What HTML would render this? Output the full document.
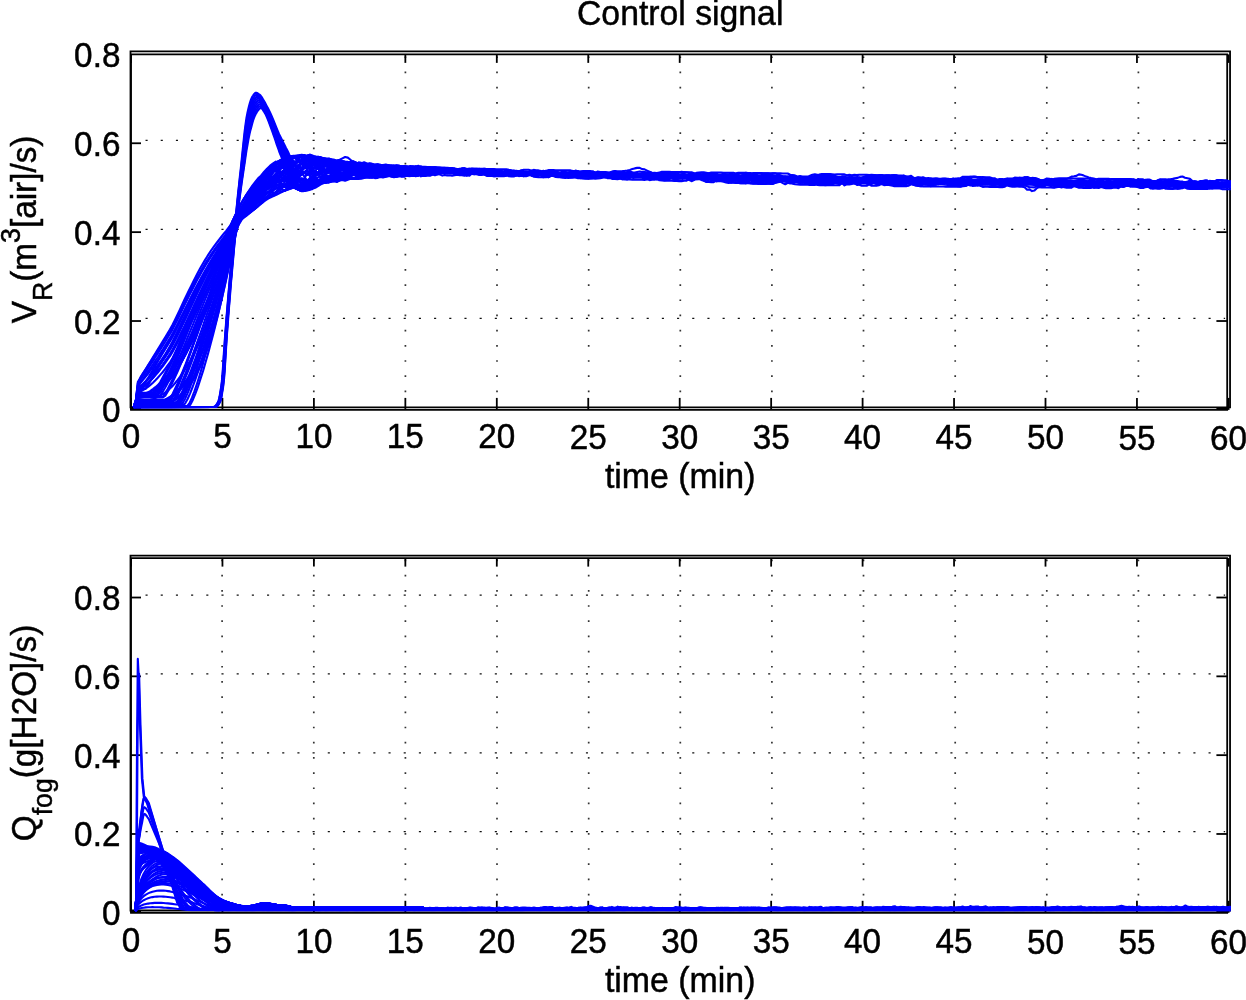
<!DOCTYPE html>
<html lang="en"><head><meta charset="utf-8"><title>Control signal</title>
<style>html,body{margin:0;padding:0;background:#fff}body{width:1246px;height:1000px;overflow:hidden}svg{display:block}text{font-family:"Liberation Sans", Arial, Helvetica, sans-serif;fill:#000}</style></head><body>
<svg width="1246" height="1000" viewBox="0 0 1246 1000">
<rect width="1246" height="1000" fill="#fff"/>
<defs>
<clipPath id="c1"><rect x="130.5" y="51.3" width="1100.3" height="357.2"/></clipPath>
<clipPath id="c2"><rect x="130.5" y="555.6" width="1100.3" height="355.6"/></clipPath>
</defs>
<g font-size="33.3" stroke="#000" stroke-width="0.45"><text transform="translate(680.2 25) scale(1.014 1.08)" text-anchor="middle">Control signal</text></g>
<g stroke="#333" stroke-width="1.7" stroke-dasharray="1.7 13.486" fill="none">
<path d="M222.1 392.2V54.3"/>
<path d="M313.8 392.2V54.3"/>
<path d="M405.4 392.2V54.3"/>
<path d="M497 392.2V54.3"/>
<path d="M588.7 392.2V54.3"/>
<path d="M680.3 392.2V54.3"/>
<path d="M771.9 392.2V54.3"/>
<path d="M863.5 392.2V54.3"/>
<path d="M955.2 392.2V54.3"/>
<path d="M1046.8 392.2V54.3"/>
<path d="M1138.4 392.2V54.3"/>
</g>
<g stroke="#111" stroke-width="1.2" stroke-dasharray="2.1 13.086" fill="none">
<path d="M145.53 318.3H1225.1"/>
<path d="M145.53 229.3H1225.1"/>
<path d="M145.53 140.3H1225.1"/>
</g>
<g stroke="#000" fill="none" stroke-width="1.8" stroke-linejoin="miter">
<path d="M130.5 51.3H1230.06V407.3H130.5Z"/>
<path d="M131 54.38H1227.2V409.9H131Z"/>
<path d="M131 409.9V397.9"/>
<path d="M131 54.38V62.88"/>
<path d="M222.45 409.9V397.9"/>
<path d="M222.45 54.38V62.88"/>
<path d="M313.9 409.9V397.9"/>
<path d="M313.9 54.38V62.88"/>
<path d="M405.35 409.9V397.9"/>
<path d="M405.35 54.38V62.88"/>
<path d="M496.8 409.9V397.9"/>
<path d="M496.8 54.38V62.88"/>
<path d="M588.25 409.9V397.9"/>
<path d="M588.25 54.38V62.88"/>
<path d="M679.7 409.9V397.9"/>
<path d="M679.7 54.38V62.88"/>
<path d="M771.15 409.9V397.9"/>
<path d="M771.15 54.38V62.88"/>
<path d="M862.6 409.9V397.9"/>
<path d="M862.6 54.38V62.88"/>
<path d="M954.05 409.9V397.9"/>
<path d="M954.05 54.38V62.88"/>
<path d="M1045.5 409.9V397.9"/>
<path d="M1045.5 54.38V62.88"/>
<path d="M1136.95 409.9V397.9"/>
<path d="M1136.95 54.38V62.88"/>
<path d="M1228.6 409.9V397.9"/>
<path d="M1228.6 54.38V62.88"/>
<path d="M131 408.9H141"/>
<path d="M1227.2 408.9H1216.4"/>
<path d="M131 321.02H141"/>
<path d="M1227.2 321.02H1216.4"/>
<path d="M131 232.14H141"/>
<path d="M1227.2 232.14H1216.4"/>
<path d="M131 143.26H141"/>
<path d="M1227.2 143.26H1216.4"/>
</g>
<path fill="#00f" stroke="#00f" stroke-width="1.6" stroke-linejoin="round" clip-path="url(#c1)" d="M414.6 168.1L417.3 168.8L420 168.9L422.8 168.9L425.5 168.4L428.2 169.1L431 169.5L433.7 167.9L436.4 167.7L439.2 167.9L441.9 168.6L444.6 169.7L447.4 169.4L450.1 170L452.8 170.2L455.6 170.3L458.3 170.1L461 169.2L463.8 170.6L466.5 170.7L469.2 169.8L472 170.5L474.7 169.4L477.4 170.3L480.2 170.6L482.9 171L485.6 170L488.4 169.5L491.1 170.8L493.8 171.1L496.6 170.9L499.3 171.4L502 171.4L504.8 171.2L507.5 171.1L510.2 171L513 170.7L515.7 171.7L518.4 171.6L521.2 171L523.9 171.8L526.6 171.8L529.4 171.7L532.1 171.5L534.8 172L537.6 172.1L540.3 171.7L543 171.6L545.8 172.1L548.5 171.6L551.2 171.9L554 171.9L556.7 171.9L559.4 172.5L562.2 171.6L564.9 171.5L567.6 172.3L570.4 171.7L573.1 171.9L575.8 172.3L578.6 171.9L581.3 171L584 171.1L586.8 171.2L589.5 172.9L592.2 172.5L595 172.6L597.7 171.3L600.4 171.7L603.2 171.9L605.9 171.9L608.6 172.7L611.4 172.6L614.1 172.9L616.8 173L619.6 173.1L622.3 172.8L625 173.3L627.8 173L630.5 173L633.2 173.5L636 173.7L638.7 173.5L641.4 173.3L644.2 173.7L646.9 173.1L649.6 173.7L652.4 173.2L655.1 173.4L657.8 173.4L660.6 174L663.3 173.6L666 174.3L668.8 173.3L671.5 173.2L674.2 173.6L677 174.4L679.7 174L682.4 173.7L685.2 173.9L687.9 174.6L690.6 174.4L693.4 173.9L696.1 173.7L698.8 173.6L701.6 174L704.3 173.6L707 173.6L709.8 174.7L712.5 173.9L715.2 173.3L718 174.5L720.7 174.9L723.4 174.9L726.2 174.6L728.9 174.8L731.6 174.5L734.4 174.8L737.1 174.3L739.8 175L742.6 175.4L745.3 174.4L748 174.6L750.8 174.4L753.5 173.8L756.3 174.5L759 175.4L761.7 174.8L764.5 174.2L767.2 174.8L769.9 174.9L772.7 174.8L775.4 175.8L778.1 175.7L780.9 175.7L783.6 176L786.3 176L789.1 176.1L791.8 174.9L794.5 175L797.3 176.2L800 175.9L802.7 176.3L805.5 176.2L808.2 176.3L810.9 176.2L813.7 175.8L816.4 174.6L819.1 174.3L821.9 173.9L824.6 175L827.3 174.2L830.1 174.1L832.8 175L835.5 176.5L838.3 176.8L841 177L843.7 177L846.5 177L849.2 176.8L851.9 177.1L854.7 177L857.4 176.7L860.1 177.2L862.9 177L865.6 176.8L868.3 176.4L871.1 177.4L873.8 176.4L876.5 177.2L879.3 176.7L882 177.3L884.7 177.6L887.5 176.2L890.2 176.3L892.9 176.7L895.7 177.7L898.4 177.6L901.1 177.7L903.9 177.9L906.6 178.1L909.3 177.8L912.1 177.9L914.8 178.1L917.5 177.1L920.3 178.1L923 176.9L925.7 178L928.5 177.8L931.2 178.4L933.9 178.3L936.7 178.4L939.4 178.5L942.1 178.6L944.9 178.3L947.6 178.7L950.3 178.8L953.1 178.7L955.8 178.2L958.5 178.2L961.3 178.5L964 179L966.7 178.8L969.5 177.9L972.2 179.1L974.9 179.3L977.7 179.5L980.4 179.2L983.1 179.5L985.9 179.2L988.6 179.6L991.3 179.6L994.1 179L996.8 179.5L999.5 178.8L1002.3 178.8L1005 179.4L1007.7 179.7L1010.5 179.3L1013.2 179.2L1015.9 179.2L1018.7 178.5L1021.4 178L1024.1 178.9L1026.9 179.6L1029.6 178.7L1032.3 179.3L1035.1 179.2L1037.8 180.2L1040.5 180.4L1043.3 180.1L1046 179.3L1048.7 179.3L1051.5 180L1054.2 179.6L1056.9 178.8L1059.7 180.3L1062.4 180.2L1065.1 180.5L1067.9 180.2L1070.6 180.1L1073.3 180.8L1076.1 180.4L1078.8 180L1081.5 179.3L1084.3 179.9L1087 181L1089.7 180.6L1092.5 179.7L1095.2 181.2L1097.9 180.8L1100.7 179.3L1103.4 181.2L1106.1 181.3L1108.9 180.5L1111.6 181.1L1114.3 181L1117.1 181.4L1119.8 180.9L1122.5 181.3L1125.3 181.4L1128 181.3L1130.8 180.9L1133.5 179.3L1136.2 179.8L1139 181.1L1141.7 181.3L1144.4 180.6L1147.2 179.8L1149.9 179.4L1152.6 180.9L1155.4 180.8L1158.1 181.2L1160.8 181.6L1163.6 180.9L1166.3 180L1169 180.9L1171.8 182L1174.5 181.8L1177.2 181.9L1180 182L1182.7 182.1L1185.4 181.8L1188.2 181.5L1190.9 181.6L1193.6 181.8L1196.4 182.2L1199.1 181.9L1201.8 182.3L1204.6 181.2L1207.3 181.7L1210 181.3L1212.8 182.2L1215.5 182.1L1218.2 182L1221 182.5L1223.7 182.3L1226.4 181.7L1229.2 181.7L1231.9 182.1L1231.9 186.9L1229.2 186.9L1226.4 187.3L1223.7 187.9L1221 187.5L1218.2 187L1215.5 187.5L1212.8 187.4L1210 188.1L1207.3 187.2L1204.6 187L1201.8 187.3L1199.1 186.8L1196.4 186.7L1193.6 186.9L1190.9 186.5L1188.2 186.6L1185.4 186.6L1182.7 186.7L1180 187.4L1177.2 186.8L1174.5 186.5L1171.8 187L1169 186.6L1166.3 186.3L1163.6 186.5L1160.8 186.4L1158.1 187.7L1155.4 186.9L1152.6 187.3L1149.9 186.6L1147.2 186.1L1144.4 187.3L1141.7 188.1L1139 187.4L1136.2 186.8L1133.5 186.7L1130.8 186.9L1128 186.1L1125.3 185.9L1122.5 185.9L1119.8 186.4L1117.1 186.4L1114.3 186L1111.6 186.1L1108.9 186.3L1106.1 186.1L1103.4 186.3L1100.7 187.2L1097.9 187.1L1095.2 186.4L1092.5 186.2L1089.7 186.6L1087 186.6L1084.3 185.7L1081.5 186.9L1078.8 186.3L1076.1 185.4L1073.3 185.9L1070.6 185.6L1067.9 186.9L1065.1 186.7L1062.4 186.7L1059.7 185.3L1056.9 185.6L1054.2 185.9L1051.5 185.1L1048.7 185.8L1046 185L1043.3 185.5L1040.5 185.2L1037.8 185.7L1035.1 185.3L1032.3 185L1029.6 185L1026.9 185L1024.1 185.5L1021.4 185.5L1018.7 186.2L1015.9 186.3L1013.2 186.3L1010.5 185.7L1007.7 185.6L1005 184.7L1002.3 184.9L999.5 184.9L996.8 184.7L994.1 185L991.3 185.2L988.6 184.7L985.9 184.5L983.1 184.7L980.4 185.1L977.7 185.9L974.9 185.7L972.2 184.7L969.5 184.3L966.7 185.4L964 185.7L961.3 186L958.5 184.7L955.8 185.3L953.1 184.9L950.3 186.2L947.6 185.1L944.9 184.8L942.1 184.3L939.4 184.2L936.7 184.7L933.9 185.2L931.2 185.2L928.5 185L925.7 184.9L923 184.5L920.3 184.6L917.5 185.8L914.8 184.9L912.1 184.3L909.3 183.7L906.6 183.7L903.9 184.5L901.1 185L898.4 184.2L895.7 184.1L892.9 184.3L890.2 184.4L887.5 183.8L884.7 184.1L882 184.5L879.3 184.6L876.5 184.6L873.8 183.3L871.1 184.6L868.3 184L865.6 183.7L862.9 183.5L860.1 184.1L857.4 185.3L854.7 183.7L851.9 183L849.2 183.3L846.5 183.4L843.7 183.8L841 183.9L838.3 184.1L835.5 183L832.8 184.2L830.1 184.5L827.3 183.3L824.6 183.2L821.9 182.9L819.1 182.7L816.4 182.8L813.7 182.6L810.9 183.3L808.2 183.3L805.5 183.4L802.7 182.7L800 182.5L797.3 182.1L794.5 182.8L791.8 182.9L789.1 182.6L786.3 182.2L783.6 181.7L780.9 181.8L778.1 182.5L775.4 182.6L772.7 182.7L769.9 183L767.2 182.6L764.5 181.6L761.7 181.9L759 181.3L756.3 181.3L753.5 181.8L750.8 181L748 180.9L745.3 181.4L742.6 182.6L739.8 182L737.1 181L734.4 180.4L731.6 181.1L728.9 181L726.2 180.4L723.4 180L720.7 180.1L718 180.7L715.2 180L712.5 180.9L709.8 179.8L707 180L704.3 180.5L701.6 179.7L698.8 179.3L696.1 179.5L693.4 180.2L690.6 180.2L687.9 179.6L685.2 178.8L682.4 179.2L679.7 178.8L677 178.9L674.2 178.8L671.5 178.7L668.8 178.9L666 179.5L663.3 179.1L660.6 179.2L657.8 178.2L655.1 178.6L652.4 178.2L649.6 178.3L646.9 179.5L644.2 178.9L641.4 177.7L638.7 177.9L636 177.6L633.2 178.3L630.5 177.3L627.8 177.9L625 177.8L622.3 177.7L619.6 177.4L616.8 178L614.1 178.1L611.4 177.9L608.6 177.4L605.9 177.9L603.2 177L600.4 177L597.7 176.5L595 176.9L592.2 176.5L589.5 176.8L586.8 176.2L584 176.2L581.3 176.3L578.6 176L575.8 176.4L573.1 176.6L570.4 175.8L567.6 176.9L564.9 177.5L562.2 176.9L559.4 176.3L556.7 176L554 176.3L551.2 176.2L548.5 175.4L545.8 175.1L543 176.2L540.3 175.1L537.6 176L534.8 176.3L532.1 176.3L529.4 175L526.6 174.7L523.9 175.5L521.2 175.8L518.4 175.1L515.7 174.7L513 175.6L510.2 175.7L507.5 174.4L504.8 174.4L502 174.7L499.3 174.7L496.6 174.9L493.8 175.3L491.1 175.1L488.4 174.7L485.6 174.5L482.9 174.2L480.2 174.7L477.4 174.5L474.7 174L472 174.3L469.2 174.8L466.5 175.9L463.8 174.4L461 173.4L458.3 174.9L455.6 174.7L452.8 173.8L450.1 173.4L447.4 173.9L444.6 173.4L441.9 173.5L439.2 173.7L436.4 173.5L433.7 174.1L431 173.6L428.2 174.4L425.5 173.8L422.8 174.6L420 174.4L417.3 174.3L414.6 175Z"/>
<g fill="none" stroke="#00f" stroke-width="2.1" stroke-linejoin="round" stroke-linecap="butt" clip-path="url(#c1)">
<path d="M133.6 407.3L136 407.3L137.8 407.3L140.6 407.3L143 407.3L145.5 407.2L148 407.2L150.4 407L152.9 406.9L155.3 406.6L157.8 406.3L160.3 405.8L162.7 405.2L165.2 404.5L167.7 403.7L170.1 402.6L172.6 401.3L175 399.9L177.5 398.1L180 396.2L182.4 393.9L184.9 391.3L187.3 388.4L189.8 385.1L192.2 381.5L194.7 377.5L197.1 373L199.6 368.1L202 362.7L204.5 356.8L207 350.3L209.4 343.3L211.9 335.8L214.3 327.6L216.8 318.7L219.2 309.2L221.7 299L224.1 288.1L226.6 276.4L229 263.9L231.5 250.7L234 236.5L236.4 221.5L239.1 218.9L241.9 216.3L244.6 213.7L247.3 211L250 208.4L252.7 205.9L255.4 202.9L258.2 199.9L260.9 197.3L263.6 195.5L266.3 194.3L269.1 191L271.8 188L274.5 185.7L277.2 185.5L279.9 184.2L282.7 180.1L285.4 179.2L288.1 176.1L290.8 177.8L293.5 173.5L296.2 177.8L299 181.1L301.7 183.6L304.4 185.2L307.1 184.9L309.8 182L312.5 182.7L315.2 183.2L318 183.4L320.7 182.7L323.4 182.7L326.1 182.5L328.8 178L331.5 173L334.2 173.6L336.9 171.8L339.7 173.1L342.4 179.5L345.1 176.8L347.8 176.6L350.5 175.7L353.2 175.1L355.9 175.3L358.6 176.8L361.3 176.8L364.1 177.3L366.8 177.3L369.5 177.1L372.2 177.2L374.9 177.7L377.6 177.3L380.3 176.9L383 177.4L385.8 176.7L388.5 176L391.2 175.9L393.9 176.2L396.6 175.6L399.3 174.7L402 175.2L404.7 173.2L407.4 174.5L410.2 172.3L412.9 172.7L415.6 171.5L418.3 173.3L421 174.2L423.7 173.4"/>
<path d="M133.6 407.3L136 407.2L137.8 407.1L140.6 407.1L143 407L145.5 407L148 406.9L150.4 406.8L152.9 406.6L155.3 406.3L157.8 405.9L160.2 405.4L162.7 404.8L165.1 404L167.6 403.1L170 401.9L172.5 400.6L174.9 399L177.3 397.2L179.8 395.2L182.2 392.8L184.6 390.1L187 387.1L189.5 383.8L191.9 380.1L194.3 375.9L196.7 371.4L199.1 366.4L201.4 360.9L203.8 355L206.2 348.5L208.6 341.5L211 334L213.4 325.8L215.8 317L218.2 307.6L220.6 297.5L223 286.8L225.4 275.3L227.8 263L230.3 250L232.7 236.2L235.2 221.5L237.9 217.5L240.6 213.6L243.4 209.8L246.1 206.2L248.9 202.7L251.7 199.4L254.4 196.4L257.2 193.4L260 189.7L262.8 187.1L265.6 185.8L268.4 183.2L271.2 180.2L274 179.8L276.8 174.6L279.5 177.2L282.3 172.6L285.1 169.1L287.9 162.3L290.6 158.5L293.4 157.1L296.1 159.3L298.8 160.8L301.6 161.4L304.3 165.5L307 160L309.8 157.9L312.5 156.4L315.2 158.2L317.9 162.8L320.7 161.1L323.4 162.6L326.1 163.8L328.8 164.7L331.5 166.3L334.2 166.4L336.9 164.8L339.7 168.2L342.4 170.5L345.1 171.2L347.8 169.3L350.5 170.3L353.2 174.1L355.9 175.6L358.6 173.3L361.3 173.8L364.1 171.9L366.8 170.5L369.5 172.3L372.2 171.4L374.9 170.6L377.6 170.7L380.3 172.1L383 170.5L385.8 168.7L388.5 168.4L391.2 168.5L393.9 169.2L396.6 169.4L399.3 171.4L402 172.9L404.7 171.6L407.4 172.3L410.2 171.3L412.9 169.4L415.6 169.9L418.3 171L421 169.6L423.7 170.1"/>
<path d="M133.6 407.3L136 407L137.8 406.6L140.6 406.6L143 406.6L145.5 406.6L148 406.6L150.4 406.6L152.9 406.6L155.4 406.6L157.9 406.6L160.3 406.6L162.8 406.6L165.3 406.6L167.8 406.6L170.2 406.6L172.7 406.5L175.2 406.5L177.7 406.5L180.2 406.4L182.7 406.4L185.2 406.4L187.8 406.3L190.3 404.8L192.8 399.9L195.3 393.8L197.9 386.8L200.4 379.2L203 371.1L205.5 362.5L208.1 353.4L210.6 344L213.2 334.3L215.7 324.2L218.3 313.8L220.8 303.1L223.3 292.2L225.9 281L228.4 269.5L230.9 257.9L233.4 246L235.9 233.9L238.3 221.5L241 217.7L243.7 214L246.4 210.4L249.1 206.9L251.7 203.7L254.3 201.4L257 198.5L259.6 195.9L262.2 192.7L264.8 190.7L267.4 187.9L270 185.1L272.7 181.7L275.3 180.3L277.9 182.2L280.5 181.4L283.2 181.1L285.8 174L288.5 175.4L291.1 176.8L293.8 181.4L296.5 182.5L299.1 178.7L301.8 185.8L304.5 185.2L307.2 184.9L309.9 181L312.6 181.1L315.3 178.6L318 183.3L320.7 182.7L323.4 181L326.1 175.9L328.8 176.3L331.5 180.6L334.2 178.7L336.9 180.8L339.7 178L342.4 179.1L345.1 177.3L347.8 178.9L350.5 176.7L353.2 174.7L355.9 174.9L358.6 173.9L361.3 173.3L364.1 172L366.8 169.6L369.5 170.4L372.2 171.4L374.9 170.9L377.6 172.9L380.3 171.4L383 170.3L385.8 169.8L388.5 170.8L391.2 173.1L393.9 174.3L396.6 174.1L399.3 174.3L402 173.8L404.7 173.4L407.4 174L410.2 172.3L412.9 174.2L415.6 175.2L418.3 175.2L421 174.6L423.7 174.6"/>
<path d="M133.6 407.3L136 407L137.8 406.4L140.6 406.4L143 406.4L145.5 406.4L148 406.4L150.4 406.4L152.9 406.4L155.3 406.4L157.8 406.4L160.2 406.4L162.7 406.4L165.2 406.4L167.6 406.4L170.1 406.4L172.5 406.3L174.9 406.3L177.4 406.3L179.8 406.2L182.3 406.2L184.7 406.1L187.1 406.1L189.5 403.1L192 397.7L194.4 391.4L196.8 384.3L199.2 376.7L201.6 368.6L204 360L206.4 351L208.8 341.7L211.3 332.1L213.7 322.1L216.1 311.9L218.5 301.4L220.9 290.7L223.3 279.7L225.8 268.5L228.2 257.1L230.6 245.4L233.1 233.6L235.5 221.5L238.3 220L241 218.4L243.7 216.7L246.5 214.8L249.2 212.8L252 210.6L254.7 208.6L257.5 206.5L260.3 204.5L263 202.1L265.8 200.2L268.6 198.4L271.4 197L274.1 195.9L276.9 194.5L279.7 193L282.4 191.7L285.2 190.3L287.9 189.4L290.7 188.7L293.4 187.5L296.1 187.2L298.9 186.5L301.6 186L304.3 186.4L307.1 185.9L309.8 185.3L312.5 184.6L315.2 182.3L317.9 182.2L320.7 178.8L323.4 178.1L326.1 179.2L328.8 177.6L331.5 177.3L334.2 175L336.9 173.8L339.7 171.3L342.4 173L345.1 172.8L347.8 171.3L350.5 173.6L353.2 174.5L355.9 174.2L358.6 173.5L361.3 173.5L364.1 173.8L366.8 175.5L369.5 174.8L372.2 177L374.9 177.3L377.6 176.7L380.3 176.5L383 176.8L385.8 176.2L388.5 175.5L391.2 176.5L393.9 177.2L396.6 176.7L399.3 176L402 176.1L404.7 175.9L407.4 175.8L410.2 175.6L412.9 175.5L415.6 175.6L418.3 174.9L421 173.7L423.7 174.4"/>
<path d="M133.6 407.3L136 406.7L137.8 405.5L140.6 405.5L143 405.5L145.5 405.4L148 405.2L150.4 405L152.9 404.7L155.4 404.2L157.8 403.7L160.3 403L162.7 402.1L165.2 401.1L167.7 399.8L170.1 398.4L172.6 396.7L175 394.7L177.5 392.5L180 390L182.4 387.2L184.9 384.1L187.3 380.7L189.8 377L192.2 372.9L194.7 368.5L197.2 363.6L199.6 358.4L202.1 352.8L204.5 346.7L207 340.2L209.4 333.3L211.9 325.8L214.3 317.9L216.8 309.5L219.3 300.5L221.7 291L224.2 280.9L226.6 270.3L229.1 259L231.6 247.2L234 234.7L236.5 221.5L239.2 219.9L241.9 218.2L244.6 216.4L247.3 214.5L250 212.5L252.8 210.1L255.5 208.2L258.2 205.7L260.9 203.2L263.6 200.1L266.4 196.5L269.1 194.7L271.8 191.8L274.5 187.5L277.2 182.4L280 181.4L282.7 179.5L285.4 178.9L288.1 176.6L290.8 177.5L293.5 173.1L296.3 175.1L299 179.4L301.7 180.8L304.4 182.9L307.1 182.6L309.8 184.3L312.5 183.9L315.2 183.5L318 183.5L320.7 183L323.4 182.2L326.1 182.1L328.8 182.2L331.5 179.9L334.2 176.1L336.9 174.8L339.7 173.2L342.4 173.9L345.1 172.6L347.8 170.4L350.5 172.9L353.2 169.9L355.9 170.4L358.6 167.2L361.3 168L364.1 171.2L366.8 172.6L369.5 172.5L372.2 173.6L374.9 172.9L377.6 173.2L380.3 176.4L383 174.6L385.8 175.5L388.5 175.3L391.2 176.4L393.9 175.5L396.6 174.7L399.3 175.8L402 176.1L404.7 175L407.4 176L410.2 176.1L412.9 175L415.6 176.2L418.3 175.8L421 174.5L423.7 174.8"/>
<path d="M133.6 407.3L136 406.3L137.8 404.5L140.6 404.5L143 404.5L145.5 404.3L148 404.2L150.4 403.9L152.9 403.5L155.4 403L157.8 402.4L160.3 401.6L162.8 400.6L165.3 399.5L167.7 398.1L170.2 396.6L172.7 394.8L175.2 392.7L177.7 390.3L180.2 387.7L182.7 384.8L185.2 381.5L187.7 378L190.2 374.1L192.7 369.9L195.2 365.4L197.8 360.5L200.3 355.2L202.8 349.5L205.3 343.5L207.9 337L210.4 330.1L213 322.7L215.5 314.9L218 306.7L220.5 297.9L223.1 288.6L225.6 278.8L228.1 268.5L230.6 257.6L233.1 246.2L235.5 234.2L238 221.5L240.7 218.3L243.4 215.2L246.1 212.1L248.8 209L251.4 206.1L254.1 203.2L256.7 200.8L259.4 198.2L262 194.9L264.6 192L267.3 189.3L269.9 186.7L272.5 184.1L275.2 181.3L277.8 181.7L280.4 182.6L283.1 184.9L285.7 186.7L288.4 184.1L291.1 184L293.7 186.6L296.4 183.3L299.1 184.4L301.8 183.7L304.5 182L307.2 184L309.9 178.6L312.6 178L315.3 179.2L318 177.3L320.7 176.5L323.4 178L326.1 174L328.8 171.8L331.5 170.6L334.2 170.6L336.9 166.5L339.7 165.2L342.4 165.3L345.1 164.6L347.8 165.2L350.5 167.1L353.2 167.8L355.9 167L358.6 169.6L361.3 171.8L364.1 171.8L366.8 172.5L369.5 175.4L372.2 175.4L374.9 174L377.6 173.1L380.3 172.7L383 172.7L385.8 172.6L388.5 173L391.2 172.7L393.9 171.8L396.6 171L399.3 170.4L402 171.1L404.7 171.8L407.4 172.7L410.2 173.4L412.9 172.5L415.6 172.5L418.3 173L421 173.2L423.7 173"/>
<path d="M133.6 407.3L136 406.6L137.8 405.3L140.6 405.3L143 405.3L145.5 405.3L148 405.3L150.4 405.3L152.9 405.3L155.4 405.3L157.8 405.3L160.3 405.3L162.8 405.3L165.2 405.3L167.7 405.3L170.2 405.3L172.7 405.3L175.2 405.2L177.6 405.1L180.1 405L182.6 405L185.1 403.6L187.6 399L190.1 393.3L192.6 387L195.1 380.1L197.6 372.8L200.1 365.1L202.6 357.1L205.2 348.7L207.7 340.2L210.2 331.4L212.7 322.3L215.2 313L217.7 303.6L220.3 293.9L222.8 284.1L225.3 274.1L227.8 263.9L230.2 253.6L232.7 243L235.2 232.4L237.7 221.5L240.4 217L243.1 212.6L245.8 208.4L248.4 204.4L251.1 200.7L253.8 197.1L256.4 193.6L259.1 190.8L261.7 187.6L264.4 182.2L267.1 179.7L269.7 175.7L272.4 172.2L275 170.9L277.7 167L280.3 161.9L283 159.1L285.7 157.9L288.3 156.8L291 156.7L293.7 156.7L296.4 157.6L299.1 156.1L301.8 156.6L304.5 156.6L307.2 155.7L309.9 155.2L312.6 156.3L315.3 160.8L318 164.3L320.7 160.9L323.4 161.2L326.1 160.3L328.8 161.1L331.5 161.7L334.2 161L336.9 163L339.7 166.8L342.4 166L345.1 162.9L347.8 162.6L350.5 162.1L353.2 162.6L355.9 162.6L358.6 164L361.3 166.3L364.1 168.9L366.8 169.2L369.5 169.6L372.2 169.3L374.9 170.2L377.6 169.2L380.3 169.4L383 168.6L385.8 169.2L388.5 169.5L391.2 170.9L393.9 170.1L396.6 169.4L399.3 170.4L402 169.6L404.7 171.5L407.4 169.9L410.2 169.5L412.9 169.1L415.6 168.8L418.3 170.2L421 168.7L423.7 167.9"/>
<path d="M133.6 407.3L136 406.4L137.8 404.7L140.6 404.7L143 404.7L145.5 404.7L148 404.7L150.4 404.7L152.9 404.7L155.4 404.7L157.8 404.7L160.3 404.7L162.7 404.7L165.2 404.7L167.7 404.7L170.1 404.7L172.6 404.6L175.1 404.5L177.5 404.4L180 404.3L182.5 403.4L185 399L187.4 393.6L189.9 387.5L192.4 380.9L194.8 373.9L197.3 366.6L199.8 358.9L202.3 351L204.7 342.9L207.2 334.6L209.7 326.1L212.2 317.3L214.7 308.5L217.1 299.4L219.6 290.2L222.1 280.8L224.5 271.3L227 261.6L229.5 251.8L232 241.9L234.4 231.8L236.9 221.5L239.6 217.6L242.3 213.7L245 209.9L247.7 206.3L250.4 202.9L253.1 199.6L255.8 196.6L258.5 193.1L261.2 188.9L263.9 185.8L266.6 184.1L269.3 180.6L272 180L274.7 179.2L277.4 176.3L280.1 174.1L282.8 171.5L285.5 171L288.2 171.8L290.9 173.5L293.6 173.6L296.3 177.8L299 175.8L301.7 175L304.4 172.1L307.1 170.9L309.8 172.6L312.5 171.7L315.3 170.9L318 167.5L320.7 165.6L323.4 164.6L326.1 164.2L328.8 165.1L331.5 166.7L334.2 168.5L336.9 168.8L339.7 167.8L342.4 167.2L345.1 168.5L347.8 169.7L350.5 172.8L353.2 172.7L355.9 172.3L358.6 170.5L361.3 170.1L364.1 168.4L366.8 167.4L369.5 166.9L372.2 165.6L374.9 167L377.6 165.5L380.3 165.2L383 165.8L385.8 165.8L388.5 165.9L391.2 166.4L393.9 165.6L396.6 167L399.3 168.1L402 168.2L404.7 169.6L407.4 169.6L410.2 169.7L412.9 170.7L415.6 171L418.3 171.6L421 171.4L423.7 171.4"/>
<path d="M133.6 407.3L136 406.2L137.8 404.3L140.6 404.3L143 404.3L145.5 404.3L147.9 404.3L150.4 404.3L152.9 404.3L155.3 404.3L157.8 404.3L160.2 404.3L162.6 404.3L165.1 404.3L167.5 404.3L170 404.3L172.4 404.2L174.8 404.1L177.2 404L179.6 403.8L182 400.9L184.4 396L186.8 390.3L189.1 384L191.5 377.4L193.9 370.3L196.2 363L198.6 355.5L200.9 347.7L203.2 339.7L205.5 331.5L207.9 323.1L210.2 314.6L212.5 305.9L214.9 297.1L217.2 288.1L219.6 279L221.9 269.8L224.3 260.4L226.7 250.9L229.1 241.2L231.6 231.4L234 221.5L236.7 219.4L239.5 217.2L242.2 214.9L245 212.6L247.8 210.2L250.7 207.8L253.5 205.8L256.4 203.4L259.2 201.3L262.1 199L264.9 198L267.8 196.3L270.7 195.1L273.5 193.8L276.3 192.6L279.2 190.2L282 191.6L284.8 190.4L287.6 187.1L290.4 187.5L293.2 185L296 183.5L298.7 181.6L301.5 179.4L304.2 181.6L307 183.7L309.7 184.3L312.5 183.4L315.2 182.1L317.9 182.1L320.6 183.5L323.4 183.2L326.1 181.9L328.8 181.4L331.5 180.9L334.2 180.9L336.9 181.2L339.6 180.3L342.4 180L345.1 180.8L347.8 179.7L350.5 178.8L353.2 179L355.9 178.9L358.6 179L361.3 178.7L364.1 178L366.8 177.2L369.5 177.8L372.2 177.4L374.9 176.5L377.6 176.5L380.3 175.9L383 175.1L385.8 175.4L388.5 173.6L391.2 172.3L393.9 173.1L396.6 171.1L399.3 171.2L402 171.2L404.7 171.4L407.4 171.8L410.2 171.9L412.9 172.6L415.6 173.3L418.3 172.2L421 172.2L423.7 174.1"/>
<path d="M133.6 407.3L136 406.1L137.8 404L140.6 404L143 404L145.5 404L148 404L150.4 404L152.9 404L155.4 404L157.8 404L160.3 404L162.8 404L165.2 404L167.7 404L170.2 404L172.6 403.9L175.1 403.8L177.6 403.6L180 403.1L182.5 398.9L185 393.7L187.5 387.8L190 381.5L192.4 374.8L194.9 367.8L197.4 360.5L199.9 353L202.4 345.2L204.9 337.3L207.4 329.2L209.9 321L212.3 312.6L214.8 304.1L217.3 295.4L219.8 286.6L222.3 277.7L224.8 268.7L227.2 259.5L229.7 250.2L232.2 240.8L234.7 231.2L237.1 221.5L239.8 216.8L242.5 212.2L245.2 207.9L247.9 203.7L250.6 199.7L253.3 195.6L256 191.3L258.7 186.5L261.4 182.9L264.1 178.2L266.7 175.1L269.4 170.4L272.1 168.2L274.8 166.4L277.5 161.9L280.2 161.2L282.8 162.3L285.5 162L288.2 161.3L290.9 158.4L293.6 156.7L296.3 158L299 159.7L301.7 161.3L304.4 159.4L307.1 156.3L309.8 161.2L312.6 158.7L315.3 156.4L318 157.3L320.7 157.3L323.4 161.2L326.1 166.3L328.8 167.4L331.5 165.4L334.2 166.2L336.9 168.6L339.7 170.2L342.4 169.2L345.1 168L347.8 166.6L350.5 165.7L353.2 164.6L355.9 165.7L358.6 164L361.3 165.3L364.1 165.9L366.8 164.1L369.5 163.4L372.2 163.8L374.9 166.3L377.6 167.3L380.3 168.5L383 168.8L385.8 169.9L388.5 169.9L391.2 169.5L393.9 169.9L396.6 169L399.3 168.6L402 168.3L404.7 168.8L407.4 167.6L410.2 167.9L412.9 167L415.6 167.5L418.3 168L421 167.2L423.7 167.5"/>
<path d="M133.6 407.3L136 406L137.8 403.6L140.6 403.6L143 403.6L145.5 403.6L148 403.6L150.4 403.6L152.9 403.6L155.3 403.6L157.8 403.6L160.2 403.6L162.7 403.6L165.1 403.6L167.6 403.6L170 403.6L172.5 403.5L174.9 403.4L177.4 403.2L179.8 401.1L182.2 396.4L184.7 390.9L187.1 384.9L189.5 378.5L191.9 371.8L194.3 364.8L196.7 357.5L199.1 350.1L201.5 342.4L203.9 334.6L206.3 326.7L208.7 318.6L211.1 310.4L213.5 302L215.9 293.5L218.3 284.9L220.7 276.2L223.1 267.4L225.6 258.5L228 249.4L230.4 240.2L232.9 231L235.3 221.5L238.1 219.7L240.8 217.7L243.5 215.7L246.3 213.6L249 211.4L251.8 208.9L254.6 205.8L257.3 202.8L260.1 199.7L262.9 196.9L265.7 194.2L268.5 192.6L271.3 189.8L274 189.3L276.8 188.3L279.6 187.8L282.4 189.6L285.1 190.7L287.9 189.6L290.6 188.2L293.4 187.7L296.1 187.3L298.9 187.2L301.6 186.6L304.3 185.8L307.1 185.1L309.8 185L312.5 184.3L315.2 183.3L317.9 183.5L320.7 183.5L323.4 182L326.1 179.4L328.8 180.4L331.5 179.1L334.2 176L336.9 174.1L339.7 173.9L342.4 172.7L345.1 173.6L347.8 174.5L350.5 171.6L353.2 171.9L355.9 175.8L358.6 177.8L361.3 176.9L364.1 174L366.8 174.7L369.5 175.1L372.2 176L374.9 174.3L377.6 173.9L380.3 172.5L383 174.3L385.8 174L388.5 172L391.2 172L393.9 173.2L396.6 173.8L399.3 174.5L402 173.1L404.7 171.4L407.4 172.9L410.2 173.8L412.9 174L415.6 174.7L418.3 174.3L421 173.9L423.7 173.5"/>
<path d="M133.6 407.3L136 405.9L137.8 403.2L140.6 403.2L143 403.2L145.5 403.2L148 403.2L150.4 403.2L152.9 403.2L155.4 403.2L157.8 403.2L160.3 403.2L162.8 403.2L165.2 403.2L167.7 403.2L170.2 403.2L172.6 403.1L175.1 402.9L177.6 402.6L180 398.6L182.5 393.5L185 387.8L187.4 381.7L189.9 375.2L192.4 368.5L194.9 361.5L197.4 354.3L199.8 346.9L202.3 339.4L204.8 331.7L207.3 323.9L209.8 316L212.2 307.9L214.7 299.7L217.2 291.5L219.7 283.1L222.2 274.6L224.6 266.1L227.1 257.4L229.6 248.6L232 239.7L234.5 230.7L237 221.5L239.7 217.1L242.4 212.8L245.1 208.7L247.8 204.8L250.5 201.1L253.2 197L255.9 192.7L258.6 188.4L261.3 185.6L264 181.6L266.6 177.8L269.3 174.8L272 172.7L274.7 169.2L277.4 170.2L280.1 172.9L282.8 173L285.5 170.3L288.2 167.1L290.9 168.8L293.6 164.1L296.3 168L299 167.1L301.7 163.9L304.4 165.8L307.1 166.9L309.8 164.8L312.5 162.4L315.3 162.8L318 164.6L320.7 169.4L323.4 169.6L326.1 171.8L328.8 170.8L331.5 169.6L334.2 170.6L336.9 170.8L339.7 170.2L342.4 169.1L345.1 168L347.8 165.3L350.5 167.7L353.2 168.1L355.9 169.6L358.6 169.2L361.3 169.8L364.1 170.6L366.8 169.8L369.5 168.8L372.2 169.5L374.9 169.2L377.6 169L380.3 171.2L383 168.8L385.8 169L388.5 168.1L391.2 167.9L393.9 169L396.6 169.5L399.3 170.2L402 170.2L404.7 169.7L407.4 170L410.2 170.7L412.9 172.7L415.6 173.1L418.3 173.8L421 174.3L423.7 173.7"/>
<path d="M133.6 407.3L136 405.7L137.8 402.7L140.6 402.7L143.1 402.7L145.5 402.7L148 402.7L150.5 402.7L152.9 402.7L155.4 402.7L157.9 402.7L160.3 402.7L162.8 402.7L165.3 402.7L167.8 402.7L170.3 402.7L172.8 402.6L175.3 402.5L177.8 400.5L180.3 395.9L182.8 390.5L185.4 384.7L187.9 378.5L190.5 372L193 365.2L195.6 358.3L198.1 351.2L200.7 343.9L203.3 336.4L205.9 328.9L208.5 321.2L211.1 313.4L213.7 305.5L216.2 297.6L218.8 289.5L221.4 281.4L224 273.1L226.5 264.8L229 256.3L231.6 247.8L234.1 239.2L236.6 230.4L239 221.5L241.7 218.5L244.4 215.5L247.1 212.6L249.7 209.7L252.3 206.8L254.9 204.1L257.5 201.6L260.1 199.3L262.7 197.5L265.3 195L267.8 192.9L270.4 191.5L273 189.1L275.6 186.3L278.2 185.4L280.8 181L283.4 178.6L286 174L288.6 171.1L291.2 171.2L293.9 168.6L296.5 170.1L299.2 172.6L301.9 172.5L304.5 176.9L307.2 180.9L309.9 177.9L312.6 178.4L315.3 177.6L318 181.1L320.7 182.6L323.4 182.1L326.1 181.6L328.8 180.5L331.5 178.4L334.2 177.4L336.9 175.6L339.7 175.9L342.4 175.2L345.1 175L347.8 174.9L350.5 174L353.2 172.6L355.9 170.5L358.6 170.3L361.3 169.1L364.1 168.8L366.8 169L369.5 168.8L372.2 169.1L374.9 169.4L377.6 168.5L380.3 170L383 170.6L385.8 170.6L388.5 170.8L391.2 171.7L393.9 172.4L396.6 171.7L399.3 172.5L402 173.9L404.7 172.3L407.4 173.2L410.2 173L412.9 171.7L415.6 172.9L418.3 173.7L421 173.7L423.7 173.2"/>
<path d="M133.6 407.3L136 405.2L137.8 401.3L140.6 401.2L143 401L145.5 400.7L148 400.3L150.4 399.7L152.9 399L155.4 398L157.9 396.9L160.3 395.6L162.8 394.1L165.3 392.4L167.8 390.5L170.2 388.3L172.7 385.9L175.2 383L177.7 379.9L180.2 376.6L182.7 372.9L185.3 369L187.8 364.8L190.3 360.4L192.8 355.7L195.4 350.8L197.9 345.5L200.5 340L203 334.3L205.6 328.3L208.1 322L210.7 315.4L213.2 308.5L215.8 301.3L218.3 293.8L220.9 286L223.4 277.9L226 269.4L228.5 260.6L231 251.4L233.5 241.8L236 231.9L238.4 221.5L241.1 217.6L243.8 213.8L246.5 210.1L249.1 206.5L251.8 203L254.4 199.5L257 195.6L259.7 191.4L262.3 188.2L264.9 184.8L267.5 182.3L270.1 178.9L272.7 176.9L275.3 174.2L277.9 173L280.6 168.8L283.2 164.6L285.8 163.6L288.5 165.6L291.1 164.8L293.8 161.6L296.5 162L299.1 160.7L301.8 161.6L304.5 160.8L307.2 160.8L309.9 164L312.6 164.5L315.3 166.5L318 169L320.7 166.7L323.4 167.8L326.1 170.2L328.8 166.1L331.5 164.2L334.2 164.9L336.9 167.2L339.7 167.8L342.4 167.2L345.1 169.1L347.8 168.9L350.5 168.4L353.2 170L355.9 170.7L358.6 172L361.3 175L364.1 175.4L366.8 175.2L369.5 174L372.2 173.8L374.9 172.8L377.6 171.4L380.3 171.5L383 170.5L385.8 169.8L388.5 168.8L391.2 168.5L393.9 168.3L396.6 170.2L399.3 170.3L402 171.1L404.7 171.8L407.4 170.9L410.2 170.7L412.9 171.3L415.6 171.6L418.3 171.6L421 171.8L423.7 171.9"/>
<path d="M133.6 407.3L136 405.4L137.8 401.7L140.6 401.7L143.1 401.7L145.5 401.7L148 401.7L150.5 401.7L152.9 401.7L155.4 401.7L157.9 401.7L160.3 401.7L162.8 401.7L165.3 401.7L167.8 401.7L170.3 401.7L172.8 401.6L175.3 399.5L177.8 394.9L180.3 389.6L182.8 383.8L185.3 377.8L187.9 371.5L190.4 365L192.9 358.3L195.5 351.4L198.1 344.4L200.6 337.3L203.2 330.1L205.8 322.9L208.3 315.5L210.9 308.1L213.5 300.6L216.1 293L218.6 285.4L221.2 277.7L223.8 269.9L226.3 262.1L228.8 254.1L231.3 246.1L233.8 238L236.3 229.8L238.8 221.5L241.5 219.6L244.2 217.5L246.9 215.4L249.5 213.2L252.1 211.1L254.7 208.9L257.3 206.4L259.9 203.5L262.5 200.8L265.1 198.9L267.7 196.9L270.3 195.3L272.9 193.5L275.5 192.3L278.1 188.8L280.7 184.5L283.3 183.8L285.9 186.3L288.6 182L291.2 182.2L293.9 180.3L296.5 175.2L299.2 170.9L301.9 173.1L304.5 172.8L307.2 174.4L309.9 174.8L312.6 180.3L315.3 177.7L318 179.7L320.7 180.8L323.4 181.9L326.1 182L328.8 181.7L331.5 181.5L334.2 180.8L336.9 180L339.7 180.3L342.4 178.3L345.1 175.2L347.8 175.7L350.5 173L353.2 175L355.9 174.6L358.6 172.4L361.3 171.5L364.1 172.4L366.8 173.4L369.5 175.3L372.2 175.6L374.9 178.1L377.6 177.9L380.3 176.5L383 176.3L385.8 176.4L388.5 176.2L391.2 175.8L393.9 176.5L396.6 176.8L399.3 176.2L402 176.3L404.7 176L407.4 174.6L410.2 173.8L412.9 175.7L415.6 173.6L418.3 172.7L421 173.4L423.7 173.2"/>
<path d="M133.6 407.3L136 405.2L137.8 401.2L140.6 401.2L143 401.2L145.5 401.2L148 401.2L150.4 401.2L152.9 401.2L155.4 401.2L157.8 401.2L160.3 401.2L162.8 401.2L165.2 401.2L167.7 401.2L170.2 401.2L172.6 400.9L175.1 396.9L177.6 392L180.1 386.5L182.5 380.7L185 374.6L187.5 368.3L190 361.8L192.5 355.1L195 348.3L197.5 341.4L200 334.4L202.5 327.3L204.9 320.2L207.4 312.9L209.9 305.7L212.4 298.3L214.9 291L217.4 283.5L219.9 276L222.4 268.5L224.9 260.8L227.4 253.2L229.9 245.4L232.3 237.5L234.8 229.6L237.3 221.5L240 219.5L242.7 217.4L245.4 215.2L248.1 212.9L250.8 210.7L253.4 208.4L256.1 206.5L258.8 204.2L261.5 201L264.1 198.5L266.8 197.9L269.5 195.7L272.2 195.6L274.8 193.3L277.5 192.3L280.2 189.8L282.9 187.2L285.6 186.9L288.3 185.7L290.9 178.6L293.6 185.2L296.3 184L299 179.8L301.7 183.9L304.4 184.8L307.1 181.8L309.8 182.5L312.6 177.8L315.3 176.4L318 174.7L320.7 174L323.4 176.6L326.1 170.4L328.8 169.8L331.5 171.1L334.2 169.8L336.9 165.8L339.7 168.1L342.4 168.9L345.1 171.4L347.8 172L350.5 172.3L353.2 173.1L355.9 175.5L358.6 176.8L361.3 176.8L364.1 175.5L366.8 175.2L369.5 173.9L372.2 174.3L374.9 171.3L377.6 170.4L380.3 171.1L383 171L385.8 172.6L388.5 171.6L391.2 170.9L393.9 169.6L396.6 170.9L399.3 170L402 171.8L404.7 171.6L407.4 174.9L410.2 174.8L412.9 175.3L415.6 175.4L418.3 172.3L421 173L423.7 173.8"/>
<path d="M133.6 407.3L136 405L137.8 400.6L140.6 400.6L143 400.6L145.5 400.6L147.9 400.6L150.4 400.6L152.8 400.6L155.3 400.6L157.7 400.6L160.2 400.6L162.6 400.6L165 400.6L167.4 400.6L169.8 400.6L172.3 398.1L174.6 393.4L177 388.2L179.4 382.6L181.7 376.6L184.1 370.5L186.4 364.2L188.7 357.7L191 351.1L193.3 344.4L195.6 337.6L197.9 330.7L200.1 323.8L202.4 316.8L204.6 309.7L206.8 302.7L209.1 295.6L211.3 288.4L213.6 281.2L215.9 274L218.1 266.7L220.5 259.3L222.8 252L225.1 244.5L227.5 236.9L229.9 229.3L232.4 221.5L235.1 215.6L237.9 209.9L240.7 204.6L243.5 199.6L246.4 194.9L249.3 190.7L252.2 187L255.1 183.9L258.1 180.3L261 179.8L264 176.8L267 172.4L269.9 169.1L272.8 166.2L275.8 168L278.7 172.7L281.6 174.2L284.4 168.5L287.3 164.4L290.2 162.5L293 158.7L295.8 156.5L298.6 155.8L301.4 156L304.2 156.4L306.9 155.8L309.7 154.6L312.4 155.4L315.2 157L317.9 156.7L320.6 158.1L323.3 158.7L326.1 162.7L328.8 159L331.5 163.2L334.2 165.3L336.9 162L339.6 161.6L342.4 161L345.1 162.8L347.8 162.7L350.5 162.4L353.2 162.9L355.9 163.2L358.6 163.8L361.3 163.4L364.1 162.2L366.8 163.4L369.5 164.5L372.2 164.6L374.9 164.5L377.6 164.2L380.3 165.2L383 167L385.8 168.1L388.5 168.9L391.2 166.1L393.9 166.5L396.6 167.1L399.3 168.1L402 168.4L404.7 168.2L407.4 167.5L410.2 166.8L412.9 167.1L415.6 167.3L418.3 167.5L421 169.1L423.7 169.5"/>
<path d="M133.6 407.3L136 404.8L137.8 400.2L140.6 400.2L143 400.2L145.5 400.2L148 400.2L150.4 400.2L152.9 400.2L155.3 400.2L157.8 400.2L160.2 400.2L162.7 400.2L165.2 400.2L167.6 400.2L170 399.9L172.5 396L174.9 391.2L177.4 385.8L179.8 380.1L182.2 374.2L184.7 368L187.1 361.7L189.5 355.2L191.9 348.7L194.3 342L196.8 335.3L199.2 328.5L201.6 321.6L204 314.7L206.4 307.8L208.8 300.9L211.2 293.9L213.6 286.9L216 279.8L218.4 272.7L220.8 265.6L223.2 258.5L225.6 251.2L228.1 243.9L230.5 236.6L233 229.1L235.4 221.5L238.1 220L240.9 218.4L243.6 216.7L246.4 214.8L249.1 212.9L251.9 210.8L254.6 209.1L257.4 206.9L260.2 204L263 202.1L265.8 198.9L268.5 196.5L271.3 195.2L274.1 195.4L276.9 192L279.6 186.8L282.4 189.6L285.1 190.6L287.9 187.5L290.6 183.1L293.4 186.9L296.1 185.9L298.9 186.7L301.6 186.9L304.3 186.3L307.1 185.1L309.8 184.7L312.5 184.5L315.2 184.4L317.9 183.5L320.7 182.9L323.4 182.8L326.1 182.7L328.8 182.6L331.5 181.5L334.2 180.6L336.9 178.8L339.7 177.3L342.4 173.4L345.1 172L347.8 171L350.5 171.2L353.2 170.9L355.9 172.1L358.6 172.7L361.3 172.7L364.1 174.2L366.8 174.4L369.5 174.4L372.2 174.3L374.9 176.8L377.6 176.6L380.3 176.1L383 175.9L385.8 175.9L388.5 175.9L391.2 176.3L393.9 176.4L396.6 176.4L399.3 175.8L402 176.2L404.7 176.7L407.4 174.7L410.2 174.7L412.9 176L415.6 175.8L418.3 174.7L421 174.7L423.7 174.9"/>
<path d="M133.6 407.3L136 404.7L137.8 399.8L140.6 399.8L143 399.8L145.5 399.8L148 399.8L150.4 399.8L152.9 399.8L155.4 399.8L157.8 399.8L160.3 399.8L162.8 399.8L165.2 399.8L167.7 399.8L170.2 398.2L172.7 393.8L175.1 388.8L177.6 383.4L180.1 377.6L182.6 371.6L185.1 365.5L187.5 359.2L190 352.7L192.5 346.2L195 339.6L197.5 332.9L200 326.2L202.5 319.5L205 312.7L207.5 305.9L210 299.1L212.5 292.2L215 285.3L217.5 278.4L220 271.5L222.5 264.6L225 257.6L227.5 250.5L230 243.4L232.5 236.2L234.9 228.9L237.4 221.5L240.1 217.4L242.8 213.3L245.5 209.4L248.2 205.6L250.9 202.1L253.5 198.5L256.2 195.2L258.9 191.6L261.6 187.7L264.2 185.5L266.9 184.1L269.6 182.5L272.2 179.6L274.9 174.8L277.6 173.1L280.2 169.5L282.9 166.8L285.6 164.4L288.3 165.7L291 164.9L293.7 164.9L296.4 165.4L299 164.7L301.7 169L304.4 168.3L307.1 168L309.9 167.5L312.6 171.7L315.3 173.9L318 173.1L320.7 170.3L323.4 166.9L326.1 166L328.8 168.2L331.5 165.3L334.2 160.5L336.9 163.3L339.7 163.1L342.4 165.5L345.1 162L347.8 162.3L350.5 165.5L353.2 164.6L355.9 165.7L358.6 162.4L361.3 162.9L364.1 164.1L366.8 164.9L369.5 164.9L372.2 165.8L374.9 166.7L377.6 168.2L380.3 169.8L383 168.3L385.8 169.1L388.5 167.4L391.2 168.3L393.9 171.9L396.6 172.4L399.3 172.1L402 171.5L404.7 172.8L407.4 171.6L410.2 171.2L412.9 169.9L415.6 170L418.3 170L421 171.5L423.7 171.3"/>
<path d="M133.6 407.3L136 404L137.8 397.9L140.6 397.6L143 397.2L145.5 396.6L147.9 395.8L150.4 394.8L152.9 393.7L155.3 392.3L157.8 390.7L160.2 388.9L162.6 386.8L165.1 384.6L167.5 382.2L169.9 379.5L172.4 376.5L174.8 373.1L177.2 369.4L179.6 365.5L182 361.3L184.3 356.9L186.7 352.4L189.1 347.6L191.4 342.6L193.8 337.5L196.1 332.1L198.4 326.6L200.7 321L203 315.1L205.4 309.1L207.7 303L210 296.6L212.3 290.1L214.6 283.4L216.9 276.4L219.3 269.3L221.6 262L224 254.4L226.4 246.6L228.8 238.5L231.2 230.2L233.7 221.5L236.4 216.4L239.2 211.5L241.9 206.9L244.7 202.5L247.6 198.3L250.4 194.5L253.3 191L256.1 187L259 182.9L261.9 178.6L264.8 174.5L267.6 171.1L270.5 170.6L273.4 169.5L276.2 165.2L279.1 160.9L281.9 159.5L284.7 157.8L287.6 156.6L290.4 156.4L293.2 156.4L295.9 156L298.7 157L301.5 156.6L304.2 155.2L307 156.2L309.7 161.3L312.5 168.3L315.2 173.5L317.9 172.9L320.6 172.6L323.4 171.2L326.1 169.3L328.8 168.7L331.5 168.4L334.2 167.8L336.9 165.5L339.6 163.1L342.4 162.1L345.1 163.4L347.8 162.8L350.5 163.2L353.2 163.2L355.9 165.2L358.6 166.9L361.3 166.2L364.1 164.6L366.8 165.9L369.5 164.8L372.2 164.7L374.9 165.6L377.6 165.1L380.3 165.5L383 165L385.8 164.5L388.5 165.3L391.2 166.4L393.9 166.8L396.6 166.2L399.3 166.3L402 166.3L404.7 166L407.4 166.6L410.2 167.2L412.9 167.2L415.6 167.3L418.3 168.6L421 166.7L423.7 167.2"/>
<path d="M133.6 407.3L136 403.9L137.8 397.5L140.6 397.2L143 396.8L145.5 396.2L147.9 395.4L150.4 394.3L152.9 393.1L155.3 391.7L157.8 390.1L160.2 388.2L162.7 386.2L165.1 383.9L167.5 381.5L170 378.8L172.4 375.7L174.8 372.3L177.2 368.6L179.7 364.6L182.1 360.4L184.5 356.1L186.8 351.5L189.2 346.7L191.6 341.7L194 336.5L196.3 331.2L198.7 325.7L201 320.1L203.4 314.3L205.7 308.3L208.1 302.1L210.4 295.8L212.8 289.3L215.1 282.7L217.5 275.8L219.8 268.8L222.2 261.5L224.6 254L227 246.3L229.4 238.3L231.9 230.1L234.3 221.5L237 215.9L239.8 210.6L242.5 205.6L245.3 200.8L248.1 196.4L250.9 192.2L253.8 188.4L256.6 185.1L259.4 182.1L262.3 178L265.1 173.6L268 170L270.8 167.8L273.6 164.9L276.5 164.1L279.3 163.9L282.1 163L284.9 163L287.7 162.6L290.5 159.2L293.2 156.7L296 157.8L298.8 159L301.5 155.8L304.3 155.2L307 157.1L309.7 157.6L312.5 160.4L315.2 160.6L317.9 156.7L320.6 157.5L323.4 158.1L326.1 158.6L328.8 158.6L331.5 159.6L334.2 160.4L336.9 161.2L339.6 161.5L342.4 160.9L345.1 161.6L347.8 161.9L350.5 162.8L353.2 164.4L355.9 164.4L358.6 164.2L361.3 163.9L364.1 164L366.8 164.3L369.5 164.2L372.2 164.6L374.9 165.6L377.6 166.1L380.3 164.9L383 165.5L385.8 166.6L388.5 166.6L391.2 168.5L393.9 169.7L396.6 169.5L399.3 168.3L402 168.3L404.7 168.9L407.4 167.5L410.2 167.4L412.9 167.9L415.6 166.3L418.3 167.9L421 168.5L423.7 168.1"/>
<path d="M133.6 407.3L136 403.9L137.8 397.6L140.6 397.3L143 396.8L145.5 396.2L148 395.3L150.4 394.2L152.9 392.9L155.4 391.4L157.9 389.7L160.3 387.7L162.8 385.6L165.3 383.3L167.8 380.7L170.2 377.9L172.7 374.8L175.2 371.2L177.7 367.4L180.2 363.4L182.7 359.1L185.2 354.7L187.7 350L190.2 345.2L192.8 340.1L195.3 335L197.8 329.6L200.4 324.1L202.9 318.5L205.5 312.7L208 306.7L210.5 300.6L213.1 294.4L215.6 288L218.2 281.4L220.7 274.7L223.2 267.7L225.8 260.6L228.3 253.3L230.8 245.7L233.3 237.9L235.8 229.9L238.2 221.5L240.9 217.6L243.6 213.9L246.3 210.2L249 206.6L251.6 203.3L254.2 199.9L256.9 196.8L259.5 194L262.1 191.2L264.7 187.9L267.4 186L270 184.4L272.6 186L275.2 185.7L277.9 184.7L280.5 186.2L283.1 186.8L285.8 185L288.4 187.7L291.1 185.1L293.8 183L296.4 186.5L299.1 185L301.8 186L304.5 182.1L307.2 183.3L309.9 180.7L312.6 175.3L315.3 179.2L318 182.1L320.7 180.3L323.4 181.7L326.1 182.8L328.8 179.8L331.5 180.4L334.2 179.8L336.9 178.6L339.7 175.5L342.4 175.6L345.1 176.6L347.8 173.2L350.5 172.6L353.2 171.1L355.9 169.9L358.6 170.1L361.3 171.2L364.1 171.7L366.8 170.7L369.5 170.1L372.2 170.2L374.9 170L377.6 169.3L380.3 169.6L383 170.7L385.8 170L388.5 170.9L391.2 171.2L393.9 170.4L396.6 170.6L399.3 171.6L402 172.8L404.7 172.8L407.4 172.6L410.2 172.6L412.9 173.1L415.6 172.4L418.3 172.8L421 173.4L423.7 174"/>
<path d="M133.6 407.3L136 403.3L137.8 396L140.6 395.6L143 395L145.5 394.3L148 393.3L150.4 392.1L152.9 390.7L155.3 389.1L157.8 387.2L160.3 385.2L162.7 382.9L165.2 380.5L167.6 377.8L170.1 375L172.5 371.7L175 368.1L177.4 364.2L179.9 360.1L182.3 355.8L184.8 351.2L187.2 346.5L189.6 341.6L192.1 336.6L194.5 331.4L196.9 326.1L199.3 320.7L201.8 315.1L204.2 309.4L206.6 303.6L209 297.6L211.5 291.5L213.9 285.3L216.3 278.9L218.7 272.4L221.2 265.8L223.6 258.9L226 251.9L228.5 244.7L230.9 237.2L233.4 229.5L235.9 221.5L238.6 216.6L241.3 211.8L244 207.3L246.8 203L249.5 199L252.2 195.3L255 191.7L257.7 188.6L260.5 185.6L263.2 182.1L266 178.5L268.8 176L271.5 173.6L274.3 168.5L277 164.5L279.8 162.9L282.5 164L285.2 160.8L288 161.7L290.7 156.7L293.5 156.2L296.2 155.8L298.9 155.8L301.6 155.5L304.4 155.5L307.1 157L309.8 156.4L312.5 157.2L315.2 157.7L317.9 157L320.7 157.1L323.4 159.1L326.1 159.3L328.8 160.1L331.5 161.7L334.2 160.8L336.9 162.4L339.7 165.5L342.4 166.4L345.1 166.9L347.8 167.9L350.5 169.6L353.2 170.6L355.9 172.1L358.6 172.8L361.3 169.9L364.1 169.2L366.8 169.1L369.5 169.6L372.2 167.9L374.9 168.7L377.6 168.2L380.3 169.2L383 168.6L385.8 167.4L388.5 167.5L391.2 168.6L393.9 169L396.6 170.1L399.3 171.7L402 171.8L404.7 172.5L407.4 171.4L410.2 171.2L412.9 170.7L415.6 170.9L418.3 170.5L421 170.1L423.7 171"/>
<path d="M133.6 407.3L136 403.9L137.8 397.5L140.6 397.5L143.1 397.5L145.5 397.5L148 397.5L150.5 397.5L152.9 397.5L155.4 397.5L157.9 397.5L160.4 397.5L162.9 397.5L165.3 395.6L167.8 391.5L170.3 386.9L172.8 381.8L175.4 376.3L177.9 370.7L180.4 364.8L183 358.8L185.5 352.7L188.1 346.6L190.7 340.3L193.3 334.1L195.8 327.8L198.5 321.5L201.1 315.2L203.7 309L206.3 302.7L208.9 296.5L211.6 290.3L214.2 284.1L216.8 277.9L219.5 271.7L222.1 265.6L224.7 259.4L227.2 253.2L229.8 247L232.3 240.8L234.9 234.5L237.4 228.1L239.8 221.5L242.5 217.6L245.2 213.7L247.8 210L250.5 206.4L253.1 202.9L255.6 199.5L258.2 195.9L260.7 192.6L263.3 190L265.8 186.3L268.3 183.2L270.8 181L273.4 178.4L275.9 178.2L278.5 178.5L281 180L283.6 177.8L286.2 177.8L288.8 180.1L291.4 181.2L294 178.7L296.6 180.9L299.3 179.7L301.9 178.2L304.6 181.7L307.3 182.2L309.9 180.5L312.6 176.5L315.3 173.4L318 173.3L320.7 172L323.4 171.5L326.1 170.1L328.8 171.2L331.5 170.9L334.2 169.3L336.9 167.8L339.7 165.8L342.4 167.5L345.1 169.7L347.8 169.3L350.5 165.4L353.2 166.2L355.9 164.4L358.6 166.6L361.3 165.6L364.1 167L366.8 168.6L369.5 168.1L372.2 169.1L374.9 167.1L377.6 166.8L380.3 168.5L383 171.5L385.8 171.9L388.5 172.4L391.2 172.6L393.9 173.3L396.6 172.1L399.3 171.4L402 171.5L404.7 169.8L407.4 172.2L410.2 173.3L412.9 171.4L415.6 171.2L418.3 171.1L421 170.6L423.7 170.1"/>
<path d="M133.6 407.3L136 403.7L137.8 397L140.6 397L143 397L145.5 397L148 397L150.4 397L152.9 397L155.4 397L157.8 397L160.3 397L162.7 397L165.2 393.3L167.7 388.9L170.1 384.2L172.6 379.1L175.1 373.6L177.5 367.9L180 362.1L182.5 356.1L184.9 350.1L187.4 343.9L189.9 337.8L192.3 331.6L194.8 325.4L197.3 319.2L199.7 313L202.2 306.8L204.7 300.7L207.1 294.5L209.6 288.5L212.1 282.4L214.5 276.4L217 270.4L219.5 264.4L222 258.4L224.4 252.4L226.9 246.3L229.4 240.2L231.8 234.1L234.3 227.9L236.7 221.5L239.5 216L242.2 210.7L244.9 205.7L247.6 201L250.3 196.6L253 192.5L255.7 188.6L258.4 185.8L261.1 182L263.8 178.9L266.5 176.4L269.2 173.7L271.9 172L274.6 169.4L277.3 167.2L280 168.6L282.7 163.5L285.5 164L288.2 163.2L290.9 162.4L293.6 166.4L296.3 160.7L299 157.2L301.7 157.6L304.4 158.6L307.1 158.6L309.8 161.5L312.5 161.3L315.3 165.6L318 167.2L320.7 166.5L323.4 166.1L326.1 166.4L328.8 165.5L331.5 166.4L334.2 163.9L336.9 162.8L339.7 163.4L342.4 161.5L345.1 162L347.8 162.5L350.5 163.3L353.2 163.9L355.9 163.5L358.6 163.5L361.3 163.1L364.1 164.2L366.8 164.6L369.5 165.2L372.2 166.7L374.9 167.3L377.6 167.1L380.3 167L383 166.6L385.8 166.9L388.5 167.8L391.2 165.7L393.9 165.5L396.6 165.4L399.3 165.6L402 167.4L404.7 167.1L407.4 166.5L410.2 167.1L412.9 166.4L415.6 166.6L418.3 167L421 167L423.7 167.9"/>
<path d="M133.6 407.3L136 403.3L137.8 395.9L140.6 395.3L143.1 394.6L145.5 393.5L148 392.3L150.5 390.8L152.9 389.1L155.4 387.2L157.9 385.1L160.3 382.8L162.8 380.3L165.3 377.5L167.8 374.6L170.3 371.5L172.8 368L175.3 364.1L177.8 360L180.3 355.6L182.8 351.1L185.3 346.4L187.9 341.5L190.4 336.5L193 331.3L195.5 326.1L198.1 320.7L200.6 315.3L203.2 309.8L205.8 304.2L208.4 298.5L211 292.7L213.5 286.9L216.1 280.9L218.7 274.9L221.2 268.8L223.8 262.5L226.3 256.1L228.9 249.6L231.4 242.9L233.9 236L236.4 228.9L238.9 221.5L241.6 217.8L244.2 214.2L246.9 210.7L249.5 207.3L252.2 204.1L254.8 201.1L257.4 198.3L260 195.6L262.6 192.8L265.2 190.4L267.7 188.9L270.3 187.1L272.9 186.8L275.5 182.8L278.1 181.4L280.7 179.7L283.3 178.4L285.9 177.4L288.6 176.6L291.2 172L293.9 171.9L296.5 171.4L299.2 166.7L301.9 167.7L304.5 162.7L307.2 164.2L309.9 162L312.6 162.9L315.3 161.3L318 160.3L320.7 161.4L323.4 161.4L326.1 161.8L328.8 163.6L331.5 165L334.2 162.6L336.9 164.2L339.7 165.2L342.4 165L345.1 163.2L347.8 165.3L350.5 166.1L353.2 166.9L355.9 168.5L358.6 167.2L361.3 167.2L364.1 168.6L366.8 169.1L369.5 169.1L372.2 170.2L374.9 170.7L377.6 170.9L380.3 171.3L383 170.9L385.8 169.8L388.5 168.9L391.2 171L393.9 172.5L396.6 171.7L399.3 171.6L402 172.4L404.7 171.8L407.4 171.3L410.2 171L412.9 170.8L415.6 171.6L418.3 171.2L421 170.7L423.7 168.6"/>
<path d="M133.6 407.3L136 403.3L137.8 395.8L140.6 395.8L143 395.8L145.5 395.8L148 395.8L150.4 395.8L152.9 395.8L155.4 395.8L157.8 395.8L160.3 395.6L162.7 391.8L165.2 387.5L167.7 382.9L170.1 378.1L172.6 372.9L175.1 367.4L177.5 361.7L180 355.9L182.5 350L185 344L187.4 338L189.9 331.9L192.4 325.9L194.8 319.8L197.3 313.8L199.8 307.8L202.3 301.9L204.8 296L207.2 290.2L209.7 284.4L212.2 278.6L214.7 272.9L217.1 267.3L219.6 261.6L222.1 256L224.6 250.4L227 244.7L229.5 239.1L232 233.3L234.4 227.5L236.9 221.5L239.6 218.6L242.3 215.7L245 212.8L247.7 210L250.4 207.2L253.1 204.2L255.8 201.4L258.5 198.3L261.2 194.8L263.9 191.6L266.6 189.6L269.3 188.2L272 184.9L274.7 182.6L277.4 178.5L280.1 174.9L282.8 174.8L285.5 172.5L288.2 170.7L290.9 169.3L293.6 170.6L296.3 172L299 170.2L301.7 170.3L304.4 172.3L307.1 169.6L309.8 176L312.5 178.4L315.3 182L318 181.9L320.7 182.6L323.4 181.3L326.1 178.6L328.8 179L331.5 179.8L334.2 180.7L336.9 182L339.7 180.4L342.4 177.1L345.1 178.7L347.8 177.2L350.5 173.3L353.2 173.1L355.9 174.9L358.6 176.3L361.3 174.5L364.1 174.8L366.8 174.9L369.5 174.3L372.2 174.7L374.9 175.3L377.6 175.5L380.3 175.2L383 176.6L385.8 176L388.5 174.5L391.2 174.1L393.9 174.6L396.6 174.4L399.3 172.9L402 173.2L404.7 173.3L407.4 171.9L410.2 171.1L412.9 171.4L415.6 172L418.3 172.3L421 172L423.7 170.8"/>
<path d="M133.6 407.3L136 403L137.8 395.1L140.6 395.1L143 395.1L145.5 395.1L147.9 395.1L150.4 395.1L152.8 395.1L155.3 395.1L157.7 395.1L160.2 392.7L162.6 388.5L165 384L167.4 379.3L169.8 374.5L172.3 369.3L174.6 363.8L177 358.1L179.4 352.3L181.7 346.5L184.1 340.5L186.4 334.6L188.7 328.6L191 322.7L193.3 316.7L195.6 310.8L197.9 305L200.1 299.2L202.4 293.4L204.6 287.7L206.8 282.1L209.1 276.6L211.3 271L213.6 265.6L215.9 260.1L218.1 254.7L220.5 249.3L222.8 243.9L225.1 238.4L227.5 232.9L229.9 227.3L232.4 221.5L235.1 215.6L237.9 209.9L240.7 204.6L243.5 199.6L246.4 194.9L249.3 190.3L252.2 185.9L255.1 182.1L258.1 178.3L261 175.7L264 172L267 168.7L269.9 165.9L272.8 163.6L275.8 161.6L278.7 163.4L281.6 160L284.4 158.9L287.3 157.3L290.2 156.6L293 156.4L295.8 156L298.6 155.7L301.4 156.2L304.2 156.3L306.9 160.4L309.7 158.6L312.4 160.3L315.2 159.2L317.9 161.9L320.6 168L323.3 165.7L326.1 163.3L328.8 166.3L331.5 168.4L334.2 168.2L336.9 170.6L339.6 167.8L342.4 169L345.1 167.9L347.8 168.3L350.5 167.5L353.2 165.1L355.9 164.9L358.6 166.8L361.3 168.4L364.1 167.7L366.8 169.8L369.5 168.9L372.2 169L374.9 166.9L377.6 166.6L380.3 168.2L383 169.4L385.8 169.7L388.5 169.9L391.2 169L393.9 168.4L396.6 167L399.3 167.1L402 167L404.7 167.4L407.4 168.7L410.2 168.6L412.9 168.9L415.6 168.8L418.3 169.1L421 168L423.7 169.6"/>
<path d="M133.6 407.3L136 402.9L137.8 394.7L140.6 394.7L143 394.7L145.5 394.7L148 394.7L150.4 394.7L152.9 394.7L155.3 394.7L157.8 394.6L160.2 390.8L162.7 386.5L165.1 382L167.6 377.3L170 372.5L172.5 367.3L174.9 361.8L177.4 356.2L179.8 350.4L182.2 344.5L184.6 338.6L187.1 332.7L189.5 326.8L191.9 320.9L194.3 315L196.7 309.2L199.1 303.4L201.5 297.7L203.9 292L206.3 286.4L208.7 280.9L211.1 275.4L213.5 270L215.9 264.6L218.3 259.3L220.7 254L223.1 248.7L225.5 243.4L228 238L230.4 232.6L232.8 227.2L235.3 221.5L238 217.4L240.8 213.4L243.5 209.6L246.2 205.9L249 202.4L251.8 199.3L254.5 196.6L257.3 194L260.1 191.2L262.9 188.8L265.7 187.6L268.5 185.5L271.3 184.2L274 181.5L276.8 180.6L279.6 180L282.4 179L285.1 180L287.9 177.3L290.6 177.3L293.4 175.5L296.1 174.1L298.9 172L301.6 170.7L304.3 167.6L307.1 167.7L309.8 165.4L312.5 164.8L315.2 163.3L317.9 160.2L320.7 160.2L323.4 160.5L326.1 161.1L328.8 158.8L331.5 159.3L334.2 159.7L336.9 161.9L339.7 162.9L342.4 163.8L345.1 166.4L347.8 168.8L350.5 168.9L353.2 170.8L355.9 170.7L358.6 170.3L361.3 171L364.1 170.7L366.8 170.4L369.5 170L372.2 171.1L374.9 172.2L377.6 171.4L380.3 171.5L383 171.4L385.8 170L388.5 169.2L391.2 169.4L393.9 170.3L396.6 171.5L399.3 171.8L402 172.9L404.7 172.5L407.4 171.3L410.2 171.5L412.9 170.9L415.6 171.5L418.3 170.9L421 171.7L423.7 171.1"/>
<path d="M133.6 407.3L136 402.7L137.8 394.2L140.6 394.2L143 394.2L145.5 394.2L148 394.2L150.4 394.2L152.9 394.2L155.3 394.2L157.8 392.7L160.2 388.6L162.7 384.2L165.1 379.7L167.6 374.9L170 370.1L172.5 365L174.9 359.5L177.4 353.8L179.8 348.1L182.2 342.3L184.6 336.4L187 330.6L189.5 324.7L191.9 318.8L194.3 313L196.7 307.3L199.1 301.6L201.5 295.9L203.9 290.3L206.2 284.8L208.6 279.4L211 274.1L213.4 268.8L215.8 263.5L218.2 258.3L220.6 253.1L223 248L225.4 242.8L227.9 237.6L230.3 232.4L232.8 227L235.2 221.5L237.9 219.4L240.7 217.2L243.4 214.9L246.2 212.6L248.9 210.3L251.7 207.9L254.5 205.8L257.3 203.1L260 199.2L262.8 195.9L265.6 192.8L268.4 192.1L271.2 192L274 192.8L276.8 192.6L279.6 189.7L282.3 184.7L285.1 184.6L287.9 180.6L290.6 178.8L293.4 180.9L296.1 183.4L298.8 184.8L301.6 183.7L304.3 180.6L307 180.8L309.8 179.9L312.5 184L315.2 183.5L317.9 182.9L320.7 182.8L323.4 182.3L326.1 181.9L328.8 181.8L331.5 181.3L334.2 181.6L336.9 180.9L339.7 180.3L342.4 178.4L345.1 175.9L347.8 175.9L350.5 174.8L353.2 174.3L355.9 173L358.6 171.6L361.3 171.4L364.1 170L366.8 170L369.5 171.2L372.2 171.8L374.9 174.5L377.6 174.9L380.3 175.5L383 174L385.8 175L388.5 176L391.2 175.5L393.9 175.5L396.6 175.9L399.3 175.7L402 176.4L404.7 175.9L407.4 174.9L410.2 175.4L412.9 176L415.6 175.7L418.3 174.4L421 174.7L423.7 175.8"/>
<path d="M133.6 407.3L136 402.2L137.8 392.7L140.6 391.5L143 390.2L145.5 388.7L148 387L150.4 384.9L152.9 382.7L155.4 380.3L157.8 377.7L160.3 374.9L162.8 372L165.2 368.8L167.7 365.5L170.2 362.1L172.6 358.3L175.1 354L177.6 349.6L180.1 344.9L182.5 340.1L185 335.2L187.5 330.2L190 325.1L192.5 319.9L195 314.7L197.4 309.5L199.9 304.2L202.4 299L204.9 293.7L207.4 288.4L209.9 283.1L212.4 277.8L214.9 272.5L217.4 267.2L219.9 261.8L222.4 256.4L224.8 250.9L227.3 245.3L229.8 239.6L232.3 233.8L234.7 227.8L237.2 221.5L239.9 216.7L242.6 212.1L245.3 207.7L248 203.6L250.7 199.6L253.4 195.5L256.1 191.5L258.7 187.9L261.4 183.7L264.1 181.2L266.8 179.2L269.5 176L272.1 172.3L274.8 170.4L277.5 169.7L280.2 163.8L282.9 164.3L285.6 165.4L288.2 161L290.9 158.7L293.6 157L296.3 156L299 155.7L301.7 155.5L304.4 156.2L307.1 155.9L309.8 155.5L312.6 156.7L315.3 157.1L318 157.4L320.7 158.3L323.4 158.1L326.1 158.7L328.8 161.3L331.5 160.4L334.2 164.2L336.9 162.6L339.7 167.6L342.4 166.8L345.1 168.3L347.8 168.1L350.5 168.4L353.2 167.9L355.9 168.6L358.6 166.2L361.3 163.7L364.1 163.9L366.8 164.1L369.5 164L372.2 164.8L374.9 165.1L377.6 165.9L380.3 166.5L383 165.6L385.8 166.3L388.5 166.8L391.2 165.8L393.9 166L396.6 167.6L399.3 167.5L402 166.8L404.7 166.1L407.4 167.3L410.2 167.7L412.9 169.1L415.6 169.2L418.3 169.9L421 170.6L423.7 170.9"/>
<path d="M133.6 407.3L136 402.4L137.8 393.3L140.6 393.3L143.1 393.3L145.5 393.3L148 393.3L150.5 393.3L152.9 393.3L155.4 392.4L157.9 388.4L160.3 384.1L162.8 379.6L165.3 375L167.8 370.3L170.3 365.5L172.8 360.4L175.3 355L177.8 349.4L180.3 343.7L182.9 338L185.4 332.2L187.9 326.4L190.5 320.6L193.1 314.9L195.6 309.2L198.2 303.6L200.8 298L203.4 292.6L206 287.2L208.6 281.9L211.2 276.6L213.8 271.5L216.3 266.4L218.9 261.4L221.5 256.5L224.1 251.5L226.6 246.6L229.2 241.7L231.7 236.8L234.2 231.8L236.7 226.8L239.2 221.5L241.9 215.6L244.6 209.9L247.2 204.6L249.8 199.6L252.5 195L255.1 190.7L257.6 186.5L260.2 182.3L262.8 178.9L265.4 175.1L267.9 172.1L270.5 169.1L273.1 165.9L275.6 163.8L278.2 161.8L280.8 160.3L283.4 159L286 159.3L288.6 159.3L291.3 159.6L293.9 161.2L296.6 162.4L299.2 162.3L301.9 160.8L304.6 163.5L307.2 161.6L309.9 161.6L312.6 163.2L315.3 162.5L318 161.3L320.7 160.8L323.4 163.3L326.1 163.2L328.8 164L331.5 163.4L334.2 161.8L336.9 162.3L339.7 162.2L342.4 162.2L345.1 163.9L347.8 167.6L350.5 169L353.2 169.2L355.9 169L358.6 170.6L361.3 170.4L364.1 170.4L366.8 172.3L369.5 171.9L372.2 171.1L374.9 172.2L377.6 170.3L380.3 168.7L383 166.7L385.8 166.3L388.5 166.9L391.2 166.6L393.9 166.9L396.6 166.4L399.3 167.3L402 168.2L404.7 168.1L407.4 168.4L410.2 168.4L412.9 168L415.6 168L418.3 167.3L421 166.7L423.7 167.3"/>
<path d="M133.6 407.3L136 402.2L137.8 392.8L140.6 392.8L143 392.8L145.5 392.8L148 392.8L150.4 392.8L152.9 392.8L155.3 390.5L157.8 386.4L160.3 382.1L162.7 377.6L165.2 372.9L167.6 368.3L170.1 363.5L172.5 358.4L175 353L177.5 347.4L179.9 341.7L182.4 336L184.8 330.3L187.3 324.6L189.7 318.8L192.1 313.1L194.6 307.5L197 302L199.5 296.5L201.9 291.1L204.3 285.8L206.8 280.5L209.2 275.4L211.6 270.4L214.1 265.4L216.5 260.5L219 255.6L221.4 250.8L223.8 246.1L226.3 241.3L228.7 236.5L231.2 231.6L233.7 226.7L236.1 221.5L238.8 216.8L241.5 212.2L244.3 207.8L247 203.6L249.7 199.7L252.5 196.2L255.2 193.2L257.9 190.1L260.7 186L263.4 181.5L266.1 179L268.9 179L271.6 175.2L274.4 170.7L277.1 168.4L279.8 168.7L282.6 166L285.3 162.8L288 159.9L290.8 161.5L293.5 162L296.2 163.9L298.9 160.8L301.7 160.1L304.4 162.3L307.1 165.4L309.8 168.7L312.5 169.4L315.2 170.6L318 172.9L320.7 169.1L323.4 169.4L326.1 171.4L328.8 173.1L331.5 171.4L334.2 171.2L336.9 171.1L339.7 168.2L342.4 167.3L345.1 167.2L347.8 165.7L350.5 165.1L353.2 164.5L355.9 163.8L358.6 163.4L361.3 164.1L364.1 163.9L366.8 163.7L369.5 164.6L372.2 165.2L374.9 165.8L377.6 165.8L380.3 165.5L383 165.9L385.8 167.1L388.5 168.1L391.2 168.3L393.9 167L396.6 167.4L399.3 169.2L402 170.2L404.7 168.6L407.4 168.4L410.2 168.6L412.9 169.2L415.6 170.9L418.3 170.8L421 169.9L423.7 170.8"/>
<path d="M133.6 407.3L136 401.3L137.8 390.2L140.6 388.4L143 386.8L145.5 385L148 382.9L150.4 380.5L152.9 378L155.3 375.3L157.8 372.5L160.2 369.4L162.7 366.3L165.2 362.9L167.6 359.5L170.1 355.9L172.5 351.9L174.9 347.5L177.4 342.9L179.8 338.2L182.3 333.3L184.7 328.3L187.1 323.3L189.5 318.2L192 313.1L194.4 308L196.8 302.9L199.2 297.8L201.6 292.7L204 287.6L206.4 282.6L208.8 277.6L211.3 272.7L213.7 267.7L216.1 262.8L218.5 257.9L220.9 252.9L223.3 247.9L225.8 242.9L228.2 237.8L230.6 232.5L233.1 227.2L235.5 221.5L238.3 217.9L241 214.4L243.7 210.9L246.5 207.6L249.2 204.3L252 200.8L254.7 197.3L257.5 193.5L260.3 190.5L263 187.1L265.8 184.9L268.6 182.2L271.4 180.4L274.1 177.1L276.9 173.7L279.7 171.6L282.4 171.3L285.2 170.1L287.9 171.6L290.7 173.8L293.4 170.7L296.1 170.6L298.9 168.1L301.6 169.9L304.3 168.3L307.1 165.1L309.8 165.6L312.5 169.1L315.2 168.1L317.9 168.3L320.7 172.2L323.4 172.3L326.1 172.2L328.8 172L331.5 171.8L334.2 170.3L336.9 170.3L339.7 173.9L342.4 174.9L345.1 173.1L347.8 174L350.5 174L353.2 172L355.9 172L358.6 173.7L361.3 174.8L364.1 174.4L366.8 175.3L369.5 176.5L372.2 175.8L374.9 174.7L377.6 175.5L380.3 176.7L383 175.5L385.8 174.5L388.5 174.9L391.2 174.2L393.9 173.3L396.6 172.3L399.3 171.5L402 170.3L404.7 170.1L407.4 169.9L410.2 169.2L412.9 170.1L415.6 170L418.3 170.2L421 170.9L423.7 171.1"/>
<path d="M133.6 407.3L136 401.5L137.8 390.9L140.6 388.7L143 386.9L145.5 384.8L148 382.5L150.4 380L152.9 377.3L155.4 374.4L157.8 371.4L160.3 368.2L162.8 364.9L165.2 361.4L167.7 357.9L170.2 354.2L172.6 350.1L175.1 345.6L177.6 340.9L180.1 336.1L182.6 331.1L185 326.1L187.5 321L190 315.8L192.5 310.7L195 305.6L197.5 300.5L200 295.4L202.5 290.4L205 285.4L207.5 280.5L210 275.6L212.5 270.7L215 265.9L217.5 261.2L220 256.4L222.4 251.6L224.9 246.8L227.4 242L229.9 237.1L232.4 232.1L234.8 226.9L237.3 221.5L240 215.6L242.7 209.9L245.4 204.6L248.1 199.6L250.8 195L253.5 191.3L256.2 188L258.8 184.7L261.5 181L264.2 176.9L266.8 174.7L269.5 169.8L272.2 166.4L274.9 163.3L277.5 161.7L280.2 160.5L282.9 159L285.6 158L288.3 157.3L291 156.9L293.6 156.8L296.3 156.8L299 156.6L301.7 156.2L304.4 156L307.1 156.3L309.8 156.2L312.6 156.6L315.3 157.2L318 162.3L320.7 164.6L323.4 161.1L326.1 160.3L328.8 160.5L331.5 165.6L334.2 164.7L336.9 163.9L339.7 163.4L342.4 164.4L345.1 166L347.8 165.7L350.5 164.3L353.2 161.1L355.9 162.5L358.6 164.7L361.3 166.1L364.1 166.1L366.8 164.7L369.5 164.6L372.2 166.1L374.9 166.9L377.6 165.4L380.3 166L383 166.2L385.8 166.7L388.5 165.2L391.2 165.6L393.9 166.2L396.6 166.6L399.3 166.5L402 166.5L404.7 167.5L407.4 167.3L410.2 166L412.9 166.3L415.6 167.9L418.3 168L421 169.3L423.7 167.7"/>
<path d="M133.6 407.3L136 402L137.8 392.1L140.6 389.7L143 387.8L145.5 385.7L148 383.2L150.4 380.6L152.9 377.8L155.3 374.8L157.8 371.7L160.2 368.4L162.7 365L165.1 361.5L167.6 357.9L170 354.1L172.4 350L174.9 345.4L177.3 340.7L179.7 335.8L182.1 330.7L184.6 325.7L187 320.5L189.4 315.3L191.8 310.2L194.1 305L196.5 299.9L198.9 294.8L201.3 289.8L203.7 284.8L206 279.9L208.4 275L210.8 270.2L213.1 265.4L215.5 260.7L217.9 256L220.3 251.2L222.7 246.5L225.1 241.7L227.5 236.9L229.9 231.9L232.4 226.8L234.8 221.5L237.5 218.1L240.3 214.7L243 211.4L245.8 208.2L248.6 205.1L251.4 202L254.2 198.9L257 195.8L259.8 192.7L262.6 189.3L265.4 186.4L268.2 183.9L271 182.2L273.8 182.5L276.6 180.1L279.4 177.7L282.2 177.1L285 178.9L287.8 181.3L290.6 179.5L293.3 179.7L296.1 181.6L298.8 181.2L301.6 182.9L304.3 184.3L307 183.9L309.8 184.9L312.5 184.9L315.2 183.1L317.9 181L320.6 178.4L323.4 178.9L326.1 176.5L328.8 176.7L331.5 174.1L334.2 170.9L336.9 171.3L339.7 169L342.4 170L345.1 168.7L347.8 169L350.5 169.8L353.2 168.2L355.9 168.3L358.6 170L361.3 169L364.1 168.4L366.8 170.8L369.5 171.5L372.2 172L374.9 169.7L377.6 170.8L380.3 171L383 169.7L385.8 170.1L388.5 169.4L391.2 168.6L393.9 170L396.6 170.2L399.3 171.1L402 171.4L404.7 170.6L407.4 171.3L410.2 171.5L412.9 171.7L415.6 171.2L418.3 172L421 173.6L423.7 173.9"/>
<path d="M133.6 407.3L136 400.9L137.8 389.1L140.6 386.5L143 384.4L145.5 382.1L147.9 379.5L150.4 376.8L152.8 373.9L155.3 370.8L157.7 367.6L160.2 364.3L162.6 360.9L165 357.3L167.4 353.7L169.8 349.9L172.3 345.8L174.6 341.2L177 336.5L179.4 331.6L181.7 326.6L184.1 321.5L186.4 316.5L188.7 311.4L191 306.3L193.3 301.2L195.6 296.2L197.9 291.3L200.1 286.4L202.4 281.5L204.6 276.8L206.8 272.1L209.1 267.5L211.3 263L213.6 258.5L215.9 254L218.1 249.5L220.5 245L222.8 240.5L225.1 236L227.5 231.3L229.9 226.5L232.4 221.5L235.1 215.6L237.9 209.9L240.7 204.6L243.5 199.6L246.4 195L249.3 191.1L252.2 187.6L255.1 184.9L258.1 180.8L261 176.4L264 174.5L267 171L269.9 166.9L272.8 169L275.8 168.9L278.7 167.9L281.6 168L284.4 167.5L287.3 165L290.2 170.1L293 176.4L295.8 180.5L298.6 178L301.4 179.9L304.2 178.5L306.9 174.1L309.7 173.4L312.4 174L315.2 173.5L317.9 172.6L320.6 170.5L323.3 166.7L326.1 164.4L328.8 161.7L331.5 164.3L334.2 161L336.9 163.6L339.6 164.7L342.4 163.6L345.1 166.5L347.8 163.6L350.5 163L353.2 164.4L355.9 163L358.6 163.4L361.3 164.9L364.1 164.1L366.8 166.3L369.5 167.6L372.2 167.9L374.9 169.1L377.6 165.8L380.3 168.4L383 168L385.8 168.2L388.5 169.8L391.2 171.2L393.9 169.8L396.6 171.3L399.3 171L402 168.2L404.7 169.4L407.4 169.7L410.2 169.2L412.9 167.7L415.6 168.9L418.3 169.8L421 170.6L423.7 169.6"/>
<path d="M133.6 407.3L136 401L137.8 389.2L140.6 386.3L143 384.1L145.5 381.6L148 379L150.4 376.1L152.9 373.1L155.3 370L157.8 366.7L160.2 363.3L162.7 359.8L165.1 356.2L167.6 352.5L170 348.7L172.4 344.5L174.9 339.9L177.3 335.2L179.7 330.2L182.2 325.2L184.6 320.2L187 315.1L189.4 310L191.8 304.9L194.2 299.8L196.5 294.9L198.9 289.9L201.3 285.1L203.7 280.3L206 275.6L208.4 271L210.8 266.5L213.2 262L215.5 257.6L217.9 253.2L220.3 248.8L222.7 244.4L225.1 240.1L227.5 235.6L230 231.1L232.4 226.4L234.9 221.5L237.6 216.9L240.3 212.4L243.1 208.1L245.8 204L248.6 200.1L251.4 196.4L254.2 192.3L257 188.5L259.8 185.4L262.6 182.2L265.4 179.3L268.2 177.6L271 175.2L273.9 171.1L276.7 171L279.4 174.4L282.2 173.7L285 177.7L287.8 175.2L290.6 172.9L293.3 172.1L296.1 172.8L298.8 174.8L301.6 173.5L304.3 172.7L307 175L309.8 173.7L312.5 168.2L315.2 167.1L317.9 165.4L320.6 172.1L323.4 172.3L326.1 174.1L328.8 173L331.5 170.4L334.2 167.6L336.9 166.1L339.7 164.5L342.4 163.6L345.1 164.3L347.8 165L350.5 163.2L353.2 162.9L355.9 164L358.6 163.8L361.3 164.3L364.1 166.2L366.8 166.2L369.5 167.5L372.2 167.1L374.9 167.3L377.6 168.5L380.3 167.7L383 169L385.8 168.5L388.5 168.4L391.2 168.1L393.9 167.4L396.6 166.5L399.3 166.1L402 167.1L404.7 168.2L407.4 168.1L410.2 168.6L412.9 168.9L415.6 168.9L418.3 169.8L421 170.4L423.7 169.8"/>
<path d="M133.6 407.3L136 401.3L137.8 390.2L140.6 386.7L143 384.1L145.5 381.4L148 378.4L150.4 375.3L152.9 372.1L155.3 368.7L157.8 365.2L160.3 361.7L162.7 358L165.2 354.3L167.7 350.4L170.1 346.5L172.6 342.2L175 337.5L177.5 332.6L180 327.6L182.4 322.6L184.9 317.4L187.3 312.3L189.8 307.2L192.2 302.1L194.7 297L197.1 292.1L199.6 287.2L202.1 282.4L204.5 277.7L207 273.1L209.4 268.6L211.9 264.2L214.3 259.9L216.8 255.7L219.2 251.5L221.7 247.3L224.1 243.2L226.6 239L229.1 234.8L231.5 230.6L234 226.2L236.4 221.5L239.2 216.5L241.9 211.6L244.6 207L247.3 202.6L250 198.5L252.7 194.9L255.5 191.6L258.2 188.3L260.9 185.5L263.6 182.8L266.3 181L269.1 176.9L271.8 173.5L274.5 168.2L277.2 166.9L279.9 165.5L282.7 165.1L285.4 163.4L288.1 157.2L290.8 156.3L293.5 155.7L296.2 155.8L299 155.4L301.7 154.9L304.4 155.4L307.1 165.1L309.8 167.3L312.5 164L315.2 162.4L318 168.4L320.7 171.4L323.4 175.8L326.1 170.6L328.8 170.6L331.5 173.8L334.2 171.9L336.9 172.3L339.7 167.8L342.4 166.2L345.1 169.7L347.8 169.9L350.5 169L353.2 167.9L355.9 165.2L358.6 167.9L361.3 170.8L364.1 168.5L366.8 167.5L369.5 167.1L372.2 167L374.9 167.8L377.6 167.3L380.3 167.6L383 166.1L385.8 165.6L388.5 165.7L391.2 167.5L393.9 166.4L396.6 166L399.3 167.5L402 167L404.7 168.1L407.4 168.8L410.2 168.9L412.9 168.2L415.6 167.5L418.3 169.4L421 169.7L423.7 168"/>
<path d="M133.6 407.3L136 400.9L137.8 388.9L140.6 388.9L143 388.9L145.5 388.9L148 385L150.4 380.9L152.9 376.7L155.4 372.4L157.9 368.1L160.3 363.8L162.8 359.4L165.3 355L167.8 350.5L170.2 346.1L172.7 341.3L175.2 336.1L177.7 330.8L180.2 325.5L182.7 320.1L185.2 314.7L187.8 309.3L190.3 304L192.8 298.7L195.4 293.6L197.9 288.5L200.4 283.6L203 278.8L205.5 274.2L208.1 269.7L210.6 265.3L213.2 261.1L215.8 256.9L218.3 252.9L220.8 249L223.4 245.1L225.9 241.3L228.4 237.4L230.9 233.6L233.4 229.7L235.9 225.7L238.4 221.5L241.1 217.7L243.8 214.1L246.4 210.5L249.1 207L251.7 203.6L254.4 199.9L257 196.9L259.6 193.4L262.2 190.1L264.8 186.8L267.5 184.1L270.1 182.6L272.7 181.1L275.3 180.7L277.9 180L280.6 183.4L283.2 185.6L285.8 185.7L288.5 181.6L291.1 179.9L293.8 179.3L296.5 179.4L299.1 177.5L301.8 173.7L304.5 172.1L307.2 171.6L309.9 171.3L312.6 165.3L315.3 166.6L318 167.1L320.7 169.3L323.4 171.1L326.1 173.3L328.8 171.9L331.5 172L334.2 173.7L336.9 174.8L339.7 171.1L342.4 168.9L345.1 172.3L347.8 172.9L350.5 172.9L353.2 172.6L355.9 171.6L358.6 168.5L361.3 168.7L364.1 168.9L366.8 168.4L369.5 168.2L372.2 169.5L374.9 171.4L377.6 172L380.3 170.5L383 169.6L385.8 167.6L388.5 167.6L391.2 168.4L393.9 170.3L396.6 169.7L399.3 168.2L402 168.4L404.7 169.3L407.4 167.8L410.2 167.4L412.9 169.2L415.6 168.4L418.3 168.2L421 168.1L423.7 169.7"/>
<path d="M133.6 407.3L136 400.1L137.8 386.8L140.6 382.7L143 379.9L145.5 376.9L148 373.8L150.4 370.5L152.9 367.1L155.3 363.6L157.8 360.1L160.2 356.4L162.7 352.7L165.1 349L167.6 345.1L170 341.2L172.5 336.9L174.9 332.2L177.3 327.4L179.8 322.4L182.2 317.4L184.6 312.3L187 307.3L189.5 302.2L191.9 297.2L194.3 292.3L196.7 287.5L199.1 282.8L201.5 278.2L203.8 273.7L206.2 269.4L208.6 265.1L211 261L213.4 256.9L215.8 253L218.2 249.1L220.6 245.2L223 241.4L225.4 237.6L227.8 233.8L230.3 229.8L232.7 225.8L235.2 221.5L237.9 215.6L240.6 209.9L243.4 204.6L246.1 199.6L248.9 194.8L251.7 190.1L254.5 185.9L257.2 182L260 178.3L262.8 175L265.6 171.9L268.4 168.7L271.2 165.9L274 163.6L276.8 161.9L279.5 160.6L282.3 159.2L285.1 158.1L287.9 157.1L290.6 156.4L293.4 156.5L296.1 157.4L298.8 157.4L301.6 156.3L304.3 158.1L307 160.3L309.8 161.2L312.5 155.9L315.2 157.5L317.9 157.6L320.7 161.8L323.4 163.9L326.1 162.6L328.8 165L331.5 162.6L334.2 163.4L336.9 163.2L339.7 161.5L342.4 163.4L345.1 165.2L347.8 163.1L350.5 163.7L353.2 163.4L355.9 162.7L358.6 165L361.3 163.7L364.1 164.3L366.8 164.3L369.5 163.6L372.2 164.1L374.9 164.7L377.6 164.4L380.3 164.8L383 165.6L385.8 165.9L388.5 166L391.2 166L393.9 165.9L396.6 167.7L399.3 168.4L402 168.6L404.7 168.5L407.4 169.9L410.2 169.4L412.9 168.8L415.6 168.6L418.3 169.3L421 169.1L423.7 168.2"/>
<path d="M133.6 407.3L136 400.4L137.8 387.5L140.6 387.5L143 386.3L145.5 382.3L148 378.2L150.4 374L152.9 369.8L155.4 365.6L157.8 361.4L160.3 357.1L162.8 352.9L165.3 348.6L167.7 344.3L170.2 340L172.7 335.3L175.2 330.3L177.7 325.1L180.2 319.8L182.7 314.6L185.2 309.3L187.7 304.1L190.2 298.9L192.8 293.8L195.3 288.8L197.8 284L200.4 279.3L202.9 274.7L205.4 270.3L208 266L210.5 261.9L213.1 257.9L215.6 254.1L218.1 250.3L220.7 246.7L223.2 243.1L225.7 239.6L228.2 236.1L230.7 232.6L233.2 229.1L235.7 225.4L238.2 221.5L240.9 217L243.6 212.7L246.2 208.5L248.9 204.5L251.6 200.7L254.2 197.2L256.8 193.5L259.5 190L262.1 185.2L264.7 182.7L267.3 179.2L270 177.3L272.6 176.9L275.2 174.5L277.9 170L280.5 167.8L283.1 167.9L285.8 165.4L288.4 166.6L291.1 166.9L293.8 170.3L296.4 166.8L299.1 165.9L301.8 158.6L304.5 162.4L307.2 163.9L309.9 164.4L312.6 165.5L315.3 162.5L318 159.9L320.7 161L323.4 161.5L326.1 159.5L328.8 162.7L331.5 166.5L334.2 166.7L336.9 162.1L339.7 161.1L342.4 161.9L345.1 162.1L347.8 162.8L350.5 164L353.2 163.7L355.9 167.3L358.6 168.8L361.3 168.1L364.1 166.9L366.8 167.8L369.5 167.9L372.2 169.6L374.9 168.9L377.6 167.7L380.3 166.6L383 165.4L385.8 165.3L388.5 165.8L391.2 166.4L393.9 166.3L396.6 165.4L399.3 166L402 166.8L404.7 166.6L407.4 166.8L410.2 167.9L412.9 169.1L415.6 169.6L418.3 169.4L421 169L423.7 169.2"/>
<path d="M133.6 407.3L136 400.3L137.8 387.3L140.6 381.9L143.1 378.7L145.5 375.2L148 371.7L150.5 368.1L152.9 364.5L155.4 360.7L157.9 357L160.4 353.1L162.9 349.3L165.4 345.3L167.9 341.4L170.4 337.4L172.9 333L175.4 328.3L178 323.3L180.5 318.3L183.1 313.2L185.7 308.1L188.3 303L190.9 298L193.5 293.1L196.1 288.2L198.8 283.5L201.4 278.9L204.1 274.4L206.8 270.1L209.4 265.9L212.1 261.8L214.8 257.9L217.4 254.1L220.1 250.4L222.8 246.8L225.4 243.3L228 239.8L230.6 236.3L233.1 232.7L235.7 229.2L238.2 225.5L240.7 221.5L243.4 215.6L246 209.9L248.6 204.6L251.2 199.6L253.8 194.9L256.3 190.3L258.8 185.9L261.3 182L263.8 178.4L266.3 175L268.8 171.9L271.3 168.8L273.7 165.7L276.2 163.6L278.8 162L281.3 160.2L283.8 159L286.4 157.8L288.9 156.8L291.5 156.2L294.1 156L296.7 156.1L299.3 155.9L302 155.6L304.6 155.6L307.3 155.9L310 156.4L312.7 156.6L315.3 156.9L318 157.1L320.7 158.8L323.4 158.8L326.1 159.3L328.8 159.2L331.5 161L334.2 159.8L336.9 162.8L339.7 163.3L342.4 164.8L345.1 164L347.8 164.3L350.5 168.4L353.2 167.2L355.9 167.5L358.6 167.6L361.3 167.9L364.1 165.9L366.8 166.9L369.5 165.8L372.2 166.4L374.9 165.4L377.6 165.5L380.3 166.9L383 166.4L385.8 167.8L388.5 168.1L391.2 169.7L393.9 167.5L396.6 168.6L399.3 169.7L402 169.6L404.7 169.6L407.4 168.4L410.2 168L412.9 167.3L415.6 166.5L418.3 165.8L421 167L423.7 168"/>
<path d="M133.6 407.3L136 399.7L137.8 385.5L140.6 379.4L143 375.9L145.5 372.3L148 368.6L150.4 364.9L152.9 361.1L155.3 357.3L157.8 353.4L160.3 349.5L162.7 345.6L165.2 341.7L167.6 337.7L170.1 333.8L172.6 329.4L175 324.6L177.5 319.7L179.9 314.7L182.4 309.6L184.8 304.6L187.3 299.6L189.7 294.6L192.2 289.7L194.6 285L197 280.3L199.5 275.9L201.9 271.5L204.4 267.3L206.8 263.3L209.2 259.4L211.7 255.7L214.1 252L216.6 248.5L219 245.2L221.4 241.8L223.9 238.6L226.3 235.3L228.8 232L231.2 228.7L233.7 225.2L236.2 221.5L238.9 218.9L241.6 216.2L244.3 213.5L247 210.9L249.8 208.3L252.5 205.8L255.2 203.5L258 200.8L260.7 197.3L263.4 193.1L266.2 189.4L268.9 186L271.7 182.7L274.4 180.7L277.1 177.3L279.9 176.6L282.6 175.6L285.3 172.2L288 171.2L290.8 169.5L293.5 174.2L296.2 176.8L298.9 177.6L301.7 179.2L304.4 180.2L307.1 179.9L309.8 181L312.5 181.7L315.2 182.4L318 184.1L320.7 182.8L323.4 182.9L326.1 181.4L328.8 182L331.5 180.8L334.2 178.2L336.9 178.4L339.7 178.6L342.4 177.3L345.1 179.3L347.8 179L350.5 176.9L353.2 178.1L355.9 177.5L358.6 177.3L361.3 175.6L364.1 176.3L366.8 175.9L369.5 175.2L372.2 174L374.9 174.7L377.6 172.6L380.3 172.7L383 172.8L385.8 172.2L388.5 172.9L391.2 172L393.9 172.7L396.6 173L399.3 174.3L402 174.5L404.7 173.5L407.4 173L410.2 173.6L412.9 173.2L415.6 172.5L418.3 172.3L421 172L423.7 172.2"/>
<path d="M133.6 407.3L136 399L137.8 383.6L140.6 377.1L143 373.4L145.5 369.7L148 365.9L150.4 362.1L152.9 358.3L155.3 354.4L157.8 350.6L160.3 346.7L162.7 342.8L165.2 338.8L167.6 334.9L170.1 331L172.5 326.6L175 321.9L177.4 317L179.8 312L182.3 307L184.7 302L187.1 297L189.6 292.1L192 287.3L194.4 282.6L196.8 278.1L199.3 273.7L201.7 269.4L204.1 265.3L206.5 261.4L208.9 257.7L211.3 254.1L213.7 250.6L216.1 247.2L218.6 244L221 240.8L223.4 237.7L225.8 234.6L228.3 231.5L230.7 228.3L233.2 225.1L235.6 221.5L238.4 215.6L241.1 209.9L243.8 204.6L246.6 199.6L249.3 194.9L252.1 190.5L254.8 186.6L257.6 183.2L260.3 179.6L263.1 177.1L265.9 173.7L268.6 171.7L271.4 170.4L274.2 166.9L276.9 164.2L279.7 162L282.4 159.5L285.2 158L287.9 156.9L290.7 156L293.4 156L296.2 156.3L298.9 156L301.6 155.4L304.3 155.7L307.1 157.3L309.8 157.3L312.5 157.7L315.2 161L317.9 166.8L320.7 169.8L323.4 166.8L326.1 166L328.8 166.2L331.5 159.8L334.2 160.2L336.9 160.4L339.7 159.8L342.4 158.4L345.1 157L347.8 157.6L350.5 159.8L353.2 161.8L355.9 162.9L358.6 163.4L361.3 163.7L364.1 164.1L366.8 165.1L369.5 164.3L372.2 164.7L374.9 165.7L377.6 165.6L380.3 165.8L383 166.3L385.8 166.2L388.5 165.6L391.2 165.6L393.9 166.2L396.6 166.4L399.3 166.9L402 166.8L404.7 166.9L407.4 167.7L410.2 167.5L412.9 168.1L415.6 168.4L418.3 167.9L421 168.1L423.7 168.3"/>
<path d="M133.6 407.3L136 399.5L137.8 382.1L140.6 377.6L143 373.6L145.5 369.6L147.9 365.6L150.4 361.6L152.8 357.6L155.3 353.6L157.7 349.6L160.2 345.6L162.6 341.6L165.1 337.6L167.5 333.6L169.9 329.6L172.3 325.2L174.7 320.4L177.1 315.4L179.5 310.4L181.9 305.3L184.2 300.3L186.6 295.3L188.9 290.4L191.3 285.6L193.6 280.9L195.9 276.4L198.2 272L200.5 267.8L202.8 263.8L205.1 259.9L207.4 256.2L209.7 252.7L211.9 249.3L214.2 246.1L216.6 243L218.9 240L221.2 237L223.6 234L226 231.1L228.4 228L230.8 224.9L233.2 221.5L236 219L238.7 216.4L241.5 213.8L244.3 211.3L247.1 208.7L250 206L252.9 203L255.8 199.6L258.7 197.5L261.6 195.3L264.5 193.7L267.4 191.8L270.3 192.2L273.2 190.8L276.1 188.1L278.9 186.8L281.8 188.3L284.6 181.7L287.5 180.3L290.3 179.2L293.1 172.7L295.9 175.9L298.7 174.1L301.4 170.5L304.2 166.3L307 166.4L309.7 170L312.4 175.5L315.2 176L317.9 173.6L320.6 177L323.3 176.5L326.1 180.3L328.8 180.8L331.5 177.5L334.2 176.9L336.9 178.5L339.6 177L342.4 174.7L345.1 175.7L347.8 174.6L350.5 174.8L353.2 174.2L355.9 172.9L358.6 172.8L361.3 174.8L364.1 177.4L366.8 177.5L369.5 177.1L372.2 177.7L374.9 176.8L377.6 175.3L380.3 174.7L383 174.6L385.8 173.4L388.5 175.4L391.2 176L393.9 175.7L396.6 174.6L399.3 171.1L402 172L404.7 171.6L407.4 171.9L410.2 173.5L412.9 175.3L415.6 174.9L418.3 175.6L421 175.3L423.7 175.3"/>
<path d="M133.6 407.3L167.2 407.3L215.5 407L216.3 406.8L217 406.4L217.7 405.7L218.4 404.8L219.1 403.7L219.7 402.6L220.3 401.3L220.9 399.6L221.4 397.3L221.9 394.6L222.4 391.4L223 387.8L223.5 383.8L224.1 378.4L224.7 371L225.2 362.2L225.8 352.7L226.4 343L227 333.7L227.7 325.3L228.3 317L228.9 308.6L229.6 300.3L230.3 292L230.9 283.6L231.7 275.3L232.4 266.8L233.2 258.4L233.9 249.9L234.7 241.4L235.6 233L236.4 224.7L237.4 216.5L238.4 208.1L239.4 199.8L240.5 191.6L241.6 183.7L242.7 176.2L243.7 169.3L244.7 162.8L245.6 156.4L246.5 150.4L247.5 144.7L248.4 139.5L249.3 135L250.2 131.1L251.2 127.4L252.1 123.9L253 120.7L254 118L254.9 115.7L255.7 114L256.6 112.6L257.4 111.2L258.3 110L259.1 109L259.8 108.4L260.6 108L261.3 108.1L261.9 108.5L262.5 109.2L263.1 110.1L263.7 111.1L264.4 112.3L265.2 113.6L266.2 115.5L267.3 118.1L268.5 121.2L269.8 124.6L271 128L272.2 131.2L273.3 134.3L274.5 137.6L275.6 141L276.7 144.3L277.8 147.4L278.8 150.2L279.6 152.6L280.4 154.5L281.1 156.2L281.7 157.8L282.4 159.3L283 160.9L283.7 162.6L284.3 164.5L285 166.6L285.7 168.7L286.3 170.8L287 172.9L287.6 174.8L288.2 176.5L288.7 178.2L289.3 179.8L289.8 181.3L290.3 182.7L290.8 183.9L291.4 184.9L292 185.6L292.6 186.4L293.3 187.1L294 187.6L294.7 188.1L295.5 188.3L296.3 188.4L297.2 188.3L298.3 188.2L299.4 188.1L300.5 187.9L301.7 187.7L302.8 187.5L304 187.3L305.2 186.9L306.4 186.5L307.7 186L308.9 185.4L310.2 184.8L311.5 184.3L312.8 183.7L314.1 183L315.4 182.3L316.8 181.5L318.3 180.8L319.9 180.1L321.6 179.3L323.4 178.5L325.3 177.7L327.4 176.9L329.5 176.1L331.7 175.4L334 174.7L336.3 174.1L338.6 173.5L341.1 172.9L343.8 172.4L346.7 171.9L349.9 171.5L353.4 171.1L357.5 170.7L361.9 170.3L366.7 169.9L371.8 169.7L377.1 169.5L382.7 169.5L388.6 169.5L395 169.5L401.7 169.6L408.8 169.7L416.3 169.8L424 170"/>
<path d="M133.6 407.3L167.2 407.3L215.2 407L216 406.8L216.8 406.4L217.5 405.7L218.2 404.8L218.8 403.7L219.5 402.5L220.1 401.2L220.6 399.5L221.2 397.2L221.7 394.4L222.2 391.2L222.8 387.6L223.3 383.5L223.9 377.8L224.5 370.3L225.1 361.4L225.6 351.8L226.3 342.1L226.9 332.9L227.5 324.4L228.1 316L228.8 307.6L229.5 299.3L230.1 290.9L230.8 282.5L231.6 274.1L232.3 265.6L233.1 257.1L233.9 248.6L234.7 240.1L235.5 231.6L236.4 223.2L237.3 214.9L238.3 206.5L239.4 198.1L240.5 189.8L241.5 181.8L242.6 174.1L243.6 167L244.6 160.1L245.5 153.4L246.4 147.1L247.3 141.4L248.2 136.3L249.1 131.8L250.1 127.9L251 124.3L251.9 120.9L252.9 117.9L253.8 115.3L254.7 113.2L255.5 111.6L256.3 110.3L257.1 109L257.9 107.9L258.7 107L259.4 106.4L260.1 106.1L260.8 106.2L261.4 106.6L262 107.3L262.6 108.1L263.3 109.2L264 110.4L264.9 111.8L266 113.9L267.2 116.5L268.5 119.6L269.8 123L271.1 126.5L272.4 129.9L273.6 133.2L274.8 136.6L276.1 140.1L277.2 143.5L278.4 146.7L279.5 149.5L280.4 152L281.3 154.1L282.1 155.9L282.8 157.6L283.4 159.2L284.1 160.8L284.7 162.5L285.4 164.4L286 166.4L286.7 168.5L287.3 170.6L287.9 172.7L288.5 174.7L289.1 176.5L289.6 178.2L290.1 179.9L290.6 181.4L291.1 182.9L291.6 184.1L292.2 185.1L292.7 185.9L293.3 186.7L294 187.3L294.6 187.9L295.3 188.4L296.1 188.6L296.9 188.7L297.8 188.7L298.8 188.6L299.8 188.5L301 188.3L302.1 188.1L303.3 187.9L304.4 187.7L305.6 187.3L306.8 186.9L308 186.4L309.3 185.9L310.6 185.3L311.9 184.7L313.2 184.1L314.4 183.5L315.8 182.8L317.1 182L318.5 181.3L320.1 180.5L321.7 179.8L323.5 179L325.5 178.2L327.5 177.3L329.6 176.6L331.8 175.8L334 175.2L336.3 174.5L338.6 173.9L341.1 173.4L343.7 172.8L346.5 172.4L349.6 171.9L353.2 171.5L357.2 171.1L361.7 170.7L366.5 170.3L371.6 170L376.9 169.8L382.5 169.8L388.5 169.8L394.8 169.8L401.6 169.9L408.8 170L416.2 170.1L424 170.2"/>
<path d="M133.6 407.3L167.2 407.3L215 407L215.8 406.8L216.5 406.4L217.2 405.7L217.9 404.7L218.6 403.7L219.2 402.5L219.9 401.2L220.4 399.4L221 397.1L221.5 394.2L222 391L222.5 387.3L223.1 383.1L223.7 377.3L224.3 369.6L224.9 360.6L225.5 350.9L226.1 341.2L226.7 332L227.4 323.5L228 315.1L228.7 306.7L229.3 298.2L230 289.8L230.7 281.4L231.5 272.9L232.2 264.4L233 255.8L233.8 247.3L234.6 238.7L235.5 230.2L236.4 221.8L237.3 213.4L238.3 204.8L239.3 196.3L240.4 188L241.4 179.9L242.5 172.1L243.5 164.6L244.4 157.4L245.4 150.4L246.3 143.9L247.2 138.1L248.1 133.1L249 128.6L249.9 124.8L250.9 121.2L251.8 117.9L252.7 115L253.6 112.6L254.4 110.7L255.2 109.2L256 107.9L256.8 106.8L257.5 105.8L258.3 105L259 104.5L259.7 104.3L260.3 104.4L260.9 104.8L261.5 105.4L262.2 106.2L262.9 107.2L263.7 108.5L264.7 110.1L265.8 112.2L267.1 114.9L268.4 118L269.8 121.4L271.2 125L272.5 128.5L273.9 132L275.2 135.6L276.5 139.2L277.8 142.7L279 145.9L280.2 148.9L281.2 151.4L282.2 153.6L283 155.6L283.8 157.4L284.5 159.1L285.1 160.7L285.8 162.4L286.4 164.2L287 166.2L287.7 168.3L288.3 170.5L288.8 172.6L289.4 174.7L289.9 176.5L290.4 178.3L290.9 180L291.4 181.6L291.9 183L292.4 184.3L292.9 185.4L293.5 186.2L294.1 187L294.7 187.6L295.3 188.2L296 188.7L296.7 188.9L297.5 189.1L298.3 189.1L299.3 189L300.3 188.9L301.4 188.7L302.5 188.5L303.7 188.3L304.8 188.1L306 187.8L307.2 187.4L308.4 186.9L309.7 186.3L310.9 185.8L312.2 185.2L313.5 184.6L314.8 184L316.1 183.3L317.4 182.5L318.8 181.8L320.3 181L321.9 180.3L323.7 179.5L325.6 178.6L327.6 177.8L329.7 177L331.8 176.3L334 175.6L336.3 175L338.6 174.4L341 173.8L343.6 173.3L346.4 172.8L349.4 172.3L352.9 171.9L356.9 171.5L361.4 171L366.2 170.6L371.3 170.3L376.7 170.2L382.3 170.1L388.3 170.1L394.7 170.1L401.5 170.2L408.7 170.2L416.2 170.4L424 170.5"/>
<path d="M133.6 407.3L167.2 407.3L214.8 407L215.5 406.8L216.3 406.4L217 405.6L217.7 404.7L218.4 403.6L219 402.5L219.6 401.1L220.2 399.3L220.7 396.9L221.3 394.1L221.8 390.8L222.3 387L222.9 382.8L223.5 376.7L224.1 368.9L224.7 359.7L225.3 350L225.9 340.3L226.6 331.1L227.2 322.6L227.9 314.1L228.5 305.7L229.2 297.2L229.9 288.7L230.6 280.2L231.4 271.7L232.2 263.2L232.9 254.6L233.7 246L234.6 237.4L235.4 228.8L236.3 220.3L237.2 211.8L238.2 203.2L239.2 194.6L240.3 186.1L241.3 177.9L242.3 170L243.3 162.3L244.3 154.7L245.2 147.4L246.1 140.7L247.1 134.8L248 129.8L248.9 125.4L249.8 121.6L250.7 118.1L251.7 114.9L252.5 112.2L253.4 110L254.2 108.2L255 106.8L255.7 105.6L256.5 104.5L257.2 103.6L257.9 103L258.6 102.5L259.2 102.4L259.9 102.5L260.5 102.9L261.1 103.5L261.7 104.2L262.5 105.2L263.4 106.6L264.4 108.3L265.6 110.6L267 113.4L268.4 116.5L269.8 119.8L271.2 123.5L272.7 127.2L274.1 130.9L275.5 134.7L276.9 138.4L278.3 141.9L279.6 145.1L280.9 148.2L282 150.9L283.1 153.2L284 155.3L284.8 157.2L285.5 158.9L286.2 160.6L286.8 162.3L287.4 164.1L288 166.1L288.7 168.1L289.2 170.3L289.8 172.5L290.3 174.6L290.8 176.6L291.3 178.4L291.8 180.2L292.2 181.7L292.7 183.2L293.2 184.5L293.7 185.6L294.2 186.5L294.8 187.3L295.4 187.9L296 188.5L296.6 188.9L297.3 189.2L298.1 189.4L298.9 189.4L299.8 189.4L300.8 189.2L301.9 189.1L303 188.9L304.1 188.7L305.2 188.5L306.4 188.2L307.5 187.8L308.8 187.3L310 186.8L311.3 186.3L312.6 185.7L313.9 185.1L315.1 184.4L316.4 183.7L317.7 183L319.1 182.3L320.5 181.5L322.1 180.7L323.8 179.9L325.7 179.1L327.7 178.3L329.7 177.5L331.9 176.7L334.1 176L336.3 175.4L338.6 174.8L340.9 174.2L343.4 173.7L346.2 173.2L349.2 172.7L352.7 172.3L356.6 171.8L361.1 171.4L365.9 171L371.1 170.7L376.5 170.5L382.1 170.4L388.1 170.4L394.6 170.5L401.4 170.5L408.6 170.5L416.1 170.6L424 170.8"/>
<path d="M133.6 407.3L167.2 407.3L214.5 407L215.3 406.8L216 406.4L216.8 405.6L217.5 404.7L218.1 403.6L218.8 402.4L219.4 401.1L220 399.2L220.5 396.8L221 393.9L221.6 390.6L222.1 386.8L222.7 382.4L223.3 376.2L223.9 368.2L224.5 358.9L225.1 349.1L225.7 339.3L226.4 330.2L227.1 321.7L227.7 313.2L228.4 304.7L229.1 296.1L229.8 287.6L230.5 279.1L231.3 270.5L232.1 261.9L232.9 253.3L233.7 244.7L234.5 236L235.4 227.4L236.3 218.8L237.2 210.2L238.2 201.5L239.2 192.9L240.2 184.3L241.2 176L242.2 168L243.2 159.9L244.1 152L245.1 144.4L246 137.5L246.9 131.5L247.8 126.6L248.7 122.3L249.7 118.4L250.6 115L251.5 111.9L252.4 109.3L253.2 107.3L254 105.7L254.7 104.4L255.4 103.2L256.1 102.3L256.8 101.5L257.5 100.9L258.2 100.6L258.8 100.5L259.4 100.7L260 101L260.6 101.6L261.3 102.3L262 103.2L263 104.7L264.2 106.5L265.5 108.9L266.9 111.8L268.3 114.9L269.8 118.2L271.3 122L272.9 125.8L274.4 129.7L275.9 133.7L277.4 137.5L278.8 141L280.2 144.4L281.6 147.5L282.8 150.3L284 152.8L285 155L285.8 157L286.5 158.8L287.2 160.5L287.9 162.2L288.5 164L289.1 165.9L289.6 167.9L290.2 170.1L290.7 172.3L291.2 174.5L291.7 176.6L292.2 178.5L292.6 180.3L293.1 181.9L293.5 183.4L294 184.7L294.4 185.9L295 186.8L295.5 187.6L296 188.2L296.6 188.8L297.3 189.2L297.9 189.5L298.6 189.7L299.4 189.8L300.3 189.7L301.3 189.6L302.3 189.5L303.4 189.3L304.5 189.1L305.6 188.9L306.7 188.6L307.9 188.3L309.1 187.8L310.4 187.3L311.7 186.7L313 186.2L314.2 185.6L315.5 184.9L316.7 184.2L318 183.5L319.3 182.7L320.8 182L322.3 181.2L324 180.4L325.8 179.6L327.8 178.8L329.8 178L331.9 177.2L334.1 176.5L336.3 175.8L338.5 175.2L340.8 174.7L343.3 174.1L346 173.6L349 173.1L352.4 172.7L356.4 172.2L360.8 171.8L365.7 171.3L370.9 171L376.3 170.8L381.9 170.8L388 170.8L394.4 170.8L401.3 170.8L408.5 170.8L416.1 170.9L424 171"/>
<path d="M133.6 407.3L167.2 407.3L214.2 407L215 406.8L215.8 406.3L216.5 405.6L217.2 404.7L217.9 403.6L218.6 402.4L219.2 401L219.7 399.1L220.3 396.7L220.8 393.8L221.3 390.4L221.9 386.5L222.5 382.1L223.1 375.7L223.7 367.5L224.3 358.1L224.9 348.2L225.6 338.4L226.2 329.4L226.9 320.8L227.6 312.2L228.3 303.7L229 295.1L229.7 286.5L230.4 278L231.2 269.4L232 260.7L232.8 252.1L233.6 243.4L234.5 234.7L235.3 226L236.2 217.4L237.1 208.7L238.1 199.9L239.1 191.1L240.1 182.5L241.1 174.1L242.1 165.9L243.1 157.6L244 149.3L244.9 141.4L245.9 134.3L246.8 128.2L247.7 123.3L248.6 119.1L249.5 115.3L250.5 111.9L251.4 108.9L252.2 106.5L253 104.6L253.8 103.1L254.5 101.9L255.1 100.9L255.8 100L256.5 99.3L257.1 98.9L257.8 98.7L258.4 98.6L258.9 98.8L259.5 99.2L260.1 99.7L260.8 100.3L261.6 101.3L262.7 102.8L263.9 104.8L265.3 107.3L266.8 110.2L268.3 113.3L269.8 116.7L271.4 120.5L273 124.5L274.6 128.6L276.3 132.7L277.8 136.7L279.3 140.2L280.8 143.6L282.3 146.8L283.6 149.7L284.9 152.3L286 154.7L286.8 156.8L287.6 158.7L288.3 160.4L288.9 162.1L289.5 163.9L290.1 165.7L290.6 167.7L291.2 169.9L291.7 172.2L292.1 174.5L292.6 176.6L293 178.6L293.4 180.4L293.9 182L294.3 183.5L294.7 184.9L295.2 186.1L295.7 187.1L296.2 187.9L296.7 188.5L297.3 189L297.9 189.5L298.5 189.8L299.2 190L300 190.1L300.8 190.1L301.7 190L302.7 189.9L303.8 189.7L304.9 189.5L306 189.3L307.1 189.1L308.3 188.7L309.5 188.3L310.8 187.8L312 187.2L313.3 186.6L314.6 186L315.8 185.4L317 184.7L318.3 184L319.6 183.2L321 182.5L322.5 181.7L324.1 180.9L325.9 180.1L327.9 179.2L329.9 178.4L332 177.6L334.1 176.9L336.3 176.3L338.5 175.7L340.8 175.1L343.2 174.5L345.9 174L348.8 173.6L352.2 173.1L356.1 172.6L360.5 172.1L365.4 171.7L370.6 171.3L376.1 171.1L381.8 171.1L387.8 171.1L394.3 171.1L401.2 171.1L408.4 171.1L416.1 171.2L424 171.2"/>
<path d="M133.6 407.3L167.2 407.3L214 407L214.8 406.8L215.5 406.3L216.3 405.6L217 404.6L217.7 403.5L218.3 402.3L218.9 400.9L219.5 399L220.1 396.5L220.6 393.6L221.1 390.2L221.7 386.3L222.3 381.7L222.9 375.1L223.5 366.8L224.1 357.3L224.8 347.3L225.4 337.5L226.1 328.5L226.7 319.9L227.4 311.3L228.1 302.7L228.9 294.1L229.6 285.5L230.3 276.8L231.1 268.2L231.9 259.5L232.7 250.8L233.5 242.1L234.4 233.4L235.3 224.6L236.2 215.9L237.1 207.1L238 198.2L239 189.4L240 180.7L241 172.2L242 163.8L242.9 155.2L243.9 146.6L244.8 138.4L245.7 131L246.7 124.9L247.6 120.1L248.5 115.9L249.4 112.1L250.3 108.8L251.2 105.9L252 103.6L252.8 102L253.5 100.6L254.2 99.5L254.9 98.6L255.5 97.8L256.1 97.2L256.7 96.9L257.3 96.7L257.9 96.8L258.5 97L259 97.3L259.6 97.8L260.3 98.4L261.2 99.3L262.3 100.9L263.6 103L265.1 105.6L266.6 108.6L268.2 111.7L269.8 115.1L271.5 119L273.2 123.2L274.9 127.5L276.6 131.8L278.3 135.8L279.8 139.4L281.4 142.9L283 146.1L284.4 149.1L285.8 151.9L286.9 154.4L287.8 156.6L288.6 158.5L289.3 160.3L289.9 162L290.5 163.7L291.1 165.6L291.6 167.5L292.1 169.7L292.6 172.1L293 174.4L293.5 176.6L293.9 178.7L294.3 180.5L294.7 182.2L295.1 183.7L295.5 185.1L296 186.4L296.4 187.4L296.9 188.2L297.4 188.8L298 189.3L298.5 189.8L299.1 190.1L299.8 190.4L300.5 190.5L301.3 190.5L302.2 190.4L303.2 190.3L304.2 190.1L305.3 189.9L306.4 189.7L307.5 189.5L308.7 189.2L309.9 188.7L311.1 188.2L312.4 187.7L313.7 187.1L314.9 186.5L316.2 185.9L317.4 185.2L318.6 184.5L319.9 183.7L321.2 182.9L322.7 182.2L324.3 181.4L326.1 180.6L328 179.7L329.9 178.9L332 178.1L334.2 177.4L336.3 176.7L338.5 176.1L340.7 175.5L343.1 175L345.7 174.4L348.6 174L351.9 173.5L355.8 173L360.3 172.5L365.2 172L370.4 171.7L375.9 171.4L381.6 171.4L387.6 171.4L394.1 171.4L401.1 171.4L408.4 171.4L416 171.5L424 171.5"/>
<path d="M133.6 407.3L167.2 407.3L213.8 407L214.5 406.8L215.3 406.3L216 405.6L216.8 404.6L217.4 403.5L218.1 402.3L218.7 400.9L219.3 398.9L219.8 396.4L220.4 393.4L220.9 389.9L221.5 386L222.1 381.4L222.7 374.6L223.3 366.1L223.9 356.4L224.6 346.4L225.2 336.6L225.9 327.6L226.6 319L227.3 310.3L228 301.7L228.7 293L229.5 284.4L230.2 275.7L231 267L231.8 258.3L232.6 249.5L233.5 240.8L234.3 232L235.2 223.3L236.1 214.4L237 205.5L238 196.6L238.9 187.7L239.9 178.9L240.9 170.3L241.8 161.8L242.8 152.8L243.7 143.9L244.7 135.4L245.6 127.8L246.5 121.6L247.4 116.9L248.3 112.7L249.3 109L250.2 105.7L251.1 102.9L251.9 100.8L252.6 99.3L253.3 98.1L254 97.1L254.6 96.2L255.2 95.5L255.8 95L256.4 94.8L256.9 94.8L257.5 94.9L258 95.1L258.5 95.5L259.2 95.9L259.9 96.4L260.8 97.3L262 99L263.4 101.2L264.9 104L266.5 107L268.2 110.2L269.8 113.5L271.5 117.5L273.3 121.8L275.2 126.3L277 130.8L278.7 135L280.3 138.6L282 142.1L283.7 145.4L285.2 148.6L286.7 151.5L287.9 154.1L288.8 156.4L289.6 158.4L290.4 160.2L291 161.9L291.6 163.6L292.1 165.4L292.6 167.4L293.1 169.6L293.5 171.9L294 174.3L294.3 176.6L294.7 178.8L295.1 180.7L295.5 182.3L295.9 183.9L296.3 185.3L296.7 186.6L297.2 187.7L297.6 188.5L298.1 189.1L298.6 189.6L299.2 190.1L299.8 190.4L300.4 190.7L301.1 190.8L301.8 190.8L302.7 190.8L303.6 190.7L304.6 190.5L305.7 190.3L306.8 190.1L307.9 189.9L309 189.6L310.2 189.2L311.5 188.7L312.8 188.1L314 187.6L315.3 187L316.5 186.4L317.7 185.7L318.9 185L320.1 184.2L321.4 183.4L322.9 182.7L324.5 181.9L326.2 181L328.1 180.2L330 179.3L332.1 178.5L334.2 177.8L336.3 177.2L338.4 176.5L340.6 175.9L343 175.4L345.5 174.9L348.4 174.4L351.7 173.9L355.5 173.4L360 172.9L364.9 172.4L370.2 172L375.7 171.8L381.4 171.7L387.5 171.7L394 171.7L400.9 171.7L408.3 171.7L416 171.7L424 171.8"/>
<path d="M133.6 407.3L167.2 407.3L213.5 407L214.3 406.8L215.1 406.3L215.8 405.6L216.5 404.6L217.2 403.5L217.9 402.3L218.5 400.8L219.1 398.8L219.6 396.3L220.1 393.3L220.7 389.7L221.3 385.8L221.9 381L222.5 374L223.1 365.4L223.7 355.6L224.4 345.5L225.1 335.7L225.8 326.7L226.4 318L227.2 309.4L227.9 300.7L228.6 292L229.4 283.3L230.1 274.5L230.9 265.8L231.7 257L232.6 248.3L233.4 239.5L234.3 230.7L235.2 221.9L236.1 213L237 204L237.9 194.9L238.9 186L239.8 177.1L240.8 168.4L241.7 159.7L242.6 150.5L243.6 141.2L244.5 132.4L245.5 124.6L246.4 118.3L247.3 113.6L248.2 109.5L249.1 105.8L250 102.6L250.9 99.9L251.7 97.9L252.4 96.6L253.1 95.6L253.7 94.7L254.3 93.9L254.8 93.3L255.4 92.9L256 92.8L256.5 92.9L257 93L257.5 93.3L258.1 93.6L258.7 94L259.4 94.5L260.4 95.4L261.7 97.1L263.1 99.5L264.8 102.3L266.4 105.4L268.1 108.6L269.8 111.9L271.6 116L273.5 120.5L275.4 125.2L277.3 129.8L279.1 134.1L280.9 137.8L282.6 141.3L284.4 144.8L286 148L287.6 151L288.9 153.8L289.9 156.2L290.7 158.2L291.4 160.1L292 161.8L292.6 163.5L293.1 165.2L293.6 167.2L294.1 169.4L294.5 171.8L294.9 174.3L295.2 176.7L295.6 178.9L296 180.8L296.3 182.4L296.7 184L297.1 185.5L297.5 186.9L297.9 188L298.3 188.8L298.8 189.4L299.3 189.9L299.8 190.4L300.4 190.7L301 191L301.6 191.2L302.3 191.2L303.2 191.1L304.1 191L305.1 190.9L306.1 190.7L307.2 190.5L308.3 190.3L309.4 190L310.6 189.6L311.9 189.2L313.1 188.6L314.4 188.1L315.7 187.5L316.8 186.9L318 186.2L319.2 185.4L320.4 184.7L321.7 183.9L323.1 183.1L324.6 182.3L326.3 181.5L328.2 180.7L330.1 179.8L332.1 179L334.2 178.3L336.3 177.6L338.4 177L340.6 176.4L342.9 175.8L345.4 175.3L348.2 174.8L351.4 174.3L355.3 173.8L359.7 173.2L364.6 172.7L369.9 172.3L375.5 172.1L381.2 172L387.3 172L393.9 172L400.8 172L408.2 172L415.9 172L424 172"/>
<path d="M420.1 173.6L422.5 173.7L425 174.3L427.5 173.4L429.9 175.2L432.4 174.2L434.9 175.3L437.3 174.4L439.8 172.8L442.3 172.4L444.7 172.3L447.2 172.6L449.7 171.7L452.1 172.2L454.6 171.6L457.1 171.2L459.5 171.9L462 171.8L464.5 173.1L466.9 174.5L469.4 174L471.9 174L474.3 174.1L476.8 174L479.3 175L481.7 174.9L484.2 174.3L486.7 173.6L489.1 173.1L491.6 172.2L494.1 173.2L496.5 173.8L499 174.6L501.5 175.2L503.9 174.8L506.4 173.5L508.9 171.9L511.4 172.1L513.8 172.2L516.3 173.2L518.8 173.3L521.2 172.8L523.7 172.5L526.2 173L528.6 173.8L531.1 175.1L533.6 176.7L536 177L538.5 177.1L541 177.2L543.4 177.3L545.9 176.4L548.4 177.4L550.8 176.1L553.3 174.8L555.8 175.8L558.2 176.2L560.7 176.6L563.2 175.6L565.6 176.1L568.1 175.3L570.6 176.7L573 176L575.5 177.5L578 178.2L580.4 178.2L582.9 178.3L585.4 178.2L587.8 178.4L590.3 178.5L592.8 178.1L595.3 177L597.7 176.7L600.2 176.3L602.7 176.4L605.1 174.3L607.6 174.2L610.1 175L612.5 175.3L615 173.9L617.5 174.6L619.9 175.7L622.4 176.9L624.9 176.6L627.3 176.6L629.8 177.3L632.3 176.3L634.7 176.4L637.2 176L639.7 176.2L642.1 176.9L644.6 177.2L647.1 178L649.5 177.7L652 178.4L654.5 178.5L656.9 178.6L659.4 180.3L661.9 180.5L664.3 180.6L666.8 180.7L669.3 180.7L671.7 180.8L674.2 180.9L676.7 181L679.1 181.1L681.6 181.1L684.1 180.7L686.6 180.7L689 179.1L691.5 176.9L694 176.3L696.4 179.2L698.9 179L701.4 176.9L703.8 177.9L706.3 175.8L708.8 175.3L711.2 174.4L713.7 174.6L716.2 176.8L718.6 177.9L721.1 177.2L723.6 179.7L726 180.9L728.5 181.1L731 182.7L733.4 182.8L735.9 182.9L738.4 183L740.8 183.1L743.3 183.1L745.8 183.1L748.2 181.3L750.7 183.2L753.2 183.4L755.6 183.5L758.1 183.6L760.6 183.1L763 182L765.5 181.7L768 180.5L770.5 180.5L772.9 179.6L775.4 178.6L777.9 177.2L780.3 176.7L782.8 176.9L785.3 176.5L787.7 178.9L790.2 179.3L792.7 180.7L795.1 180L797.6 179.4L800.1 179.8L802.5 182.8L805 182L807.5 181.5L809.9 184.8L812.4 184L814.9 184.1L817.3 185L819.8 185.1L822.3 185.1L824.7 185.1L827.2 185.2L829.7 185.2L832.1 185.3L834.6 185.3L837.1 185.3L839.5 185.2L842 182.8L844.5 185.4L846.9 184.3L849.4 184.4L851.9 184L854.3 183.3L856.8 184.4L859.3 184.7L861.8 185.7L864.2 185.7L866.7 185.7L869.2 184.4L871.6 185.8L874.1 185.7L876.6 185.6L879 185.3L881.5 183.2L884 182L886.4 179.7L888.9 177.1L891.4 179.7L893.8 179.7L896.3 181.5L898.8 182.3L901.2 184.3L903.7 184.9L906.2 185L908.6 185.5L911.1 184.3L913.6 184.6L916 182.9L918.5 185.9L921 186.3L923.4 186.4L925.9 186.4L928.4 186.4L930.8 186.4L933.3 186.5L935.8 186.5L938.2 186.5L940.7 186.5L943.2 186.5L945.7 186.6L948.1 186.6L950.6 186.6L953.1 186.6L955.5 186.7L958 186.4L960.5 186.7L962.9 185.8L965.4 183.6L967.9 183.5L970.3 185.1L972.8 186L975.3 185.5L977.7 183.5L980.2 183.2L982.7 184.4L985.1 184.7L987.6 184.2L990.1 184.6L992.5 183.7L995 183.4L997.5 184.6L999.9 184.1L1002.4 185.2L1004.9 185.1L1007.3 184.8L1009.8 183.4L1012.3 184.6L1014.7 185.5L1017.2 184.2L1019.7 183.5L1022.1 183L1024.6 182.6L1027.1 182.6L1029.5 182.9L1032 183.3L1034.5 184.4L1037 183.6L1039.4 182L1041.9 182.8L1044.4 183.7L1046.8 182.9L1049.3 184.3L1051.8 184.8L1054.2 185.6L1056.7 185L1059.2 184.5L1061.6 184L1064.1 183.6L1066.6 183.9L1069 184.1L1071.5 184L1074 183.1L1076.4 183.2L1078.9 183.5L1081.4 183.8L1083.8 183.9L1086.3 186.4L1088.8 187.9L1091.2 187.9L1093.7 186.5L1096.2 187.3L1098.6 187.9L1101.1 187.1L1103.6 187.1L1106 187.5L1108.5 187.2L1111 185L1113.4 184.9L1115.9 186L1118.4 186.2L1120.9 186.1L1123.3 185.9L1125.8 185.3L1128.3 184.1L1130.7 185.1L1133.2 185.8L1135.7 186.6L1138.1 187.2L1140.6 187.8L1143.1 188L1145.5 187.1L1148 186.6L1150.5 188.4L1152.9 188.5L1155.4 187.7L1157.9 188.1L1160.3 188.2L1162.8 188.1L1165.3 186.1L1167.7 186.6L1170.2 188.2L1172.7 188.7L1175.1 187.2L1177.6 188.1L1180.1 188.5L1182.5 188.2L1185 187.1L1187.5 186.7L1189.9 187.6L1192.4 188.7L1194.9 187.9L1197.3 186.9L1199.8 187.7L1202.3 188L1204.7 187L1207.2 186.7L1209.7 188.5L1212.2 188.4L1214.6 188.5L1217.1 188.1L1219.6 188.4L1222 189.1L1224.5 189.2L1227 189.2L1229.4 189.2L1231.9 189.2"/>
<path d="M420.1 176.1L422.5 176L425 175.9L427.5 175.8L429.9 175.7L432.4 174.8L434.9 173.8L437.3 174.1L439.8 174.4L442.3 175.6L444.7 174.9L447.2 175.5L449.7 175.2L452.1 175.6L454.6 175.3L457.1 174.8L459.5 175.1L462 175.1L464.5 175.6L466.9 175.2L469.4 175.7L471.9 173L474.3 174.2L476.8 172.6L479.3 174L481.7 174.4L484.2 173.4L486.7 172.8L489.1 171.9L491.6 172L494.1 172.3L496.5 173.9L499 172.3L501.5 174.1L503.9 174.1L506.4 175.1L508.9 176.3L511.4 176.4L513.8 176.5L516.3 175.4L518.8 174.6L521.2 175.5L523.7 176.3L526.2 176.2L528.6 175.6L531.1 174L533.6 173.1L536 172L538.5 172.9L541 175.7L543.4 177.3L545.9 177.3L548.4 177L550.8 175.5L553.3 176.1L555.8 176.9L558.2 177.2L560.7 177.2L563.2 177.2L565.6 176.6L568.1 174.6L570.6 174.3L573 174.5L575.5 176.3L578 176.1L580.4 177.4L582.9 178.3L585.4 178.4L587.8 178.4L590.3 178.5L592.8 178.5L595.3 178.6L597.7 178.5L600.2 178.1L602.7 177.6L605.1 177.3L607.6 175.8L610.1 175.9L612.5 175.8L615 175.9L617.5 178.4L619.9 178.3L622.4 179.3L624.9 179.4L627.3 179.4L629.8 179.5L632.3 179.6L634.7 179.6L637.2 179.7L639.7 179.8L642.1 179.6L644.6 179.9L647.1 179.3L649.5 180.1L652 179.7L654.5 179.8L656.9 179.2L659.4 178.5L661.9 178.4L664.3 177.9L666.8 177.3L669.3 175.6L671.7 176L674.2 173.5L676.7 174.4L679.1 172.2L681.6 171.7L684.1 172.2L686.6 172.2L689 172.7L691.5 173.2L694 175.2L696.4 176.6L698.9 178.5L701.4 179.9L703.8 180.8L706.3 181.9L708.8 179.5L711.2 178.5L713.7 178.4L716.2 181.4L718.6 180.8L721.1 180.8L723.6 180.4L726 179.1L728.5 180.7L731 179.9L733.4 182.2L735.9 182.1L738.4 182.8L740.8 182.1L743.3 182.3L745.8 183.2L748.2 183.3L750.7 183.4L753.2 183.4L755.6 183.5L758.1 182.4L760.6 183.6L763 183.7L765.5 183.8L768 183.6L770.5 183.1L772.9 182.7L775.4 182.6L777.9 181.7L780.3 181.7L782.8 183.1L785.3 184.3L787.7 182.8L790.2 183.4L792.7 182.4L795.1 181.9L797.6 182.2L800.1 181.5L802.5 182.1L805 181.9L807.5 181.9L809.9 181.8L812.4 183.1L814.9 182.9L817.3 183.6L819.8 184.2L822.3 184.5L824.7 185.1L827.2 185L829.7 183.1L832.1 184.1L834.6 182.8L837.1 181.8L839.5 181.4L842 182.1L844.5 182.8L846.9 181.6L849.4 181L851.9 182.7L854.3 183.1L856.8 181.4L859.3 180.8L861.8 182.4L864.2 182.4L866.7 183.5L869.2 181.6L871.6 181.1L874.1 183.3L876.6 182.3L879 184L881.5 183.9L884 185.1L886.4 185L888.9 184.9L891.4 185.5L893.8 186.1L896.3 186.1L898.8 186.1L901.2 186.1L903.7 186.2L906.2 186.2L908.6 185.5L911.1 183.6L913.6 184.7L916 185.8L918.5 185.9L921 186.2L923.4 183.6L925.9 182.7L928.4 181.8L930.8 182.9L933.3 182.9L935.8 183.6L938.2 181.3L940.7 179L943.2 178.9L945.7 179.8L948.1 182L950.6 182.3L953.1 183.1L955.5 185.7L958 186.3L960.5 186.5L962.9 186.3L965.4 185.9L967.9 185.1L970.3 182.5L972.8 182.8L975.3 182.6L977.7 180.6L980.2 180L982.7 181.5L985.1 179.9L987.6 181.4L990.1 180.5L992.5 181.4L995 183.5L997.5 182.4L999.9 181.2L1002.4 182.1L1004.9 181.7L1007.3 180.1L1009.8 181L1012.3 181.5L1014.7 181.2L1017.2 180.2L1019.7 179.7L1022.1 180.4L1024.6 181.3L1027.1 182.6L1029.5 182.5L1032 184.3L1034.5 184.9L1037 186L1039.4 187.1L1041.9 187.4L1044.4 187.5L1046.8 187.5L1049.3 187.5L1051.8 187.5L1054.2 187.1L1056.7 186.8L1059.2 185.9L1061.6 185.8L1064.1 187.3L1066.6 187.7L1069 187.7L1071.5 187.7L1074 185.8L1076.4 186.7L1078.9 187.8L1081.4 187.8L1083.8 187.9L1086.3 187.9L1088.8 187.9L1091.2 187L1093.7 185.8L1096.2 185.6L1098.6 186.6L1101.1 185.8L1103.6 186L1106 186.2L1108.5 184.7L1111 185.4L1113.4 183.8L1115.9 183.6L1118.4 186.2L1120.9 186.1L1123.3 187L1125.8 186L1128.3 185.4L1130.7 186.1L1133.2 184.9L1135.7 185.7L1138.1 186.3L1140.6 187.9L1143.1 186.5L1145.5 186.5L1148 186.1L1150.5 187.5L1152.9 188.5L1155.4 188.5L1157.9 188.6L1160.3 188.6L1162.8 187.9L1165.3 186.9L1167.7 188.5L1170.2 188.7L1172.7 188.7L1175.1 188L1177.6 186.8L1180.1 186.5L1182.5 186.6L1185 187.6L1187.5 188.8L1189.9 188.9L1192.4 188.9L1194.9 188.9L1197.3 188.9L1199.8 188.9L1202.3 189L1204.7 189L1207.2 189L1209.7 188.5L1212.2 186.6L1214.6 185.7L1217.1 186.3L1219.6 184L1222 183.4L1224.5 183.8L1227 184.9L1229.4 183.1L1231.9 183"/>
<path d="M420.1 170.9L422.5 169.3L425 168.8L427.5 168L429.9 168.8L432.4 167.5L434.9 167.4L437.3 167.7L439.8 167.8L442.3 167.7L444.7 167.8L447.2 168.9L449.7 168.6L452.1 169.4L454.6 168.9L457.1 169.7L459.5 168.8L462 168.5L464.5 168.5L466.9 169.5L469.4 170.4L471.9 170.4L474.3 171.9L476.8 170.9L479.3 171.8L481.7 172.7L484.2 174.5L486.7 175.9L489.1 176L491.6 175.6L494.1 176.1L496.5 176.1L499 176.2L501.5 176.2L503.9 176.3L506.4 175.7L508.9 173.7L511.4 171.3L513.8 170.4L516.3 171.5L518.8 171.4L521.2 171.8L523.7 171.8L526.2 171.5L528.6 171.9L531.1 172L533.6 172.7L536 172.6L538.5 173.5L541 172.6L543.4 171.6L545.9 171.2L548.4 171.3L550.8 171.9L553.3 172.2L555.8 172.6L558.2 172.7L560.7 173.9L563.2 172.9L565.6 174.1L568.1 174.2L570.6 174L573 172.9L575.5 173L578 172.8L580.4 171.8L582.9 172.4L585.4 173.4L587.8 174.2L590.3 173.1L592.8 173.6L595.3 174.2L597.7 174.5L600.2 174.8L602.7 174.8L605.1 175.5L607.6 176.2L610.1 174.3L612.5 174L615 175.4L617.5 174.2L619.9 173.5L622.4 172.4L624.9 173.3L627.3 172.2L629.8 172.4L632.3 172.7L634.7 173.2L637.2 173.8L639.7 174L642.1 175.1L644.6 176.8L647.1 177.4L649.5 176.8L652 178.2L654.5 177.3L656.9 175.9L659.4 177L661.9 177.5L664.3 176.9L666.8 176.1L669.3 175.2L671.7 176.4L674.2 175.7L676.7 175.7L679.1 177.1L681.6 176.3L684.1 177.6L686.6 177.7L689 179.8L691.5 181.2L694 180.1L696.4 177.8L698.9 178.6L701.4 177.2L703.8 176L706.3 177.4L708.8 174.4L711.2 174.5L713.7 173.8L716.2 173.3L718.6 175.3L721.1 175L723.6 173.2L726 174.2L728.5 174.4L731 173.9L733.4 174.4L735.9 174.9L738.4 175.3L740.8 177.4L743.3 176.1L745.8 178.8L748.2 179.8L750.7 179.2L753.2 180.1L755.6 181.4L758.1 182.1L760.6 181.8L763 180.6L765.5 178.1L768 179L770.5 178.5L772.9 176.3L775.4 176.8L777.9 177.4L780.3 176.8L782.8 178.4L785.3 179.3L787.7 179.9L790.2 180.8L792.7 179.8L795.1 178.5L797.6 182.3L800.1 183.5L802.5 182L805 182.2L807.5 180.6L809.9 179.3L812.4 180.3L814.9 179.8L817.3 180.7L819.8 181L822.3 178.4L824.7 175.3L827.2 176.1L829.7 175.1L832.1 175.9L834.6 175.6L837.1 176.6L839.5 177.5L842 176.4L844.5 176.2L846.9 178L849.4 179.2L851.9 178.2L854.3 178.8L856.8 179.3L859.3 180.4L861.8 178L864.2 176.7L866.7 175.7L869.2 176.5L871.6 176.7L874.1 178.2L876.6 178.3L879 178.2L881.5 177.8L884 177.1L886.4 177L888.9 178.2L891.4 180.4L893.8 180.6L896.3 179.7L898.8 178.7L901.2 179.9L903.7 180.5L906.2 179.6L908.6 180.5L911.1 180.6L913.6 180.8L916 180.7L918.5 181.5L921 182.1L923.4 183.2L925.9 182.2L928.4 182.8L930.8 184.3L933.3 183.4L935.8 183.7L938.2 183.1L940.7 181.7L943.2 181.9L945.7 181.8L948.1 182L950.6 181.6L953.1 180.8L955.5 180.1L958 179.3L960.5 179.5L962.9 179.9L965.4 180.3L967.9 179.2L970.3 177.9L972.8 176.9L975.3 176.9L977.7 177L980.2 177.5L982.7 179.1L985.1 179.2L987.6 180.6L990.1 180.7L992.5 179.8L995 180.9L997.5 181.9L999.9 182.7L1002.4 182.6L1004.9 182.1L1007.3 180.5L1009.8 180.9L1012.3 179.4L1014.7 179.2L1017.2 179.8L1019.7 180L1022.1 180.4L1024.6 180.9L1027.1 180.6L1029.5 179.8L1032 181.7L1034.5 180.7L1037 180.6L1039.4 180.4L1041.9 180.3L1044.4 179.9L1046.8 178.5L1049.3 178.9L1051.8 179.4L1054.2 181.9L1056.7 182.9L1059.2 183.9L1061.6 185.4L1064.1 185.8L1066.6 185.3L1069 185.9L1071.5 186.7L1074 186L1076.4 186.3L1078.9 184.9L1081.4 183.2L1083.8 183L1086.3 182.4L1088.8 183.2L1091.2 183.4L1093.7 183.5L1096.2 182.4L1098.6 182.4L1101.1 181.3L1103.6 182.3L1106 183L1108.5 182.4L1111 181.5L1113.4 181.2L1115.9 180.4L1118.4 180.1L1120.9 180.9L1123.3 181.2L1125.8 181.1L1128.3 179.7L1130.7 179.5L1133.2 181.1L1135.7 181.8L1138.1 183L1140.6 185.1L1143.1 185.2L1145.5 186.2L1148 185.3L1150.5 185.1L1152.9 184.7L1155.4 184.4L1157.9 183.5L1160.3 183.9L1162.8 184.3L1165.3 183.9L1167.7 184.4L1170.2 184.8L1172.7 185L1175.1 186.6L1177.6 188.7L1180.1 188L1182.5 186.4L1185 187L1187.5 186.6L1189.9 187.2L1192.4 187.6L1194.9 187.4L1197.3 187.7L1199.8 187L1202.3 185.1L1204.7 185.8L1207.2 186.8L1209.7 186.4L1212.2 185.8L1214.6 187.2L1217.1 185.9L1219.6 186.6L1222 186.3L1224.5 185.9L1227 185.2L1229.4 185.2L1231.9 184.2"/>
<path d="M420.1 167.6L422.5 168.7L425 169.2L427.5 168.8L429.9 167.1L432.4 168.1L434.9 169.1L437.3 168.8L439.8 169.2L442.3 170L444.7 170.4L447.2 170.2L449.7 168.3L452.1 169L454.6 170.4L457.1 169.1L459.5 169.2L462 168.9L464.5 168.4L466.9 169.1L469.4 168.7L471.9 168.6L474.3 168.7L476.8 168.7L479.3 168.8L481.7 170.4L484.2 170.5L486.7 170.3L489.1 170.4L491.6 169.7L494.1 170.5L496.5 171.6L499 172.1L501.5 171.9L503.9 171.3L506.4 170.3L508.9 170.6L511.4 170.9L513.8 171.7L516.3 172L518.8 173.1L521.2 173.6L523.7 174.3L526.2 174.2L528.6 175L531.1 175L533.6 174L536 174.7L538.5 173.7L541 173.4L543.4 172.5L545.9 170.7L548.4 170.9L550.8 171.9L553.3 172L555.8 171.9L558.2 172.8L560.7 173.6L563.2 174.5L565.6 174.9L568.1 172.8L570.6 173L573 172L575.5 172L578 171.7L580.4 172.8L582.9 172.6L585.4 171L587.8 171.1L590.3 171L592.8 172.9L595.3 174.2L597.7 173.3L600.2 172.3L602.7 172.7L605.1 172.5L607.6 172.6L610.1 172.5L612.5 171.7L615 171.1L617.5 171.2L619.9 171.2L622.4 171.1L624.9 170.9L627.3 170.5L629.8 169.9L632.3 169.1L634.7 168.4L637.2 167.9L639.7 167.9L642.1 169.1L644.6 169.4L647.1 170.6L649.5 171.7L652 173L654.5 172.9L656.9 173L659.4 172.5L661.9 172.3L664.3 172.9L666.8 172.2L669.3 172.7L671.7 173.7L674.2 175.2L676.7 174.5L679.1 176.2L681.6 174.6L684.1 175.3L686.6 175.7L689 175.8L691.5 174.7L694 175.7L696.4 175.9L698.9 174.4L701.4 176L703.8 176.5L706.3 176.7L708.8 177.1L711.2 177.1L713.7 176.1L716.2 177.9L718.6 177L721.1 179.1L723.6 180.5L726 180.5L728.5 178.4L731 178L733.4 178.4L735.9 176.2L738.4 177.1L740.8 176.5L743.3 175.1L745.8 172.9L748.2 173L750.7 173.1L753.2 175.4L755.6 176.5L758.1 175.8L760.6 178.2L763 178L765.5 178.9L768 178.9L770.5 179.7L772.9 179L775.4 178.4L777.9 177.7L780.3 178.4L782.8 179.7L785.3 179.1L787.7 180.1L790.2 178.4L792.7 179L795.1 179.6L797.6 180.3L800.1 181.6L802.5 182.6L805 180.8L807.5 177.8L809.9 177.2L812.4 176.9L814.9 177.1L817.3 177L819.8 177.7L822.3 178L824.7 174.6L827.2 174.1L829.7 174.2L832.1 175.3L834.6 176.4L837.1 177.2L839.5 178.7L842 180.9L844.5 179.2L846.9 178.9L849.4 180.2L851.9 179.8L854.3 179.5L856.8 179.9L859.3 179L861.8 180L864.2 178.2L866.7 176.2L869.2 176.6L871.6 175.7L874.1 175L876.6 176.3L879 177.7L881.5 175.2L884 175.8L886.4 175.2L888.9 175.3L891.4 175.3L893.8 175.4L896.3 175.4L898.8 176.7L901.2 177L903.7 175.5L906.2 176.4L908.6 178.2L911.1 179.8L913.6 180.1L916 181.5L918.5 181.5L921 182.5L923.4 182.3L925.9 182.4L928.4 185.4L930.8 186.2L933.3 183.7L935.8 184.7L938.2 183.4L940.7 182L943.2 181.9L945.7 181.3L948.1 182L950.6 181.7L953.1 181L955.5 180.2L958 179.8L960.5 179.3L962.9 178.8L965.4 181.1L967.9 181.5L970.3 182.6L972.8 180.6L975.3 180.8L977.7 179.3L980.2 181.4L982.7 182.5L985.1 181.5L987.6 182.6L990.1 183.1L992.5 182.4L995 181.1L997.5 181.9L999.9 181.8L1002.4 184.7L1004.9 184.2L1007.3 184.4L1009.8 185.8L1012.3 185L1014.7 182.4L1017.2 181.5L1019.7 180.7L1022.1 181.8L1024.6 179.5L1027.1 177.9L1029.5 177.9L1032 178.7L1034.5 178L1037 178.7L1039.4 179.6L1041.9 180.9L1044.4 181.3L1046.8 180.8L1049.3 185.2L1051.8 187.1L1054.2 187.6L1056.7 187.1L1059.2 186.7L1061.6 187.5L1064.1 185.9L1066.6 184.9L1069 185.6L1071.5 185.7L1074 182.8L1076.4 180.8L1078.9 179.8L1081.4 180.4L1083.8 181.1L1086.3 181.1L1088.8 182L1091.2 182.1L1093.7 182.1L1096.2 181.4L1098.6 181.9L1101.1 181.8L1103.6 182.4L1106 181.1L1108.5 180.8L1111 179.1L1113.4 179L1115.9 179L1118.4 179L1120.9 179L1123.3 180.2L1125.8 179.3L1128.3 179.2L1130.7 179.7L1133.2 179.9L1135.7 181.1L1138.1 179.3L1140.6 180.7L1143.1 180.7L1145.5 179.8L1148 179.6L1150.5 182.2L1152.9 183L1155.4 183.7L1157.9 183.9L1160.3 183L1162.8 186.1L1165.3 185L1167.7 183.8L1170.2 183.1L1172.7 183.1L1175.1 184.5L1177.6 183.3L1180.1 182.7L1182.5 182.8L1185 182.4L1187.5 181.9L1189.9 182.1L1192.4 184.1L1194.9 184.5L1197.3 184L1199.8 182.1L1202.3 182L1204.7 182.2L1207.2 182.9L1209.7 183.4L1212.2 182.5L1214.6 183.2L1217.1 182.7L1219.6 183L1222 182.9L1224.5 182.4L1227 182.7L1229.4 183.3L1231.9 180.6"/>
<path d="M420.1 168.3L422.5 168.2L425 169.3L427.5 169.8L429.9 170L432.4 169.1L434.9 169.1L437.3 169.2L439.8 170.3L442.3 169.4L444.7 169.6L447.2 169.1L449.7 169L452.1 168.3L454.6 168.5L457.1 170.2L459.5 170.3L462 168.4L464.5 168.4L466.9 169L469.4 168.8L471.9 169.5L474.3 169.3L476.8 169.5L479.3 168.8L481.7 168.9L484.2 168.9L486.7 169L489.1 169.7L491.6 170.9L494.1 170.4L496.5 171.4L499 170.8L501.5 170.7L503.9 172.1L506.4 172.7L508.9 172.6L511.4 172.3L513.8 171.1L516.3 170.7L518.8 171.3L521.2 170.4L523.7 171.3L526.2 172.1L528.6 173L531.1 173.3L533.6 173.7L536 173.9L538.5 174L541 172.4L543.4 171.3L545.9 171.1L548.4 170.1L550.8 170.1L553.3 170.1L555.8 170.2L558.2 170.2L560.7 170.2L563.2 170.3L565.6 170.3L568.1 170.4L570.6 170.4L573 171L575.5 171.7L578 171.3L580.4 172.6L582.9 172.7L585.4 173L587.8 173.4L590.3 173.7L592.8 173.1L595.3 173.5L597.7 173L600.2 172.6L602.7 172.5L605.1 173L607.6 173.2L610.1 173.1L612.5 172.6L615 173.1L617.5 172.8L619.9 174L622.4 174.5L624.9 174L627.3 175L629.8 174.5L632.3 174L634.7 174.3L637.2 173.8L639.7 174.7L642.1 174.8L644.6 174.1L647.1 174.6L649.5 175.4L652 175.3L654.5 176.1L656.9 175.7L659.4 176.2L661.9 176.2L664.3 174.8L666.8 174.6L669.3 175L671.7 176L674.2 175.9L676.7 175.6L679.1 174.8L681.6 175.4L684.1 174.2L686.6 175L689 176.7L691.5 176.5L694 176.6L696.4 174.9L698.9 173.7L701.4 174.2L703.8 174.5L706.3 173L708.8 173.2L711.2 172.5L713.7 172.5L716.2 172.6L718.6 172.6L721.1 172.6L723.6 172.7L726 172.7L728.5 172.7L731 172.8L733.4 172.8L735.9 173.4L738.4 172.9L740.8 172.9L743.3 172.9L745.8 172.9L748.2 173.2L750.7 173.6L753.2 173L755.6 173.1L758.1 173.1L760.6 173.1L763 173.2L765.5 173.2L768 173.3L770.5 173.7L772.9 173.3L775.4 173.4L777.9 174.5L780.3 175.2L782.8 176.7L785.3 177.7L787.7 179.5L790.2 179.4L792.7 179L795.1 177L797.6 178L800.1 178.7L802.5 177.8L805 177.6L807.5 177.6L809.9 175.7L812.4 174.8L814.9 174.2L817.3 175.3L819.8 175.3L822.3 175.5L824.7 175.2L827.2 176.2L829.7 176.3L832.1 176.1L834.6 177.1L837.1 176.9L839.5 176.8L842 177.6L844.5 180.7L846.9 179.4L849.4 180L851.9 178L854.3 177.6L856.8 178.3L859.3 177.6L861.8 178.3L864.2 178.4L866.7 178L869.2 175.7L871.6 175.6L874.1 175.6L876.6 175.4L879 175.9L881.5 175.2L884 177L886.4 178.4L888.9 176.7L891.4 175.3L893.8 175.4L896.3 176.8L898.8 176.3L901.2 177.4L903.7 176.9L906.2 176.9L908.6 176.4L911.1 175.7L913.6 177.7L916 179.1L918.5 179.8L921 179.1L923.4 179.5L925.9 180.2L928.4 180.3L930.8 179.9L933.3 179L935.8 178.6L938.2 178.9L940.7 179L943.2 178.7L945.7 178.8L948.1 178.9L950.6 179.4L953.1 178.4L955.5 179.5L958 180.3L960.5 180.1L962.9 178.3L965.4 177.7L967.9 177.6L970.3 176.8L972.8 176.9L975.3 176.9L977.7 177.7L980.2 177.9L982.7 177.1L985.1 177.7L987.6 178.5L990.1 178.4L992.5 179.2L995 180.4L997.5 180.9L999.9 181.5L1002.4 182.5L1004.9 182L1007.3 183.1L1009.8 183.9L1012.3 184.5L1014.7 183.8L1017.2 183.2L1019.7 180.6L1022.1 179.3L1024.6 178.5L1027.1 177.1L1029.5 177.9L1032 178.7L1034.5 180.4L1037 181.6L1039.4 184.1L1041.9 184.3L1044.4 184.4L1046.8 182.5L1049.3 180.3L1051.8 179.6L1054.2 178.9L1056.7 178.6L1059.2 178.3L1061.6 178.3L1064.1 178.3L1066.6 178.4L1069 178.4L1071.5 178.4L1074 178.5L1076.4 178.5L1078.9 178.5L1081.4 178.6L1083.8 178.6L1086.3 178.6L1088.8 178.7L1091.2 179.6L1093.7 179.6L1096.2 179.5L1098.6 180.6L1101.1 181.5L1103.6 181.1L1106 181.9L1108.5 183.2L1111 182.6L1113.4 181.8L1115.9 181L1118.4 182.6L1120.9 183.2L1123.3 181L1125.8 179.8L1128.3 179.1L1130.7 179.3L1133.2 179.2L1135.7 180.3L1138.1 179.6L1140.6 179.3L1143.1 179.3L1145.5 180.6L1148 181.7L1150.5 182.2L1152.9 183.2L1155.4 182.2L1157.9 181L1160.3 179.7L1162.8 182.3L1165.3 182.9L1167.7 182.3L1170.2 181.7L1172.7 181.8L1175.1 182L1177.6 182.6L1180.1 183L1182.5 185L1185 184.9L1187.5 183.9L1189.9 183.5L1192.4 182.8L1194.9 181.8L1197.3 182.1L1199.8 182L1202.3 181.7L1204.7 181.6L1207.2 182.3L1209.7 180.9L1212.2 181.2L1214.6 181.4L1217.1 181.6L1219.6 182.5L1222 182.1L1224.5 182.5L1227 182.4L1229.4 183.5L1231.9 182.9"/>
<path d="M420.1 171.9L422.5 171.5L425 171.5L427.5 170L429.9 170L432.4 170.9L434.9 171.9L437.3 172.3L439.8 172L442.3 172.2L444.7 171.8L447.2 171.5L449.7 171.7L452.1 172.5L454.6 174L457.1 172.9L459.5 172.1L462 171.8L464.5 171.4L466.9 170.9L469.4 170.5L471.9 171.5L474.3 170.9L476.8 172L479.3 171.6L481.7 173.1L484.2 173.8L486.7 174L489.1 175L491.6 176L494.1 176.1L496.5 175.9L499 175.9L501.5 176L503.9 175.9L506.4 175L508.9 174.9L511.4 175.9L513.8 175.6L516.3 175.4L518.8 176.1L521.2 175.7L523.7 176.1L526.2 175.1L528.6 174.9L531.1 174.1L533.6 174.2L536 173.3L538.5 172.2L541 171.9L543.4 170.8L545.9 172.1L548.4 171.8L550.8 172.3L553.3 173.7L555.8 174.9L558.2 175.4L560.7 175.5L563.2 176.8L565.6 177.5L568.1 177.9L570.6 177.7L573 177.6L575.5 177.2L578 176.9L580.4 178.2L582.9 178.3L585.4 178.4L587.8 178.4L590.3 177.6L592.8 177.6L595.3 176.8L597.7 176.5L600.2 176.2L602.7 176.2L605.1 174.9L607.6 174.9L610.1 175L612.5 174.4L615 174.4L617.5 174.1L619.9 174L622.4 174.7L624.9 176.3L627.3 175.1L629.8 175L632.3 174.8L634.7 173.7L637.2 173.7L639.7 174.1L642.1 173.9L644.6 174.4L647.1 173.9L649.5 173.5L652 173.2L654.5 174L656.9 173.9L659.4 174.2L661.9 175.2L664.3 174.6L666.8 175L669.3 175.2L671.7 175.6L674.2 175.9L676.7 176.8L679.1 176.2L681.6 176L684.1 177.2L686.6 176.8L689 178L691.5 177.9L694 177L696.4 176.9L698.9 176.7L701.4 177.1L703.8 177.5L706.3 177.8L708.8 179.1L711.2 180L713.7 180.4L716.2 181L718.6 181.2L721.1 181.3L723.6 181.8L726 182.5L728.5 182.9L731 182.7L733.4 181.9L735.9 182.9L738.4 183L740.8 183.1L743.3 183.1L745.8 183.2L748.2 182.8L750.7 182.8L753.2 183.4L755.6 183.5L758.1 183.6L760.6 183.6L763 183.7L765.5 183.8L768 183.8L770.5 183.9L772.9 184L775.4 182.8L777.9 182L780.3 180.8L782.8 179.5L785.3 178.9L787.7 179.1L790.2 178.1L792.7 178.6L795.1 178.1L797.6 177.5L800.1 178.8L802.5 180L805 180.6L807.5 181.1L809.9 179.5L812.4 181.1L814.9 183.3L817.3 182.3L819.8 183.4L822.3 183.6L824.7 184.1L827.2 182.1L829.7 182.5L832.1 182.5L834.6 183L837.1 183.1L839.5 181.4L842 182.7L844.5 182.6L846.9 181L849.4 180.3L851.9 181.7L854.3 183L856.8 182.9L859.3 181.5L861.8 180.4L864.2 181.7L866.7 180.6L869.2 179.6L871.6 181.4L874.1 180.2L876.6 178.5L879 177.5L881.5 179L884 180.2L886.4 179.4L888.9 179.5L891.4 178.4L893.8 179.4L896.3 179.6L898.8 180.2L901.2 180.7L903.7 180.4L906.2 178.9L908.6 178.1L911.1 179.6L913.6 179.3L916 182L918.5 182.6L921 181.8L923.4 182.7L925.9 183.3L928.4 184.1L930.8 183.7L933.3 184.2L935.8 183.2L938.2 182.6L940.7 181.6L943.2 181.5L945.7 182.8L948.1 182.6L950.6 182.9L953.1 184L955.5 183.1L958 184.9L960.5 185.2L962.9 185.6L965.4 185.9L967.9 183.8L970.3 182.7L972.8 183L975.3 181.3L977.7 180.6L980.2 182.8L982.7 182.2L985.1 182.9L987.6 183.3L990.1 183L992.5 185.8L995 185.6L997.5 183.6L999.9 185.3L1002.4 184.8L1004.9 183.4L1007.3 182L1009.8 182L1012.3 182.7L1014.7 183.7L1017.2 182L1019.7 181.6L1022.1 184.6L1024.6 185.5L1027.1 186.3L1029.5 187.3L1032 187.3L1034.5 187.4L1037 185.9L1039.4 184.7L1041.9 185.4L1044.4 185.2L1046.8 184.4L1049.3 184L1051.8 183.2L1054.2 181.6L1056.7 182.9L1059.2 182.5L1061.6 183.3L1064.1 184.1L1066.6 184.1L1069 185.1L1071.5 184.5L1074 183.1L1076.4 183.7L1078.9 183.6L1081.4 182.1L1083.8 182.1L1086.3 183.9L1088.8 184.8L1091.2 184.5L1093.7 184.8L1096.2 185.3L1098.6 186.3L1101.1 186.7L1103.6 187.6L1106 188.1L1108.5 188.1L1111 188.1L1113.4 187.7L1115.9 187.4L1118.4 188.2L1120.9 186.5L1123.3 186.9L1125.8 185.7L1128.3 184.9L1130.7 184.5L1133.2 183.6L1135.7 184L1138.1 184.4L1140.6 185L1143.1 182.8L1145.5 184.8L1148 185L1150.5 185.8L1152.9 186.2L1155.4 186.1L1157.9 185.8L1160.3 185.4L1162.8 184L1165.3 185.5L1167.7 184.9L1170.2 184.5L1172.7 182.9L1175.1 182.8L1177.6 183.1L1180.1 183.3L1182.5 183L1185 182.4L1187.5 182.4L1189.9 179.9L1192.4 181.5L1194.9 181.3L1197.3 182.1L1199.8 181.1L1202.3 181L1204.7 180.4L1207.2 180.4L1209.7 182.7L1212.2 181.7L1214.6 182.8L1217.1 182.7L1219.6 184.3L1222 184.2L1224.5 186.5L1227 186.5L1229.4 187.3L1231.9 187.2"/>
<path d="M420.1 176.1L422.5 176L425 175.9L427.5 174.9L429.9 172.8L432.4 173L434.9 172.9L437.3 172.5L439.8 171.6L442.3 169.9L444.7 171.2L447.2 170.7L449.7 170.9L452.1 171.3L454.6 171.9L457.1 171.3L459.5 171.2L462 170.9L464.5 171.5L466.9 172.2L469.4 172.5L471.9 172.9L474.3 172.8L476.8 172.6L479.3 172.8L481.7 173.8L484.2 174.3L486.7 174.1L489.1 174.1L491.6 174.1L494.1 173.3L496.5 173.9L499 174.2L501.5 175L503.9 175L506.4 175.4L508.9 174.7L511.4 174.5L513.8 175.4L516.3 175.1L518.8 175.2L521.2 173.3L523.7 173.6L526.2 174.2L528.6 174.2L531.1 172.5L533.6 173L536 173.9L538.5 172.2L541 173.5L543.4 175.1L545.9 176L548.4 175.3L550.8 175.7L553.3 175.4L555.8 176.6L558.2 176.6L560.7 177.3L563.2 177.8L565.6 177.9L568.1 176.7L570.6 177.5L573 177L575.5 175.8L578 177.1L580.4 177L582.9 176.3L585.4 175.7L587.8 174.8L590.3 174.4L592.8 174L595.3 174.5L597.7 175.1L600.2 176.4L602.7 174.7L605.1 175.9L607.6 178.1L610.1 178L612.5 178.9L615 178.9L617.5 179.1L619.9 178.6L622.4 179.3L624.9 178.8L627.3 179.4L629.8 178.3L632.3 175.7L634.7 176.6L637.2 176.5L639.7 176.3L642.1 176.9L644.6 177.7L647.1 177.6L649.5 177.1L652 177.5L654.5 177.5L656.9 179.4L659.4 178.7L661.9 179.2L664.3 180.3L666.8 180L669.3 179.2L671.7 177.9L674.2 179.8L676.7 179.3L679.1 178.7L681.6 177.3L684.1 177.9L686.6 178L689 177.8L691.5 177.7L694 177.7L696.4 178.6L698.9 177L701.4 178.2L703.8 180.3L706.3 181.9L708.8 182L711.2 182.1L713.7 182.2L716.2 180.6L718.6 180.4L721.1 180.8L723.6 180.2L726 180L728.5 179L731 177.3L733.4 175.7L735.9 175.4L738.4 175.9L740.8 178.9L743.3 179.5L745.8 180.1L748.2 180.7L750.7 180.3L753.2 180.2L755.6 182.3L758.1 182.3L760.6 183.3L763 183.6L765.5 183.4L768 183L770.5 182.1L772.9 181.2L775.4 180.4L777.9 179.6L780.3 179.2L782.8 179.9L785.3 180.9L787.7 182L790.2 183L792.7 183.8L795.1 184.2L797.6 184.5L800.1 184.6L802.5 184.7L805 184.8L807.5 184.8L809.9 184.9L812.4 184.9L814.9 185L817.3 182.4L819.8 182.2L822.3 182.4L824.7 182.4L827.2 182.1L829.7 183.2L832.1 183L834.6 182.3L837.1 183.1L839.5 182.3L842 182.1L844.5 182.1L846.9 180.4L849.4 182.2L851.9 180.7L854.3 180.4L856.8 180L859.3 182.4L861.8 180.2L864.2 182L866.7 183L869.2 181.7L871.6 182.6L874.1 181L876.6 181.6L879 182.8L881.5 182.6L884 181.1L886.4 182.3L888.9 183.1L891.4 182L893.8 182.7L896.3 181L898.8 180.9L901.2 179.9L903.7 178.5L906.2 178.5L908.6 179.3L911.1 179.8L913.6 178.3L916 180L918.5 181.2L921 183.5L923.4 181.8L925.9 183.2L928.4 183.1L930.8 183.5L933.3 182.9L935.8 183.2L938.2 184.1L940.7 182.5L943.2 181.4L945.7 180.7L948.1 183L950.6 182.9L953.1 184.2L955.5 184.8L958 184.1L960.5 185.2L962.9 185L965.4 185.5L967.9 184.8L970.3 185.4L972.8 184.1L975.3 184.2L977.7 184.5L980.2 185.8L982.7 186.9L985.1 186.8L987.6 186.6L990.1 187L992.5 187L995 187L997.5 187L999.9 187.1L1002.4 187.1L1004.9 186.7L1007.3 185.2L1009.8 186.3L1012.3 186.8L1014.7 186.6L1017.2 186.4L1019.7 186.7L1022.1 186.7L1024.6 187.2L1027.1 189.7L1029.5 189.4L1032 191.1L1034.5 190.4L1037 188L1039.4 187L1041.9 185L1044.4 182.8L1046.8 182.2L1049.3 183.4L1051.8 181.6L1054.2 182.9L1056.7 182.5L1059.2 181.8L1061.6 184L1064.1 182.7L1066.6 184.1L1069 184.7L1071.5 185.8L1074 184.8L1076.4 186.5L1078.9 187.1L1081.4 186.6L1083.8 187.6L1086.3 187L1088.8 186.9L1091.2 186.6L1093.7 187.9L1096.2 187.8L1098.6 187.5L1101.1 186.1L1103.6 184.9L1106 184.4L1108.5 184.4L1111 184.2L1113.4 186.1L1115.9 185.1L1118.4 183.5L1120.9 183L1123.3 183.3L1125.8 184.1L1128.3 185.3L1130.7 185.6L1133.2 186.4L1135.7 186.2L1138.1 184.8L1140.6 184.3L1143.1 184.7L1145.5 185.1L1148 184.7L1150.5 184.8L1152.9 184.4L1155.4 185.6L1157.9 185.5L1160.3 186.6L1162.8 187.2L1165.3 188.6L1167.7 188.7L1170.2 188.7L1172.7 188.7L1175.1 188.7L1177.6 188.7L1180.1 188.3L1182.5 187L1185 186.9L1187.5 187L1189.9 187.5L1192.4 187.2L1194.9 186.7L1197.3 188L1199.8 186.9L1202.3 186.4L1204.7 187.4L1207.2 187.3L1209.7 188L1212.2 188.5L1214.6 187.5L1217.1 187L1219.6 187.5L1222 187.4L1224.5 187L1227 187.8L1229.4 187.3L1231.9 187.5"/>
<path d="M420.1 166.5L422.5 166.7L425 166.8L427.5 167L429.9 167.1L432.4 167.3L434.9 167.4L437.3 167.5L439.8 167.8L442.3 168.2L444.7 168.4L447.2 168.9L449.7 170.5L452.1 171.5L454.6 171.5L457.1 171.2L459.5 170L462 171L464.5 170.8L466.9 170.3L469.4 169.4L471.9 168.7L474.3 168.7L476.8 168.7L479.3 169.2L481.7 169.8L484.2 170.7L486.7 170.9L489.1 171.7L491.6 171L494.1 171.5L496.5 173L499 173.8L501.5 174.2L503.9 173.5L506.4 172.6L508.9 172.9L511.4 172.3L513.8 171.9L516.3 172.2L518.8 171.7L521.2 170.5L523.7 169.7L526.2 169.7L528.6 169.8L531.1 170.5L533.6 169.9L536 170.3L538.5 170.4L541 171.1L543.4 171.9L545.9 172.7L548.4 173.4L550.8 172.9L553.3 172.8L555.8 171.5L558.2 172.3L560.7 173.1L563.2 172.9L565.6 172.4L568.1 172.7L570.6 171.9L573 171.1L575.5 171.2L578 171.2L580.4 172L582.9 172.3L585.4 171.6L587.8 171.6L590.3 171.2L592.8 171.6L595.3 172.5L597.7 173.7L600.2 173.8L602.7 175.2L605.1 175.9L607.6 173.8L610.1 173.5L612.5 174.5L615 175.4L617.5 174.2L619.9 173.4L622.4 173L624.9 174.1L627.3 172.1L629.8 171.5L632.3 172.3L634.7 172.5L637.2 172L639.7 171.5L642.1 172L644.6 172.1L647.1 172.4L649.5 172.1L652 172.8L654.5 173.3L656.9 173.7L659.4 173.1L661.9 171.8L664.3 171.9L666.8 171.9L669.3 171.9L671.7 172L674.2 172L676.7 172L679.1 172.1L681.6 172.1L684.1 172.1L686.6 172.2L689 172.2L691.5 172.2L694 173.3L696.4 174.3L698.9 175.7L701.4 174.9L703.8 177.5L706.3 177.9L708.8 179.3L711.2 179.2L713.7 179.8L716.2 180.2L718.6 180L721.1 179.2L723.6 179.3L726 178.8L728.5 177.6L731 176.3L733.4 176.5L735.9 176.2L738.4 176.3L740.8 175.4L743.3 175L745.8 175.4L748.2 175.8L750.7 176.6L753.2 175.8L755.6 174.1L758.1 173.4L760.6 173.1L763 173.2L765.5 173.2L768 173.3L770.5 173.3L772.9 173.3L775.4 173.4L777.9 173.4L780.3 173.4L782.8 173.5L785.3 173.5L787.7 173.5L790.2 174.8L792.7 175.5L795.1 177L797.6 177.2L800.1 180.6L802.5 181.1L805 179.2L807.5 179.2L809.9 179.6L812.4 177.9L814.9 177.6L817.3 176.3L819.8 175.4L822.3 174.1L824.7 174.1L827.2 174.1L829.7 174.2L832.1 174.2L834.6 174.5L837.1 174.3L839.5 174.3L842 174.4L844.5 174.4L846.9 175.2L849.4 174.7L851.9 175.2L854.3 174.8L856.8 175.1L859.3 174.7L861.8 174.7L864.2 174.8L866.7 174.8L869.2 175.1L871.6 174.9L874.1 175L876.6 175.3L879 175.1L881.5 175.1L884 175.3L886.4 175.2L888.9 175.3L891.4 176.4L893.8 175.6L896.3 175.8L898.8 176L901.2 176.7L903.7 177.7L906.2 177.4L908.6 178.7L911.1 179.2L913.6 180.9L916 180.9L918.5 182.3L921 183L923.4 183.2L925.9 181.8L928.4 180.5L930.8 180L933.3 180.4L935.8 181L938.2 180.9L940.7 180.7L943.2 180L945.7 179.9L948.1 180.2L950.6 181.3L953.1 180.7L955.5 180.8L958 178.5L960.5 178.2L962.9 176.7L965.4 176.8L967.9 176.8L970.3 176.8L972.8 176.9L975.3 176.9L977.7 177L980.2 177L982.7 177.4L985.1 177.3L987.6 177.4L990.1 177.4L992.5 178.3L995 178.3L997.5 180L999.9 180.4L1002.4 180.4L1004.9 179L1007.3 178.6L1009.8 178.6L1012.3 178.6L1014.7 177.6L1017.2 177.7L1019.7 177.7L1022.1 177.7L1024.6 177.8L1027.1 177.8L1029.5 178.6L1032 177.9L1034.5 178L1037 178.7L1039.4 180.2L1041.9 180.7L1044.4 181.2L1046.8 181.1L1049.3 180.1L1051.8 178.9L1054.2 179.5L1056.7 180.3L1059.2 179.6L1061.6 180.1L1064.1 180.1L1066.6 179.2L1069 177.9L1071.5 176.6L1074 176.3L1076.4 175.9L1078.9 174.4L1081.4 174.8L1083.8 175.6L1086.3 176.6L1088.8 177.4L1091.2 178.1L1093.7 178.5L1096.2 179.2L1098.6 178.8L1101.1 178.9L1103.6 178.8L1106 178.9L1108.5 178.9L1111 179.4L1113.4 179L1115.9 179L1118.4 179L1120.9 179L1123.3 179.1L1125.8 179.1L1128.3 179.1L1130.7 179.2L1133.2 180.2L1135.7 180.1L1138.1 179.9L1140.6 179.9L1143.1 180L1145.5 181.4L1148 181L1150.5 180.8L1152.9 181.1L1155.4 181.7L1157.9 180L1160.3 179.5L1162.8 179.5L1165.3 179.5L1167.7 179.4L1170.2 179.2L1172.7 178.8L1175.1 178.2L1177.6 177.9L1180.1 176.9L1182.5 176.5L1185 177.7L1187.5 178.2L1189.9 178.7L1192.4 181L1194.9 181.4L1197.3 181.7L1199.8 182.5L1202.3 182L1204.7 181.8L1207.2 182.7L1209.7 181.3L1212.2 181.1L1214.6 181.5L1217.1 180L1219.6 180.1L1222 180.1L1224.5 180.3L1227 180.4L1229.4 181.4L1231.9 180.7"/>
<path d="M420.1 169.8L422.5 168.7L425 167.8L427.5 168L429.9 167.6L432.4 167.3L434.9 167.4L437.3 167.5L439.8 167.6L442.3 167.7L444.7 167.8L447.2 167.9L449.7 168L452.1 168L454.6 168.5L457.1 169L459.5 170.6L462 170.7L464.5 170.6L466.9 171.4L469.4 170.6L471.9 170.2L474.3 170.5L476.8 170.7L479.3 169.5L481.7 169.3L484.2 168.9L486.7 169L489.1 169L491.6 169.1L494.1 169.1L496.5 169.2L499 169.2L501.5 169.3L503.9 169.3L506.4 169.4L508.9 169.9L511.4 170.3L513.8 171.2L516.3 171.7L518.8 171.7L521.2 172.6L523.7 172.8L526.2 172.5L528.6 171.8L531.1 171.9L533.6 171.7L536 172.8L538.5 171.5L541 172L543.4 172L545.9 171.3L548.4 172.3L550.8 174L553.3 173.3L555.8 173.4L558.2 174.2L560.7 173L563.2 173.1L565.6 174.1L568.1 173.8L570.6 173.6L573 172.1L575.5 170.6L578 171.3L580.4 172.1L582.9 171.1L585.4 171.2L587.8 172.1L590.3 172.2L592.8 171.5L595.3 172.7L597.7 174.1L600.2 174.3L602.7 173.7L605.1 172.3L607.6 172.8L610.1 172.5L612.5 171.5L615 171.1L617.5 172.8L619.9 173.5L622.4 172.9L624.9 173.2L627.3 174.8L629.8 176L632.3 175.1L634.7 174.9L637.2 175.6L639.7 174.3L642.1 174.1L644.6 173.6L647.1 174.5L649.5 173.6L652 173L654.5 173.9L656.9 175L659.4 174.4L661.9 173.8L664.3 175L666.8 174L669.3 175L671.7 174.7L674.2 176.1L676.7 176.6L679.1 175.9L681.6 175L684.1 175.6L686.6 175.5L689 173.8L691.5 174.8L694 173.8L696.4 172.9L698.9 172.6L701.4 172.4L703.8 172.4L706.3 172.8L708.8 173.2L711.2 173.1L713.7 175.7L716.2 177L718.6 177L721.1 178.2L723.6 177.5L726 177.7L728.5 177.8L731 176.4L733.4 176.2L735.9 177.4L738.4 177.5L740.8 177.7L743.3 179.4L745.8 179.3L748.2 179.5L750.7 179.7L753.2 180.4L755.6 182.5L758.1 183.6L760.6 183.6L763 183.7L765.5 183.8L768 182L770.5 182.1L772.9 181.9L775.4 181.2L777.9 180.3L780.3 178.2L782.8 177.6L785.3 177.1L787.7 178L790.2 177.1L792.7 177.2L795.1 176.7L797.6 177.2L800.1 177.1L802.5 178.1L805 178.2L807.5 179.1L809.9 178.3L812.4 177.6L814.9 177.6L817.3 178.8L819.8 178L822.3 178.3L824.7 180.2L827.2 181L829.7 181.1L832.1 180.4L834.6 179.6L837.1 178.9L839.5 178.5L842 177.6L844.5 179L846.9 179.1L849.4 178.2L851.9 176.7L854.3 178.6L856.8 178L859.3 179.1L861.8 179.8L864.2 181.3L866.7 183.2L869.2 183.3L871.6 183.2L874.1 182.6L876.6 182.9L879 180.4L881.5 179.8L884 179.4L886.4 180.3L888.9 178.1L891.4 176.2L893.8 175.4L896.3 175.4L898.8 175.5L901.2 175.5L903.7 175.9L906.2 178.1L908.6 178L911.1 177.1L913.6 177.9L916 178.9L918.5 177.3L921 177.6L923.4 179.1L925.9 180.6L928.4 179.7L930.8 178.6L933.3 179.5L935.8 179.9L938.2 180.1L940.7 179.7L943.2 181.8L945.7 182.2L948.1 181.3L950.6 181.9L953.1 181.6L955.5 181.9L958 181.8L960.5 183.4L962.9 183.4L965.4 184.4L967.9 183.4L970.3 182.7L972.8 182.4L975.3 182.9L977.7 184.5L980.2 183.9L982.7 184.8L985.1 182.7L987.6 182.7L990.1 181.8L992.5 182.6L995 182.7L997.5 182.5L999.9 181.8L1002.4 180.8L1004.9 179.8L1007.3 178.8L1009.8 179.5L1012.3 179.3L1014.7 179.1L1017.2 178.4L1019.7 177.7L1022.1 178.5L1024.6 177.1L1027.1 177.2L1029.5 178.2L1032 179.6L1034.5 180.4L1037 182.9L1039.4 185.1L1041.9 186L1044.4 186.5L1046.8 184.6L1049.3 183.8L1051.8 184.2L1054.2 183.5L1056.7 182.2L1059.2 183L1061.6 183L1064.1 181.9L1066.6 183L1069 182.4L1071.5 182.4L1074 182.9L1076.4 182.8L1078.9 183.3L1081.4 184.3L1083.8 185L1086.3 184.7L1088.8 184.7L1091.2 184.1L1093.7 184.4L1096.2 185.1L1098.6 184.5L1101.1 183.3L1103.6 183.4L1106 184.3L1108.5 184L1111 183.9L1113.4 184.4L1115.9 183.6L1118.4 182.7L1120.9 181.9L1123.3 182L1125.8 182.3L1128.3 182L1130.7 181.4L1133.2 181.4L1135.7 181.6L1138.1 181.7L1140.6 182.5L1143.1 182L1145.5 182.1L1148 182.4L1150.5 181.7L1152.9 182.3L1155.4 181.4L1157.9 180.7L1160.3 179.5L1162.8 179.5L1165.3 179.5L1167.7 180.3L1170.2 180.5L1172.7 179.8L1175.1 180.9L1177.6 181.1L1180.1 181.6L1182.5 181.5L1185 184.1L1187.5 184.4L1189.9 183.7L1192.4 183.1L1194.9 182.6L1197.3 183.7L1199.8 183.2L1202.3 182.6L1204.7 182.6L1207.2 183.3L1209.7 182.6L1212.2 181L1214.6 182L1217.1 182.9L1219.6 183.9L1222 183.7L1224.5 183.5L1227 183.8L1229.4 184.3L1231.9 183.4"/>
</g>
<g font-size="33.3" stroke="#000" stroke-width="0.45">
<text transform="translate(131 447.8) scale(1 1.055)" text-anchor="middle">0</text>
<text transform="translate(222.45 447.96) scale(1 1.055)" text-anchor="middle">5</text>
<text transform="translate(313.9 448.11) scale(1 1.055)" text-anchor="middle">10</text>
<text transform="translate(405.35 448.27) scale(1 1.055)" text-anchor="middle">15</text>
<text transform="translate(496.8 448.42) scale(1 1.055)" text-anchor="middle">20</text>
<text transform="translate(588.25 448.58) scale(1 1.055)" text-anchor="middle">25</text>
<text transform="translate(679.7 448.73) scale(1 1.055)" text-anchor="middle">30</text>
<text transform="translate(771.15 448.89) scale(1 1.055)" text-anchor="middle">35</text>
<text transform="translate(862.6 449.04) scale(1 1.055)" text-anchor="middle">40</text>
<text transform="translate(954.05 449.2) scale(1 1.055)" text-anchor="middle">45</text>
<text transform="translate(1045.5 449.35) scale(1 1.055)" text-anchor="middle">50</text>
<text transform="translate(1136.95 449.51) scale(1 1.055)" text-anchor="middle">55</text>
<text transform="translate(1228.4 449.67) scale(1 1.055)" text-anchor="middle">60</text>
<text transform="translate(680.2 488.3) scale(1.018 1.06)" text-anchor="middle">time (min)</text>
<text transform="translate(120.4 422.4) scale(1 1.055)" text-anchor="end">0</text>
<text transform="translate(120.4 333.52) scale(1 1.055)" text-anchor="end">0.2</text>
<text transform="translate(120.4 244.64) scale(1 1.055)" text-anchor="end">0.4</text>
<text transform="translate(120.4 155.76) scale(1 1.055)" text-anchor="end">0.6</text>
<text transform="translate(120.4 66.88) scale(1 1.055)" text-anchor="end">0.8</text>
<text transform="translate(36.0 229.4) rotate(-90) scale(1 1.06)" text-anchor="middle">V<tspan font-size="26.7" dy="15.5">R</tspan><tspan dy="-15.5">(m</tspan><tspan font-size="26.7" dy="-15.3">3</tspan><tspan dy="15.3">[air]/s)</tspan></text>
</g>
<g stroke="#333" stroke-width="1.7" stroke-dasharray="1.7 13.486" fill="none">
<path d="M222.1 895.4V558.6"/>
<path d="M313.8 895.4V558.6"/>
<path d="M405.4 895.4V558.6"/>
<path d="M497 895.4V558.6"/>
<path d="M588.7 895.4V558.6"/>
<path d="M680.3 895.4V558.6"/>
<path d="M771.9 895.4V558.6"/>
<path d="M863.5 895.4V558.6"/>
<path d="M955.2 895.4V558.6"/>
<path d="M1046.8 895.4V558.6"/>
<path d="M1138.4 895.4V558.6"/>
</g>
<g stroke="#111" stroke-width="1.2" stroke-dasharray="2.1 13.086" fill="none">
<path d="M145.53 831.6H1225.1"/>
<path d="M145.53 752.8H1225.1"/>
<path d="M145.53 673.9H1225.1"/>
<path d="M145.53 595.1H1225.1"/>
</g>
<g stroke="#000" fill="none" stroke-width="1.8" stroke-linejoin="miter">
<path d="M130.5 555.63H1230.06V910.5H130.5Z"/>
<path d="M131 558.11H1227.2V912.8H131Z"/>
<path d="M131 912.8V900.8"/>
<path d="M131 558.11V566.61"/>
<path d="M222.45 912.8V900.8"/>
<path d="M222.45 558.11V566.61"/>
<path d="M313.9 912.8V900.8"/>
<path d="M313.9 558.11V566.61"/>
<path d="M405.35 912.8V900.8"/>
<path d="M405.35 558.11V566.61"/>
<path d="M496.8 912.8V900.8"/>
<path d="M496.8 558.11V566.61"/>
<path d="M588.25 912.8V900.8"/>
<path d="M588.25 558.11V566.61"/>
<path d="M679.7 912.8V900.8"/>
<path d="M679.7 558.11V566.61"/>
<path d="M771.15 912.8V900.8"/>
<path d="M771.15 558.11V566.61"/>
<path d="M862.6 912.8V900.8"/>
<path d="M862.6 558.11V566.61"/>
<path d="M954.05 912.8V900.8"/>
<path d="M954.05 558.11V566.61"/>
<path d="M1045.5 912.8V900.8"/>
<path d="M1045.5 558.11V566.61"/>
<path d="M1136.95 912.8V900.8"/>
<path d="M1136.95 558.11V566.61"/>
<path d="M1228.6 912.8V900.8"/>
<path d="M1228.6 558.11V566.61"/>
<path d="M131 911.8H141"/>
<path d="M1227.2 911.8H1216.4"/>
<path d="M131 833.98H141"/>
<path d="M1227.2 833.98H1216.4"/>
<path d="M131 755.16H141"/>
<path d="M1227.2 755.16H1216.4"/>
<path d="M131 676.34H141"/>
<path d="M1227.2 676.34H1216.4"/>
<path d="M131 597.52H141"/>
<path d="M1227.2 597.52H1216.4"/>
</g>
<path fill="#00f" stroke="#00f" stroke-width="1.6" stroke-linejoin="round" clip-path="url(#c2)" d="M214.8 895.8L217 897.4L219.2 899L221.4 900.2L223.7 901.3L225.9 902.5L228.1 903L230.3 903.6L232.5 904.5L234.7 905L237 905.4L239.2 905.9L241.4 906.3L243.6 906.4L245.8 906.6L248 906.8L250.3 906.9L252.5 906.6L254.7 906L256.9 905.4L259.1 904.6L261.3 903.9L263.5 903.3L265.8 903.5L268 903.5L270.2 904.4L272.4 904.8L274.6 905.4L276.8 905.3L279.1 905.4L281.3 905.2L283.5 905.5L285.7 905.9L287.9 906.7L290.1 907.3L292.4 908.4L294.6 909.2L296.8 907.9L299 908L301.2 908.1L303.4 908.2L305.7 907.9L307.9 908.4L310.1 908.2L312.3 908.2L314.5 908.1L316.7 907.9L318.9 907.7L321.2 907.8L323.4 908L325.6 908.5L327.8 908.5L330 908.1L332.2 907.8L334.5 908.2L336.7 908.3L338.9 908.5L341.1 908L343.3 908.4L345.5 908.4L347.8 907.8L350 908.4L352.2 908.3L354.4 908.3L356.6 908.1L358.8 908.2L361 908L363.3 908L365.5 907.7L367.7 907.8L369.9 908.4L372.1 908.2L374.3 908L376.6 907.9L378.8 908.1L381 908.3L383.2 908.2L385.4 908L387.6 908.4L389.9 908.4L392.1 908.4L394.3 908.3L396.5 908.4L398.7 908.4L400.9 908.4L403.2 908.1L405.4 908.2L407.6 908.2L409.8 908.3L412 908.4L414.2 908.1L416.4 908.2L418.7 908.3L420.9 907.9L423.1 908.2L425.3 908.2L427.5 908L429.7 908.3L432 908.3L434.2 908.1L436.4 908.4L438.6 908.3L440.8 908.2L443 907.9L445.3 908L447.5 907.4L449.7 907.8L451.9 908.1L454.1 907.8L456.3 907.6L458.5 908.1L460.8 908.1L463 908.3L465.2 908.3L467.4 908.2L469.6 907.5L471.8 907.7L474.1 907.8L476.3 907.8L478.5 908.3L480.7 908.2L482.9 908.3L485.1 908L487.4 907.5L489.6 907.4L491.8 907.7L494 908.1L496.2 908L498.4 908.1L500.6 908L502.9 907.9L505.1 907.3L507.3 907.4L509.5 907.6L511.7 907.8L513.9 907.8L516.2 908L518.4 908.2L520.6 907.6L522.8 907.2L525 907.3L527.2 907.5L529.5 907.6L531.7 907.7L533.9 907.2L536.1 907.7L538.3 908.1L540.5 907.4L542.8 907.5L545 908.1L547.2 908.1L549.4 907.9L551.6 908.1L553.8 908L556 908L558.3 908.1L560.5 907.9L562.7 907.8L564.9 907.6L567.1 907.8L569.3 908.1L571.6 907.6L573.8 907.8L576 907.9L578.2 907.8L580.4 908.1L582.6 907.7L584.9 907.2L587.1 907.4L589.3 907.5L591.5 907.6L593.7 907.6L595.9 907.9L598.1 908.1L600.4 907.7L602.6 907.4L604.8 908L607 908L609.2 907.6L611.4 908L613.7 907.9L615.9 908L618.1 907.3L620.3 906.9L622.5 907.4L624.7 907.8L627 908.1L629.2 908.1L631.4 907.4L633.6 907.8L635.8 907.9L638 908L640.3 907.9L642.5 907.5L644.7 907.4L646.9 907.8L649.1 908.1L651.3 907.6L653.5 908.1L655.8 908L658 907.7L660.2 907.9L662.4 908L664.6 907.7L666.8 907.9L669.1 907.9L671.3 907.7L673.5 907.8L675.7 908L677.9 907.9L680.1 907.9L682.4 908L684.6 907.9L686.8 908L689 907.7L691.2 907.7L693.4 907.9L695.6 907.9L697.9 907.8L700.1 907.3L702.3 907.4L704.5 907.7L706.7 907.9L708.9 907.9L711.2 907.9L713.4 907.9L715.6 907.7L717.8 907.8L720 907.7L722.2 907.7L724.5 907.9L726.7 907.7L728.9 907.7L731.1 907.7L733.3 907.8L735.5 907.8L737.7 907.9L740 907.7L742.2 907.9L744.4 907.2L746.6 907.3L748.8 907.3L751 907.5L753.3 907.3L755.5 907.4L757.7 907.6L759.9 907.8L762.1 907.8L764.3 907.7L766.6 907.7L768.8 907L771 907.5L773.2 907L775.4 907.3L777.6 907.2L779.9 907.6L782.1 907.8L784.3 907.5L786.5 907.4L788.7 907.1L790.9 907.4L793.1 907.7L795.4 907.4L797.6 907.5L799.8 907.4L802 907.5L804.2 907.2L806.4 907.4L808.7 907.5L810.9 907.8L813.1 907L815.3 907.2L817.5 907.3L819.7 907.2L822 907.8L824.2 907.6L826.4 907.3L828.6 907.8L830.8 907.4L833 907.7L835.2 907.7L837.5 907.5L839.7 907.6L841.9 907.4L844.1 907.3L846.3 907.2L848.5 907.4L850.8 907.4L853 907.5L855.2 907.4L857.4 907.8L859.6 907.6L861.8 906.8L864.1 907.1L866.3 906.9L868.5 907.7L870.7 907.4L872.9 907.5L875.1 907.4L877.4 907.6L879.6 907.4L881.8 907.5L884 907.6L886.2 907.5L888.4 907.3L890.6 906.8L892.9 906.8L895.1 907.2L897.3 907.2L899.5 907.3L901.7 907.2L903.9 907.7L906.2 907.6L908.4 907.4L910.6 907.5L912.8 907.7L915 907.4L917.2 906.9L919.5 906.7L921.7 907.1L923.9 907.5L926.1 907.4L928.3 907.6L930.5 907.5L932.7 907.5L935 907.4L937.2 907.4L939.4 907.5L941.6 907.5L943.8 907.5L946 907.5L948.3 907.5L950.5 907.4L952.7 907.3L954.9 907.6L957.1 907.2L959.3 907.1L961.6 907.4L963.8 907.6L966 907.2L968.2 906.9L970.4 907.1L972.6 907.6L974.8 907.2L977.1 907.4L979.3 907L981.5 907.1L983.7 906.9L985.9 907.1L988.1 907.5L990.4 907.1L992.6 907.2L994.8 907.4L997 906.9L999.2 906.7L1001.4 906.7L1003.7 906.8L1005.9 907L1008.1 907.4L1010.3 907.5L1012.5 907.5L1014.7 907.2L1017 907.1L1019.2 906.9L1021.4 906.9L1023.6 906.8L1025.8 906.9L1028 907.3L1030.2 907.3L1032.5 907.2L1034.7 907.5L1036.9 907L1039.1 907L1041.3 907.3L1043.5 906.9L1045.8 907.5L1048 907.3L1050.2 907.3L1052.4 907.2L1054.6 907.2L1056.8 907.2L1059.1 907.3L1061.3 907.4L1063.5 907.1L1065.7 907.3L1067.9 907L1070.1 907.1L1072.3 906.9L1074.6 907.3L1076.8 907L1079 907.3L1081.2 906.6L1083.4 907.2L1085.6 907.2L1087.9 907.2L1090.1 907.3L1092.3 907.3L1094.5 907.1L1096.7 907.1L1098.9 907L1101.2 907L1103.4 907.3L1105.6 907L1107.8 907.1L1110 906.9L1112.2 907L1114.5 907.2L1116.7 906.4L1118.9 906.7L1121.1 906.6L1123.3 907.2L1125.5 907.3L1127.7 907.3L1130 907L1132.2 907.3L1134.4 906.9L1136.6 907.3L1138.8 906.4L1141 906.8L1143.3 907L1145.5 907L1147.7 907L1149.9 907.3L1152.1 907.3L1154.3 907.1L1156.6 907.1L1158.8 907L1161 907.1L1163.2 907.1L1165.4 907.1L1167.6 907.2L1169.8 907.3L1172.1 906.8L1174.3 906.9L1176.5 906.4L1178.7 906.7L1180.9 907.1L1183.1 907.1L1185.4 907.1L1187.6 906.8L1189.8 907L1192 907.2L1194.2 906.8L1196.4 906.8L1198.7 906.7L1200.9 907L1203.1 906.9L1205.3 906.7L1207.5 906.5L1209.7 907.2L1211.9 906.9L1214.2 906.6L1216.4 907.2L1218.6 907.2L1220.8 907L1223 906.5L1225.2 907.1L1227.5 907.1L1229.7 907.1L1231.9 906.5L1231.9 911.2L1229.7 911.7L1227.5 911.9L1225.2 911.9L1223 911.7L1220.8 911.9L1218.6 911.9L1216.4 911.5L1214.2 911.6L1211.9 911.4L1209.7 911.2L1207.5 911.6L1205.3 911.5L1203.1 911.3L1200.9 911.3L1198.7 911.3L1196.4 911.2L1194.2 911.3L1192 911.4L1189.8 912L1187.6 911.7L1185.4 911.3L1183.1 911.4L1180.9 911.5L1178.7 911.2L1176.5 911.2L1174.3 911.4L1172.1 911.7L1169.8 912.1L1167.6 911.7L1165.4 911.6L1163.2 911.2L1161 911.3L1158.8 911.4L1156.6 911.2L1154.3 911.6L1152.1 911.5L1149.9 911.2L1147.7 911.5L1145.5 911.5L1143.3 911.8L1141 911.8L1138.8 911.5L1136.6 911.5L1134.4 911.7L1132.2 911.6L1130 911.2L1127.7 911.3L1125.5 911.7L1123.3 911.4L1121.1 911.6L1118.9 911.4L1116.7 911.2L1114.5 911.4L1112.2 911.2L1110 911.4L1107.8 911.3L1105.6 911.2L1103.4 911.8L1101.2 911.8L1098.9 911.3L1096.7 911.9L1094.5 912.7L1092.3 912.2L1090.1 911.6L1087.9 911.6L1085.6 911.7L1083.4 911.7L1081.2 911.3L1079 911.5L1076.8 911.6L1074.6 911.3L1072.3 911.5L1070.1 911.7L1067.9 911.5L1065.7 911.3L1063.5 911.5L1061.3 911.3L1059.1 911.2L1056.8 911.3L1054.6 911.3L1052.4 911.4L1050.2 911.9L1048 911.5L1045.8 911.3L1043.5 911.6L1041.3 911.3L1039.1 911.6L1036.9 911.3L1034.7 911.6L1032.5 911.5L1030.2 911.6L1028 911.5L1025.8 911.2L1023.6 911.9L1021.4 912L1019.2 911.6L1017 912.1L1014.7 911.9L1012.5 911.3L1010.3 911.6L1008.1 911.4L1005.9 911.2L1003.7 911.9L1001.4 911.9L999.2 911.9L997 911.4L994.8 911.9L992.6 911.7L990.4 911.9L988.1 911.2L985.9 911.2L983.7 911.8L981.5 911.7L979.3 911.6L977.1 911.3L974.8 911.2L972.6 911.3L970.4 911.3L968.2 911.3L966 911.3L963.8 911.4L961.6 911.3L959.3 911.5L957.1 911.3L954.9 911.3L952.7 911.4L950.5 911.5L948.3 911.5L946 911.3L943.8 911.5L941.6 911.5L939.4 911.3L937.2 911.5L935 911.6L932.7 911.3L930.5 911.2L928.3 911.2L926.1 911.3L923.9 911.3L921.7 911.3L919.5 911.2L917.2 911.2L915 911.3L912.8 911.3L910.6 911.3L908.4 911.3L906.2 911.5L903.9 911.7L901.7 911.6L899.5 911.6L897.3 911.4L895.1 911.7L892.9 912.3L890.6 912.1L888.4 911.4L886.2 911.5L884 911.6L881.8 911.2L879.6 911.2L877.4 911.2L875.1 911.8L872.9 911.2L870.7 911.3L868.5 911.2L866.3 911.5L864.1 911.5L861.8 911.3L859.6 911.3L857.4 911.2L855.2 911.9L853 911.9L850.8 911.8L848.5 911.4L846.3 911.6L844.1 911.8L841.9 911.7L839.7 911.2L837.5 911.3L835.2 911.2L833 911.5L830.8 911.8L828.6 911.5L826.4 911.2L824.2 911.7L822 911.7L819.7 911.2L817.5 911.3L815.3 911.6L813.1 911.5L810.9 911.3L808.7 911.4L806.4 911.5L804.2 911.9L802 911.3L799.8 911.5L797.6 911.5L795.4 911.3L793.1 911.4L790.9 911.5L788.7 911.2L786.5 911.4L784.3 911.3L782.1 911.5L779.9 911.4L777.6 911.9L775.4 911.6L773.2 911.3L771 911.5L768.8 911.4L766.6 911.5L764.3 911.3L762.1 911.6L759.9 911.2L757.7 911.3L755.5 911.3L753.3 911.3L751 911.2L748.8 911.2L746.6 911.8L744.4 912.1L742.2 912.1L740 911.9L737.7 911.6L735.5 911.2L733.3 911.8L731.1 912L728.9 911.6L726.7 911.3L724.5 911.8L722.2 911.3L720 911.2L717.8 911.6L715.6 911.4L713.4 911.3L711.2 911.4L708.9 911.2L706.7 911.2L704.5 911.7L702.3 911.4L700.1 911.5L697.9 911.2L695.6 911.6L693.4 911.8L691.2 912.3L689 911.8L686.8 911.6L684.6 911.3L682.4 911.8L680.1 911.4L677.9 911.2L675.7 911.7L673.5 911.2L671.3 911.4L669.1 911.6L666.8 911.5L664.6 911.2L662.4 911.3L660.2 911.2L658 911.3L655.8 911.5L653.5 911.8L651.3 911.5L649.1 911.5L646.9 912.1L644.7 912.2L642.5 912L640.3 911.4L638 911.3L635.8 911.4L633.6 911.2L631.4 911.2L629.2 911.3L627 911.3L624.7 911.8L622.5 911.7L620.3 911.2L618.1 911.2L615.9 911.3L613.7 911.7L611.4 911.4L609.2 912L607 911.4L604.8 911.6L602.6 911.4L600.4 911.9L598.1 912.3L595.9 911.9L593.7 911.7L591.5 911.7L589.3 911.7L587.1 911.6L584.9 911.3L582.6 911.3L580.4 911.2L578.2 911.2L576 911.2L573.8 911.2L571.6 911.3L569.3 911.5L567.1 911.5L564.9 911.3L562.7 911.3L560.5 911.2L558.3 911.5L556 911.2L553.8 911.5L551.6 911.5L549.4 911.2L547.2 911.2L545 911.2L542.8 911.2L540.5 911.4L538.3 911.3L536.1 911.1L533.9 911.3L531.7 911.3L529.5 911.3L527.2 911.2L525 911.3L522.8 911.8L520.6 911.8L518.4 911.6L516.2 911.4L513.9 911.8L511.7 912L509.5 911.8L507.3 911.3L505.1 911.8L502.9 912L500.6 911.7L498.4 911.3L496.2 911.6L494 911.8L491.8 911.9L489.6 911.6L487.4 911.4L485.1 911.6L482.9 911.6L480.7 911.6L478.5 911.2L476.3 911.2L474.1 911.2L471.8 911.4L469.6 911.2L467.4 911.4L465.2 912L463 911.9L460.8 911.6L458.5 911.6L456.3 911.3L454.1 911.4L451.9 911.4L449.7 911.6L447.5 911.6L445.3 911.4L443 911.4L440.8 911.3L438.6 911.3L436.4 911.2L434.2 911.5L432 911.5L429.7 911.3L427.5 911.3L425.3 911.3L423.1 911.2L420.9 911.3L418.7 911.4L416.4 911.3L414.2 911.8L412 911.1L409.8 911.2L407.6 911.3L405.4 911.8L403.2 911.7L400.9 911.3L398.7 911.2L396.5 911.1L394.3 911.2L392.1 911.2L389.9 911.3L387.6 911.3L385.4 911.6L383.2 911.2L381 911.3L378.8 911.2L376.6 911.2L374.3 911.5L372.1 911.6L369.9 911.2L367.7 911.3L365.5 911.2L363.3 911.4L361 911.3L358.8 911.6L356.6 911.7L354.4 911.5L352.2 911.3L350 911.2L347.8 911.7L345.5 912.2L343.3 912.1L341.1 912.1L338.9 911.4L336.7 911.4L334.5 911.3L332.2 911.5L330 911.2L327.8 911.6L325.6 911.8L323.4 911.3L321.2 911.4L318.9 911.9L316.7 911.5L314.5 911.5L312.3 911.2L310.1 911.4L307.9 911.4L305.7 911.4L303.4 911.2L301.2 911.3L299 911.3L296.8 911.3L294.6 911.8L292.4 911.9L290.1 912.2L287.9 911.6L285.7 911.4L283.5 911.3L281.3 911.6L279.1 911.4L276.8 911.5L274.6 911.2L272.4 911.6L270.2 911.6L268 911.7L265.8 911.3L263.5 911.5L261.3 911.2L259.1 911.3L256.9 911.3L254.7 911.4L252.5 911.7L250.3 911.6L248 911.4L245.8 911.7L243.6 911.6L241.4 911.4L239.2 911.4L237 911.5L234.7 911.3L232.5 911.2L230.3 911.5L228.1 911.8L225.9 911.3L223.7 911.5L221.4 911.7L219.2 911.4L217 911.3L214.8 911.6Z"/>
<g fill="none" stroke="#00f" stroke-width="2.1" stroke-linejoin="round" stroke-linecap="butt" clip-path="url(#c2)">
<path d="M135.1 910.5L136 902L137.1 881.4L138.4 854.3L139.7 852.2L141.5 852.2L143.7 852.2L145.9 852.2L148.1 852.3L150.3 852.7L152.5 853.8L154.7 855.3L156.9 856.9L159.1 858.5L161.3 860.2L163.5 861.9L165.7 863.8L167.9 865.8L170.1 868L172.3 870.1L174.5 872.3L176.7 874.4L178.9 876.6L181.1 878.8L183.3 880.9L185.5 883L187.7 885L189.9 886.8L192.1 888L194.3 889.2L196.5 890.3L198.7 891.4L200.9 892.5L203.1 893.5L205.3 894.5L207.5 895.5L209.7 896.7L211.9 897.8L214.1 898.8L216.3 899.7L218.5 900.5L220.7 901.2L222.9 901.9L225.1 902.5L227.3 903.2L229.5 903.8L231.7 904.3L233.9 904.9L236.1 905.4L238.3 905.9L240.5 906.3L244.1 906.7L248.7 906.9L253.3 906.1L257.9 905.1L262.5 904L267.1 904L271.8 904.9L276.4 905.5L281 905.8L285.6 906.2L290.2 907.1L294.8 908.7L299.4 908.9L304 908.9L308.6 908.9L313.2 908.9L317.8 908.9L322.4 908.9L327 908.9L331.6 908.9L336.2 908.9L340.8 908.9L345.4 908.9L350 908.9L354.6 908.9L359.2 908.9L363.9 908.9L368.5 908.9L373.1 908.9L377.7 908.9L382.3 908.9L386.9 908.9L391.5 908.9L396.1 908.9L400.7 908.9L405.3 908.9L409.9 908.9L414.5 908.9L419.1 908.9L423.7 908.9"/>
<path d="M135.1 910.5L136 901.1L137.1 878.3L138.4 848.4L139.7 846.1L141.5 846.1L143.7 846.2L145.9 846.3L148.1 846.4L150.3 846.5L152.5 846.8L154.7 847.3L156.9 848.2L159.1 849.3L161.3 850.5L163.5 851.8L165.7 852.9L167.9 854.2L170.1 855.6L172.3 857.2L174.5 858.8L176.7 860.5L178.9 862.3L181.1 864.2L183.3 866.2L185.5 868.2L187.7 870.2L189.9 872.2L192.1 874.2L194.3 876.2L196.5 878.2L198.7 880.3L200.9 882.3L203.1 884.3L205.3 886.3L207.5 888.4L209.7 890.6L211.9 892.7L214.1 894.6L216.3 896.4L218.5 897.8L220.7 899.1L222.9 900.3L225.1 901.4L227.3 902.2L229.5 902.9L231.7 903.5L233.9 904.1L236.1 904.7L238.3 905.2L240.5 905.7L244.1 906.2L248.7 906.4L253.3 905.5L257.9 904.4L262.5 903.1L267.1 903.1L271.8 904.1L276.4 904.8L281 905.2L285.6 905.6L290.2 906.6L294.8 907.7L299.4 907.7L304 907.7L308.6 907.7L313.2 907.7L317.8 907.7L322.4 907.7L327 907.7L331.6 907.7L336.2 907.7L340.8 907.7L345.4 907.7L350 907.7L354.6 907.7L359.2 907.7L363.9 907.7L368.5 907.7L373.1 907.7L377.7 907.7L382.3 907.7L386.9 907.7L391.5 907.7L396.1 907.7L400.7 907.7L405.3 907.7L409.9 907.7L414.5 907.7L419.1 907.7L423.7 907.7"/>
<path d="M135.1 910.5L136 901.9L137.1 881.1L138.4 853.8L139.7 851.6L141.5 851.7L143.7 851.8L145.9 851.9L148.1 852.1L150.3 852.4L152.5 852.8L154.7 853.7L156.9 854.8L159.1 856.1L161.3 857.5L163.5 858.6L165.7 859.7L167.9 861L170.1 862.5L172.3 864.1L174.5 865.7L176.7 867.3L178.9 869L181.1 870.8L183.3 872.7L185.5 874.6L187.7 876.4L189.9 878.2L192.1 879.9L194.3 881.6L196.5 883.3L198.7 885L200.9 886.6L203.1 888.3L205.3 889.9L207.5 891.7L209.7 893.5L211.9 895.2L214.1 896.8L216.3 898.3L218.5 899.5L220.7 900.6L222.9 901.5L225.1 902.4L227.3 903.1L229.5 903.7L231.7 904.3L233.9 904.8L236.1 905.4L238.3 905.8L240.5 906.2L244.1 906.7L248.7 906.8L253.3 906.1L257.9 905.1L262.5 903.9L267.1 903.9L271.8 904.9L276.4 905.4L281 905.8L285.6 906.2L290.2 907.1L294.8 907.4L299.4 907.4L304 907.4L308.6 907.4L313.2 907.4L317.8 907.4L322.4 907.4L327 907.4L331.6 907.4L336.2 907.4L340.8 907.4L345.4 907.4L350 907.4L354.6 907.4L359.2 907.4L363.9 907.4L368.5 907.4L373.1 907.4L377.7 907.4L382.3 907.4L386.9 907.4L391.5 907.4L396.1 907.4L400.7 907.4L405.3 907.4L409.9 907.4L414.5 907.4L419.1 907.4L423.7 907.4"/>
<path d="M135.1 910.5L136 903.7L137.1 887.2L138.4 865.7L139.7 862.3L141.5 860.2L143.7 858.5L145.9 857.4L148.1 856.6L150.3 856L152.5 855.2L154.7 854.5L156.9 853.8L159.1 853.1L161.3 852.6L163.5 852.2L165.7 852.6L167.9 854.1L170.1 855.8L172.3 857.6L174.5 859.5L176.7 861.4L178.9 863.4L181.1 865.5L183.3 867.6L185.5 869.7L187.7 871.8L189.9 873.9L192.1 875.8L194.3 877.8L196.5 879.7L198.7 881.6L200.9 883.5L203.1 885.4L205.3 887.2L207.5 889.2L209.7 891.2L211.9 893.2L214.1 895.1L216.3 896.7L218.5 898L220.7 899.3L222.9 900.4L225.1 901.3L227.3 902.1L229.5 902.8L231.7 903.5L233.9 904.1L236.1 904.7L238.3 905.2L240.5 905.7L244.1 906.2L248.7 906.3L253.3 905.5L257.9 904.4L262.5 903.1L267.1 903.1L271.8 904.1L276.4 904.7L281 905.1L285.6 905.6L290.2 906.6L294.8 908.5L299.4 908.8L304 908.8L308.6 908.9L313.2 908.9L317.8 908.9L322.4 908.9L327 908.9L331.6 908.9L336.2 908.9L340.8 908.9L345.4 908.9L350 908.9L354.6 908.9L359.2 908.9L363.9 908.9L368.5 908.9L373.1 908.9L377.7 908.9L382.3 908.9L386.9 908.9L391.5 908.9L396.1 908.9L400.7 908.9L405.3 908.9L409.9 908.9L414.5 908.9L419.1 908.9L423.7 908.9"/>
<path d="M135.1 910.5L136 905.5L137.1 893.5L138.4 877.8L139.7 873.3L141.5 869.4L143.7 866.4L145.9 864.3L148.1 862.4L150.3 860L152.5 857.7L154.7 855.6L156.9 853.6L159.1 851.9L161.3 852.8L163.5 854.5L165.7 856.5L167.9 858.6L170.1 860.9L172.3 863.2L174.5 865.5L176.7 867.8L178.9 870.2L181.1 872.6L183.3 875L185.5 877.3L187.7 879.6L189.9 881.5L192.1 883.1L194.3 884.6L196.5 886.1L198.7 887.5L200.9 888.8L203.1 890.1L205.3 891.4L207.5 892.8L209.7 894.2L211.9 895.7L214.1 897L216.3 898.2L218.5 899.1L220.7 900L222.9 900.8L225.1 901.6L227.3 902.3L229.5 903L231.7 903.6L233.9 904.2L236.1 904.8L238.3 905.3L240.5 905.8L244.1 906.3L248.7 906.4L253.3 905.6L257.9 904.5L262.5 903.2L267.1 903.2L271.8 904.2L276.4 904.9L281 905.3L285.6 905.7L290.2 906.7L294.8 908.4L299.4 908.4L304 908.4L308.6 908.4L313.2 908.4L317.8 908.4L322.4 908.4L327 908.4L331.6 908.4L336.2 908.4L340.8 908.4L345.4 908.4L350 908.4L354.6 908.4L359.2 908.4L363.9 908.4L368.5 908.4L373.1 908.4L377.7 908.4L382.3 908.4L386.9 908.4L391.5 908.4L396.1 908.4L400.7 908.4L405.3 908.4L409.9 908.4L414.5 908.4L419.1 908.4L423.7 908.4"/>
<path d="M135.1 910.5L136 905.6L137.1 894L138.4 878.9L139.7 874.4L141.5 870.8L143.7 868.1L145.9 866.1L148.1 864L150.3 861.7L152.5 859.7L154.7 857.9L156.9 856.8L159.1 857.5L161.3 858.2L163.5 859.1L165.7 860.1L167.9 861.4L170.1 862.8L172.3 864.3L174.5 865.9L176.7 867.4L178.9 869.1L181.1 870.9L183.3 872.7L185.5 874.6L187.7 876.3L189.9 878.1L192.1 879.8L194.3 881.5L196.5 883.2L198.7 884.8L200.9 886.5L203.1 888.2L205.3 889.8L207.5 891.6L209.7 893.4L211.9 895.2L214.1 896.8L216.3 898.2L218.5 899.4L220.7 900.5L222.9 901.5L225.1 902.4L227.3 903.1L229.5 903.7L231.7 904.3L233.9 904.9L236.1 905.4L238.3 905.8L240.5 906.2L244.1 906.7L248.7 906.8L253.3 906.1L257.9 905.1L262.5 904L267.1 904L271.8 904.9L276.4 905.4L281 905.8L285.6 906.2L290.2 907.1L294.8 908.7L299.4 909L304 909L308.6 909.1L313.2 909.1L317.8 909.1L322.4 909.1L327 909.1L331.6 909.1L336.2 909.1L340.8 909.1L345.4 909.1L350 909.1L354.6 909.1L359.2 909.1L363.9 909.1L368.5 909.1L373.1 909.1L377.7 909.1L382.3 909.1L386.9 909.1L391.5 909.1L396.1 909.1L400.7 909.1L405.3 909.1L409.9 909.1L414.5 909.1L419.1 909.1L423.7 909.1"/>
<path d="M135.1 910.5L136 905.5L137.1 893.4L138.4 877.7L139.7 873.7L141.5 870.5L143.7 867.9L145.9 866.2L148.1 864.8L150.3 863.1L152.5 861.3L154.7 859.7L156.9 858.2L159.1 856.9L161.3 856.2L163.5 857.4L165.7 858.7L167.9 860.2L170.1 861.9L172.3 863.6L174.5 865.4L176.7 867.2L178.9 869.1L181.1 871L183.3 873L185.5 875L187.7 876.9L189.9 878.8L192.1 880.5L194.3 882.1L196.5 883.8L198.7 885.4L200.9 887L203.1 888.6L205.3 890.2L207.5 891.8L209.7 893.6L211.9 895.2L214.1 896.8L216.3 898.2L218.5 899.3L220.7 900.4L222.9 901.3L225.1 902.2L227.3 902.9L229.5 903.5L231.7 904.1L233.9 904.7L236.1 905.2L238.3 905.7L240.5 906.1L244.1 906.6L248.7 906.7L253.3 905.9L257.9 904.9L262.5 903.7L267.1 903.8L271.8 904.7L276.4 905.3L281 905.6L285.6 906.1L290.2 907L294.8 908.7L299.4 908.9L304 909L308.6 909L313.2 909L317.8 909.1L322.4 909.1L327 909.1L331.6 909.1L336.2 909.1L340.8 909.1L345.4 909.1L350 909.1L354.6 909.1L359.2 909.1L363.9 909.1L368.5 909.1L373.1 909.1L377.7 909.1L382.3 909.1L386.9 909.1L391.5 909.1L396.1 909.1L400.7 909.1L405.3 909.1L409.9 909.1L414.5 909.1L419.1 909.1L423.7 909.1"/>
<path d="M135.1 910.5L136 901.7L137.1 880.2L138.4 852.1L139.7 849.9L141.5 850L143.7 850.2L145.9 850.5L148.1 851L150.3 851.7L152.5 853L154.7 854.6L156.9 856.4L159.1 857.5L161.3 858.4L163.5 859.4L165.7 860.6L167.9 861.9L170.1 863.5L172.3 865.1L174.5 866.7L176.7 868.4L178.9 870.2L181.1 872L183.3 873.9L185.5 875.8L187.7 877.6L189.9 879.4L192.1 881L194.3 882.6L196.5 884.2L198.7 885.8L200.9 887.4L203.1 889L205.3 890.5L207.5 892.2L209.7 893.9L211.9 895.5L214.1 897.1L216.3 898.4L218.5 899.6L220.7 900.6L222.9 901.6L225.1 902.4L227.3 903.1L229.5 903.7L231.7 904.3L233.9 904.9L236.1 905.4L238.3 905.8L240.5 906.2L244.1 906.7L248.7 906.8L253.3 906.1L257.9 905.1L262.5 904L267.1 904L271.8 904.9L276.4 905.4L281 905.8L285.6 906.2L290.2 907.1L294.8 908.7L299.4 909L304 909L308.6 909.1L313.2 909.1L317.8 909.1L322.4 909.1L327 909.1L331.6 909.1L336.2 909.1L340.8 909.1L345.4 909.1L350 909.1L354.6 909.1L359.2 909.1L363.9 909.1L368.5 909.1L373.1 909.1L377.7 909.1L382.3 909.1L386.9 909.1L391.5 909.1L396.1 909.1L400.7 909.1L405.3 909.1L409.9 909.1L414.5 909.1L419.1 909.1L423.7 909.1"/>
<path d="M135.1 910.5L136 903.9L137.1 888L138.4 867.2L139.7 863.8L141.5 861.7L143.7 860.2L145.9 859.3L148.1 858.6L150.3 858L152.5 857.4L154.7 856.9L156.9 856.6L159.1 856.7L161.3 858L163.5 859.4L165.7 861L167.9 862.8L170.1 864.7L172.3 866.6L174.5 868.6L176.7 870.5L178.9 872.5L181.1 874.6L183.3 876.7L185.5 878.8L187.7 880.7L189.9 882.5L192.1 884L194.3 885.5L196.5 886.9L198.7 888.2L200.9 889.6L203.1 890.9L205.3 892.2L207.5 893.6L209.7 895L211.9 896.5L214.1 897.8L216.3 898.9L218.5 899.9L220.7 900.8L222.9 901.6L225.1 902.3L227.3 903L229.5 903.6L231.7 904.2L233.9 904.8L236.1 905.3L238.3 905.8L240.5 906.2L244.1 906.6L248.7 906.8L253.3 906L257.9 905L262.5 903.9L267.1 903.9L271.8 904.8L276.4 905.4L281 905.7L285.6 906.1L290.2 907L294.8 908.7L299.4 909L304 909L308.6 909L313.2 909.1L317.8 909.1L322.4 909.1L327 909.1L331.6 909.1L336.2 909.1L340.8 909.1L345.4 909.1L350 909.1L354.6 909.1L359.2 909.1L363.9 909.1L368.5 909.1L373.1 909.1L377.7 909.1L382.3 909.1L386.9 909.1L391.5 909.1L396.1 909.1L400.7 909.1L405.3 909.1L409.9 909.1L414.5 909.1L419.1 909.1L423.7 909.1"/>
<path d="M135.1 910.5L136 901.1L137.1 878.2L138.4 848.2L139.7 845.8L141.5 846L143.7 846.4L145.9 846.9L148.1 847.5L150.3 848.2L152.5 849L154.7 849.8L156.9 850.8L159.1 851.9L161.3 853.2L163.5 854.7L165.7 856.2L167.9 858L170.1 860.1L172.3 862.3L174.5 864.6L176.7 866.8L178.9 869.1L181.1 871.4L183.3 873.7L185.5 876L187.7 878.3L189.9 880.3L192.1 882L194.3 883.7L196.5 885.3L198.7 886.9L200.9 888.4L203.1 889.8L205.3 891.2L207.5 892.8L209.7 894.3L211.9 895.8L214.1 897.2L216.3 898.5L218.5 899.5L220.7 900.4L222.9 901.3L225.1 902L227.3 902.7L229.5 903.3L231.7 904L233.9 904.5L236.1 905.1L238.3 905.6L240.5 906L244.1 906.5L248.7 906.6L253.3 905.8L257.9 904.8L262.5 903.6L267.1 903.6L271.8 904.5L276.4 905.1L281 905.5L285.6 905.9L290.2 906.9L294.8 908.6L299.4 908.9L304 908.9L308.6 909L313.2 909L317.8 909L322.4 909L327 909L331.6 909L336.2 909L340.8 909L345.4 909L350 909L354.6 909L359.2 909L363.9 909L368.5 909L373.1 909L377.7 909L382.3 909L386.9 909L391.5 909L396.1 909L400.7 909L405.3 909L409.9 909L414.5 909L419.1 909L423.7 909"/>
<path d="M135.1 910.5L136 904.2L137.1 888.9L138.4 868.9L139.7 865.9L141.5 864.2L143.7 862.7L145.9 861.7L148.1 861L150.3 860.5L152.5 860.1L154.7 859.5L156.9 859L159.1 858.5L161.3 858.1L163.5 857.8L165.7 857.6L167.9 858L170.1 860.1L172.3 862.4L174.5 864.6L176.7 866.8L178.9 869.1L181.1 871.5L183.3 873.8L185.5 876.1L187.7 878.3L189.9 880.4L192.1 882.1L194.3 883.8L196.5 885.4L198.7 886.9L200.9 888.4L203.1 889.9L205.3 891.3L207.5 892.8L209.7 894.4L211.9 895.9L214.1 897.3L216.3 898.5L218.5 899.5L220.7 900.5L222.9 901.3L225.1 902L227.3 902.7L229.5 903.4L231.7 904L233.9 904.6L236.1 905.1L238.3 905.6L240.5 906L244.1 906.5L248.7 906.6L253.3 905.9L257.9 904.8L262.5 903.6L267.1 903.6L271.8 904.6L276.4 905.2L281 905.5L285.6 906L290.2 906.9L294.8 907.7L299.4 907.7L304 907.7L308.6 907.7L313.2 907.7L317.8 907.7L322.4 907.7L327 907.7L331.6 907.7L336.2 907.7L340.8 907.7L345.4 907.7L350 907.7L354.6 907.7L359.2 907.7L363.9 907.7L368.5 907.7L373.1 907.7L377.7 907.7L382.3 907.7L386.9 907.7L391.5 907.7L396.1 907.7L400.7 907.7L405.3 907.7L409.9 907.7L414.5 907.7L419.1 907.7L423.7 907.7"/>
<path d="M135.1 910.5L136 902.1L137.1 881.8L138.4 855.1L139.7 852.7L141.5 852.3L143.7 852L145.9 851.9L148.1 851.8L150.3 851.8L152.5 852.2L154.7 852.9L156.9 853.8L159.1 855L161.3 855.9L163.5 856.6L165.7 857.6L167.9 858.8L170.1 860.2L172.3 861.7L174.5 863.2L176.7 864.8L178.9 866.5L181.1 868.3L183.3 870.1L185.5 872L187.7 873.8L189.9 875.7L192.1 877.5L194.3 879.3L196.5 881.1L198.7 883L200.9 884.8L203.1 886.6L205.3 888.4L207.5 890.3L209.7 892.3L211.9 894.2L214.1 896L216.3 897.6L218.5 898.9L220.7 900.1L222.9 901.2L225.1 902.1L227.3 902.8L229.5 903.5L231.7 904.1L233.9 904.6L236.1 905.2L238.3 905.7L240.5 906.1L244.1 906.6L248.7 906.7L253.3 905.9L257.9 904.9L262.5 903.7L267.1 903.7L271.8 904.7L276.4 905.2L281 905.6L285.6 906L290.2 906.9L294.8 907.5L299.4 907.5L304 907.5L308.6 907.5L313.2 907.5L317.8 907.5L322.4 907.5L327 907.5L331.6 907.5L336.2 907.5L340.8 907.5L345.4 907.5L350 907.5L354.6 907.5L359.2 907.5L363.9 907.5L368.5 907.5L373.1 907.5L377.7 907.5L382.3 907.5L386.9 907.5L391.5 907.5L396.1 907.5L400.7 907.5L405.3 907.5L409.9 907.5L414.5 907.5L419.1 907.5L423.7 907.5"/>
<path d="M135.1 910.5L136 902.2L137.1 882L138.4 855.7L139.7 852.1L141.5 850.6L143.7 849.5L145.9 849.2L148.1 849.2L150.3 849.3L152.5 849.6L154.7 850.4L156.9 851.3L159.1 852.2L161.3 853.2L163.5 854.3L165.7 855.6L167.9 857.1L170.1 858.8L172.3 860.6L174.5 862.4L176.7 864.3L178.9 866.2L181.1 868.3L183.3 870.3L185.5 872.4L187.7 874.4L189.9 876.3L192.1 878.1L194.3 879.9L196.5 881.6L198.7 883.3L200.9 885.1L203.1 886.8L205.3 888.5L207.5 890.3L209.7 892.1L211.9 893.9L214.1 895.6L216.3 897.1L218.5 898.4L220.7 899.5L222.9 900.6L225.1 901.5L227.3 902.3L229.5 903L231.7 903.6L233.9 904.2L236.1 904.8L238.3 905.3L240.5 905.8L244.1 906.3L248.7 906.4L253.3 905.6L257.9 904.5L262.5 903.2L267.1 903.2L271.8 904.2L276.4 904.9L281 905.3L285.6 905.7L290.2 906.7L294.8 907.6L299.4 907.6L304 907.6L308.6 907.6L313.2 907.6L317.8 907.6L322.4 907.6L327 907.6L331.6 907.6L336.2 907.6L340.8 907.6L345.4 907.6L350 907.6L354.6 907.6L359.2 907.6L363.9 907.6L368.5 907.6L373.1 907.6L377.7 907.6L382.3 907.6L386.9 907.6L391.5 907.6L396.1 907.6L400.7 907.6L405.3 907.6L409.9 907.6L414.5 907.6L419.1 907.6L423.7 907.6"/>
<path d="M135.1 910.5L136 904.9L137.1 891.6L138.4 874.3L139.7 868.7L141.5 864.4L143.7 861.1L145.9 858.2L148.1 855L150.3 852.2L152.5 849.8L154.7 850.9L156.9 852.6L159.1 854.3L161.3 856.1L163.5 857.9L165.7 860L167.9 862.1L170.1 864.4L172.3 866.8L174.5 869.1L176.7 871.4L178.9 873.7L181.1 876L183.3 878.4L185.5 880.6L187.7 882.8L189.9 884.7L192.1 885.9L194.3 887.2L196.5 888.3L198.7 889.5L200.9 890.6L203.1 891.6L205.3 892.7L207.5 893.8L209.7 894.9L211.9 896.1L214.1 897.2L216.3 898.3L218.5 899.2L220.7 900L222.9 900.8L225.1 901.5L227.3 902.3L229.5 902.9L231.7 903.6L233.9 904.2L236.1 904.8L238.3 905.3L240.5 905.7L244.1 906.3L248.7 906.4L253.3 905.6L257.9 904.5L262.5 903.2L267.1 903.2L271.8 904.2L276.4 904.8L281 905.2L285.6 905.7L290.2 906.7L294.8 908.5L299.4 908.6L304 908.6L308.6 908.6L313.2 908.6L317.8 908.6L322.4 908.6L327 908.6L331.6 908.6L336.2 908.6L340.8 908.6L345.4 908.6L350 908.6L354.6 908.6L359.2 908.6L363.9 908.6L368.5 908.6L373.1 908.6L377.7 908.6L382.3 908.6L386.9 908.6L391.5 908.6L396.1 908.6L400.7 908.6L405.3 908.6L409.9 908.6L414.5 908.6L419.1 908.6L423.7 908.6"/>
<path d="M135.1 910.5L136 901.1L137.1 878.1L138.4 848.1L139.7 845.7L141.5 846.2L143.7 847.1L145.9 848.3L148.1 849.7L150.3 851.7L152.5 854.2L154.7 856.6L156.9 858.3L159.1 859.9L161.3 861.6L163.5 863.3L165.7 865.2L167.9 867.3L170.1 869.4L172.3 871.6L174.5 873.7L176.7 875.8L178.9 878L181.1 880.2L183.3 882.3L185.5 884.4L187.7 886.3L189.9 888L192.1 889.1L194.3 890.2L196.5 891.2L198.7 892.2L200.9 893.1L203.1 894L205.3 894.9L207.5 895.9L209.7 896.9L211.9 897.8L214.1 898.8L216.3 899.7L218.5 900.4L220.7 901.2L222.9 901.9L225.1 902.5L227.3 903.1L229.5 903.7L231.7 904.3L233.9 904.9L236.1 905.4L238.3 905.8L240.5 906.2L244.1 906.7L248.7 906.8L253.3 906.1L257.9 905.1L262.5 904L267.1 904L271.8 904.9L276.4 905.4L281 905.8L285.6 906.2L290.2 907.1L294.8 907.3L299.4 907.3L304 907.3L308.6 907.3L313.2 907.3L317.8 907.3L322.4 907.3L327 907.3L331.6 907.3L336.2 907.3L340.8 907.3L345.4 907.3L350 907.3L354.6 907.3L359.2 907.3L363.9 907.3L368.5 907.3L373.1 907.3L377.7 907.3L382.3 907.3L386.9 907.3L391.5 907.3L396.1 907.3L400.7 907.3L405.3 907.3L409.9 907.3L414.5 907.3L419.1 907.3L423.7 907.3"/>
<path d="M135.1 910.5L136 902.2L137.1 881.9L138.4 855.5L139.7 852.5L141.5 851.5L143.7 850.7L145.9 850.3L148.1 850.2L150.3 850.3L152.5 850.5L154.7 850.9L156.9 851.6L159.1 852.3L161.3 852.9L163.5 853.7L165.7 854.6L167.9 855.8L170.1 857.2L172.3 858.7L174.5 860.3L176.7 861.9L178.9 863.6L181.1 865.5L183.3 867.4L185.5 869.3L187.7 871.2L189.9 873.2L192.1 875.1L194.3 877.1L196.5 879L198.7 881L200.9 883L203.1 884.9L205.3 886.9L207.5 889L209.7 891.1L211.9 893.1L214.1 895.1L216.3 896.8L218.5 898.2L220.7 899.5L222.9 900.6L225.1 901.6L227.3 902.4L229.5 903.1L231.7 903.7L233.9 904.3L236.1 904.9L238.3 905.4L240.5 905.8L244.1 906.3L248.7 906.5L253.3 905.7L257.9 904.6L262.5 903.3L267.1 903.4L271.8 904.3L276.4 905L281 905.3L285.6 905.8L290.2 906.7L294.8 908.6L299.4 908.8L304 908.9L308.6 908.9L313.2 909L317.8 909L322.4 909L327 909L331.6 909L336.2 909L340.8 909L345.4 909L350 909L354.6 909L359.2 909L363.9 909L368.5 909L373.1 909L377.7 909L382.3 909L386.9 909L391.5 909L396.1 909L400.7 909L405.3 909L409.9 909L414.5 909L419.1 909L423.7 909"/>
<path d="M135.1 910.5L136 901.4L137.1 879.2L138.4 850.1L139.7 847.8L141.5 848L143.7 848.6L145.9 849.3L148.1 850.2L150.3 851.4L152.5 853.1L154.7 855.2L156.9 857.1L159.1 858.2L161.3 859.3L163.5 860.5L165.7 861.9L167.9 863.5L170.1 865.2L172.3 867L174.5 868.8L176.7 870.6L178.9 872.5L181.1 874.5L183.3 876.4L185.5 878.4L187.7 880.2L189.9 882L192.1 883.5L194.3 884.9L196.5 886.4L198.7 887.8L200.9 889.2L203.1 890.5L205.3 891.9L207.5 893.3L209.7 894.8L211.9 896.3L214.1 897.7L216.3 898.9L218.5 899.9L220.7 900.8L222.9 901.7L225.1 902.5L227.3 903.2L229.5 903.7L231.7 904.3L233.9 904.9L236.1 905.4L238.3 905.9L240.5 906.2L244.1 906.7L248.7 906.8L253.3 906.1L257.9 905.1L262.5 904L267.1 904L271.8 904.9L276.4 905.5L281 905.8L285.6 906.2L290.2 907.1L294.8 908.1L299.4 908.1L304 908.1L308.6 908.1L313.2 908.1L317.8 908.1L322.4 908.1L327 908.1L331.6 908.1L336.2 908.1L340.8 908.1L345.4 908.1L350 908.1L354.6 908.1L359.2 908.1L363.9 908.1L368.5 908.1L373.1 908.1L377.7 908.1L382.3 908.1L386.9 908.1L391.5 908.1L396.1 908.1L400.7 908.1L405.3 908.1L409.9 908.1L414.5 908.1L419.1 908.1L423.7 908.1"/>
<path d="M135.1 910.5L136 904.1L137.1 888.6L138.4 868.4L139.7 865L141.5 862.8L143.7 860.9L145.9 859.7L148.1 858.8L150.3 858.1L152.5 857.3L154.7 856.4L156.9 855.6L159.1 854.8L161.3 854.2L163.5 853.6L165.7 853.2L167.9 854.5L170.1 856.2L172.3 858L174.5 859.8L176.7 861.6L178.9 863.6L181.1 865.7L183.3 867.8L185.5 869.9L187.7 872L189.9 874L192.1 876L194.3 877.9L196.5 879.8L198.7 881.8L200.9 883.6L203.1 885.5L205.3 887.4L207.5 889.3L209.7 891.4L211.9 893.3L214.1 895.2L216.3 896.8L218.5 898.1L220.7 899.4L222.9 900.5L225.1 901.4L227.3 902.2L229.5 902.9L231.7 903.5L233.9 904.2L236.1 904.7L238.3 905.3L240.5 905.7L244.1 906.2L248.7 906.4L253.3 905.5L257.9 904.4L262.5 903.1L267.1 903.1L271.8 904.2L276.4 904.8L281 905.2L285.6 905.7L290.2 906.6L294.8 908.5L299.4 908.8L304 908.8L308.6 908.9L313.2 908.9L317.8 908.9L322.4 908.9L327 908.9L331.6 908.9L336.2 908.9L340.8 908.9L345.4 908.9L350 908.9L354.6 908.9L359.2 908.9L363.9 908.9L368.5 908.9L373.1 908.9L377.7 908.9L382.3 908.9L386.9 908.9L391.5 908.9L396.1 908.9L400.7 908.9L405.3 908.9L409.9 908.9L414.5 908.9L419.1 908.9L423.7 908.9"/>
<path d="M135.1 910.5L136 901.5L137.1 879.5L138.4 850.7L139.7 848.3L141.5 848.2L143.7 848.1L145.9 848.1L148.1 848L150.3 848.1L152.5 848.4L154.7 849.2L156.9 850.2L159.1 851.5L161.3 852.7L163.5 853.9L165.7 855.2L167.9 856.8L170.1 858.5L172.3 860.3L174.5 862.2L176.7 864.1L178.9 866.1L181.1 868.1L183.3 870.2L185.5 872.3L187.7 874.4L189.9 876.3L192.1 878.1L194.3 879.9L196.5 881.7L198.7 883.5L200.9 885.2L203.1 886.9L205.3 888.6L207.5 890.4L209.7 892.3L211.9 894.1L214.1 895.8L216.3 897.3L218.5 898.6L220.7 899.7L222.9 900.7L225.1 901.6L227.3 902.4L229.5 903.1L231.7 903.7L233.9 904.3L236.1 904.9L238.3 905.4L240.5 905.8L244.1 906.3L248.7 906.5L253.3 905.7L257.9 904.6L262.5 903.3L267.1 903.3L271.8 904.3L276.4 904.9L281 905.3L285.6 905.8L290.2 906.7L294.8 907.7L299.4 907.7L304 907.7L308.6 907.7L313.2 907.7L317.8 907.7L322.4 907.7L327 907.7L331.6 907.7L336.2 907.7L340.8 907.7L345.4 907.7L350 907.7L354.6 907.7L359.2 907.7L363.9 907.7L368.5 907.7L373.1 907.7L377.7 907.7L382.3 907.7L386.9 907.7L391.5 907.7L396.1 907.7L400.7 907.7L405.3 907.7L409.9 907.7L414.5 907.7L419.1 907.7L423.7 907.7"/>
<path d="M135.1 910.5L136 901.5L137.1 879.5L138.4 850.6L139.7 848.3L141.5 848.3L143.7 848.3L145.9 848.3L148.1 848.3L150.3 848.3L152.5 848.4L154.7 848.6L156.9 849.2L159.1 850L161.3 851L163.5 852.1L165.7 853.4L167.9 855.1L170.1 857L172.3 858.9L174.5 860.9L176.7 862.9L178.9 865L181.1 867.2L183.3 869.4L185.5 871.7L187.7 873.8L189.9 875.9L192.1 877.7L194.3 879.6L196.5 881.4L198.7 883.2L200.9 885L203.1 886.7L205.3 888.4L207.5 890.3L209.7 892.1L211.9 894L214.1 895.7L216.3 897.2L218.5 898.4L220.7 899.6L222.9 900.6L225.1 901.5L227.3 902.2L229.5 902.9L231.7 903.6L233.9 904.2L236.1 904.8L238.3 905.3L240.5 905.7L244.1 906.2L248.7 906.4L253.3 905.6L257.9 904.5L262.5 903.2L267.1 903.2L271.8 904.2L276.4 904.8L281 905.2L285.6 905.7L290.2 906.7L294.8 908.5L299.4 908.6L304 908.6L308.6 908.6L313.2 908.6L317.8 908.6L322.4 908.6L327 908.6L331.6 908.6L336.2 908.6L340.8 908.6L345.4 908.6L350 908.6L354.6 908.6L359.2 908.6L363.9 908.6L368.5 908.6L373.1 908.6L377.7 908.6L382.3 908.6L386.9 908.6L391.5 908.6L396.1 908.6L400.7 908.6L405.3 908.6L409.9 908.6L414.5 908.6L419.1 908.6L423.7 908.6"/>
<path d="M135.1 910.5L136 901.6L137.1 879.9L138.4 851.6L139.7 849.3L141.5 849.3L143.7 849.4L145.9 849.6L148.1 849.7L150.3 849.9L152.5 850.2L154.7 850.7L156.9 851.5L159.1 852.5L161.3 853.7L163.5 855L165.7 856.1L167.9 857.4L170.1 858.7L172.3 860.2L174.5 861.8L176.7 863.4L178.9 865.1L181.1 866.9L183.3 868.8L185.5 870.7L187.7 872.6L189.9 874.5L192.1 876.3L194.3 878.2L196.5 880.1L198.7 882L200.9 883.9L203.1 885.8L205.3 887.7L207.5 889.7L209.7 891.7L211.9 893.7L214.1 895.6L216.3 897.2L218.5 898.6L220.7 899.8L222.9 900.9L225.1 901.9L227.3 902.7L229.5 903.3L231.7 903.9L233.9 904.5L236.1 905L238.3 905.5L240.5 906L244.1 906.5L248.7 906.6L253.3 905.8L257.9 904.8L262.5 903.5L267.1 903.5L271.8 904.5L276.4 905.1L281 905.5L285.6 905.9L290.2 906.8L294.8 908.6L299.4 908.9L304 908.9L308.6 909L313.2 909L317.8 909L322.4 909L327 909L331.6 909L336.2 909L340.8 909L345.4 909L350 909L354.6 909L359.2 909L363.9 909L368.5 909L373.1 909L377.7 909L382.3 909L386.9 909L391.5 909L396.1 909L400.7 909L405.3 909L409.9 909L414.5 909L419.1 909L423.7 909"/>
<path d="M135.1 910.5L136 903.4L137.1 886.1L138.4 863.6L139.7 860.3L141.5 858.6L143.7 857.1L145.9 856.1L148.1 855.5L150.3 855L152.5 854.5L154.7 854L156.9 853.6L159.1 853.2L161.3 852.9L163.5 852.7L165.7 853.5L167.9 856L170.1 858.5L172.3 861.1L174.5 863.7L176.7 866.3L178.9 868.9L181.1 871.6L183.3 874.2L185.5 876.8L187.7 879.2L189.9 881.4L192.1 883.1L194.3 884.7L196.5 886.2L198.7 887.7L200.9 889L203.1 890.4L205.3 891.6L207.5 893L209.7 894.4L211.9 895.8L214.1 897.1L216.3 898.3L218.5 899.2L220.7 900L222.9 900.8L225.1 901.5L227.3 902.2L229.5 902.9L231.7 903.5L233.9 904.2L236.1 904.7L238.3 905.3L240.5 905.7L244.1 906.2L248.7 906.4L253.3 905.5L257.9 904.4L262.5 903.1L267.1 903.2L271.8 904.2L276.4 904.8L281 905.2L285.6 905.7L290.2 906.6L294.8 908.5L299.4 908.8L304 908.8L308.6 908.9L313.2 908.9L317.8 908.9L322.4 908.9L327 908.9L331.6 908.9L336.2 908.9L340.8 908.9L345.4 908.9L350 908.9L354.6 908.9L359.2 908.9L363.9 908.9L368.5 908.9L373.1 908.9L377.7 908.9L382.3 908.9L386.9 908.9L391.5 908.9L396.1 908.9L400.7 908.9L405.3 908.9L409.9 908.9L414.5 908.9L419.1 908.9L423.7 908.9"/>
<path d="M135.1 910.5L136 900.8L137.1 877.2L138.4 846.3L139.7 843.9L141.5 844.3L143.7 845.2L145.9 846.3L148.1 847.6L150.3 849L152.5 850.6L154.7 852.6L156.9 854.8L159.1 857.1L161.3 858.8L163.5 860.5L165.7 862.4L167.9 864.5L170.1 866.7L172.3 868.9L174.5 871.1L176.7 873.2L178.9 875.4L181.1 877.7L183.3 879.9L185.5 882L187.7 884.1L189.9 885.9L192.1 887.2L194.3 888.5L196.5 889.7L198.7 890.8L200.9 891.9L203.1 893L205.3 894L207.5 895.2L209.7 896.4L211.9 897.5L214.1 898.6L216.3 899.6L218.5 900.3L220.7 901.1L222.9 901.8L225.1 902.4L227.3 903.1L229.5 903.7L231.7 904.3L233.9 904.8L236.1 905.3L238.3 905.8L240.5 906.2L244.1 906.7L248.7 906.8L253.3 906.1L257.9 905.1L262.5 903.9L267.1 903.9L271.8 904.8L276.4 905.4L281 905.8L285.6 906.2L290.2 907.1L294.8 908.7L299.4 909L304 909L308.6 909.1L313.2 909.1L317.8 909.1L322.4 909.1L327 909.1L331.6 909.1L336.2 909.1L340.8 909.1L345.4 909.1L350 909.1L354.6 909.1L359.2 909.1L363.9 909.1L368.5 909.1L373.1 909.1L377.7 909.1L382.3 909.1L386.9 909.1L391.5 909.1L396.1 909.1L400.7 909.1L405.3 909.1L409.9 909.1L414.5 909.1L419.1 909.1L423.7 909.1"/>
<path d="M135.1 910.5L136 903.3L137.1 885.7L138.4 862.7L139.7 859.8L141.5 858.4L143.7 857.2L145.9 856.4L148.1 855.9L150.3 855.7L152.5 855.5L154.7 855.4L156.9 855.3L159.1 855.3L161.3 855.2L163.5 855.2L165.7 855.6L167.9 857.8L170.1 860.1L172.3 862.4L174.5 864.8L176.7 867.2L178.9 869.6L181.1 872L183.3 874.5L185.5 876.8L187.7 879.1L189.9 881.2L192.1 882.9L194.3 884.5L196.5 886L198.7 887.5L200.9 888.9L203.1 890.3L205.3 891.6L207.5 893.1L209.7 894.5L211.9 896L214.1 897.3L216.3 898.5L218.5 899.5L220.7 900.3L222.9 901.1L225.1 901.8L227.3 902.5L229.5 903.2L231.7 903.8L233.9 904.4L236.1 905L238.3 905.5L240.5 905.9L244.1 906.4L248.7 906.5L253.3 905.7L257.9 904.7L262.5 903.4L267.1 903.4L271.8 904.4L276.4 905L281 905.4L285.6 905.9L290.2 906.8L294.8 908.5L299.4 908.5L304 908.5L308.6 908.5L313.2 908.5L317.8 908.5L322.4 908.5L327 908.5L331.6 908.5L336.2 908.5L340.8 908.5L345.4 908.5L350 908.5L354.6 908.5L359.2 908.5L363.9 908.5L368.5 908.5L373.1 908.5L377.7 908.5L382.3 908.5L386.9 908.5L391.5 908.5L396.1 908.5L400.7 908.5L405.3 908.5L409.9 908.5L414.5 908.5L419.1 908.5L423.7 908.5"/>
<path d="M135.1 910.5L136 910.5L137.1 870L138.4 842.9L139.7 843L141.5 843.5L143.7 844.4L145.9 845.5L148.1 846.6L150.3 847.5L152.5 848.1L154.7 848.7L156.9 849.3L159.1 849.8L161.3 850.5L163.5 851.3L165.7 852.3L167.9 853.5L170.1 855L172.3 856.5L174.5 858.2L176.7 859.8L178.9 861.6L181.1 863.6L183.3 865.6L185.5 867.6L187.7 869.6L189.9 871.6L192.1 873.6L194.3 875.6L196.5 877.7L198.7 879.8L200.9 881.8L203.1 883.9L205.3 885.9L207.5 888.1L209.7 890.3L211.9 892.4L214.1 894.4L216.3 896.2L218.5 897.7L220.7 899L222.9 900.2L225.1 901.3L227.3 902.1L229.5 902.8L231.7 903.4L233.9 904.1L236.1 904.7L238.3 905.2L240.5 905.6L244.1 906.2L248.7 906.3L253.3 905.5L257.9 904.3L262.5 903L267.1 903.1L271.8 904.1L276.4 904.7L281 905.1L285.6 905.6L290.2 906.6L294.8 908.5L299.4 908.8L304 908.8L308.6 908.9L313.2 908.9L317.8 908.9L322.4 908.9L327 908.9L331.6 908.9L336.2 908.9L340.8 908.9L345.4 908.9L350 908.9L354.6 908.9L359.2 908.9L363.9 908.9L368.5 908.9L373.1 908.9L377.7 908.9L382.3 908.9L386.9 908.9L391.5 908.9L396.1 908.9L400.7 908.9L405.3 908.9L409.9 908.9L414.5 908.9L419.1 908.9L423.7 908.9"/>
<path d="M135.1 910.5L136 910.5L137.1 903.9L138.4 900.8L139.7 898.3L141.5 895.4L143.7 892.6L145.9 890.3L148.1 888.4L150.3 886.8L152.5 885.6L154.7 884.6L156.9 883.9L159.1 883.4L161.3 883.1L163.5 883L165.7 883L167.9 883.2L170.1 883.5L172.3 884L174.5 884.5L176.7 885.2L178.9 886L181.1 886.9L183.3 887.8L185.5 888.9L187.7 889.9L189.9 891.1L192.1 892.3L194.3 893.6L196.5 894.9L198.7 896.2L200.9 897.5L203.1 898.9L205.3 900.3L207.5 901.7L209.7 903.2L211.9 904.6L214.1 906L216.3 907.5L218.5 908.9L220.7 910L222.9 909.9L225.1 909.9L227.3 909.8L229.5 909.7L231.7 909.7L233.9 909.6L236.1 909.5L238.3 909.5L240.5 909.4L244.1 909.3L248.7 909.1L253.3 909.1L257.9 909.1L262.5 909.1L267.1 909.1L271.8 909.1L276.4 909.1L281 909.1L285.6 909.1L290.2 909.1L294.8 909.1L299.4 909.1L304 909.1L308.6 909.1L313.2 909.1L317.8 909.1L322.4 909.1L327 909.1L331.6 909.1L336.2 909.1L340.8 909.1L345.4 909.1L350 909.1L354.6 909.1L359.2 909.1L363.9 909.1L368.5 909.1L373.1 909.1L377.7 909.1L382.3 909.1L386.9 909.1L391.5 909.1L396.1 909.1L400.7 909.1L405.3 909.1L409.9 909.1L414.5 909.1L419.1 909.1L423.7 909.1"/>
<path d="M135.1 910.5L136 910.5L137.1 903.8L138.4 900.6L139.7 898.1L141.5 895L143.7 892L145.9 889.6L148.1 887.5L150.3 885.8L152.5 884.5L154.7 883.4L156.9 882.5L159.1 881.9L161.3 881.4L163.5 881.2L165.7 881.1L167.9 881.2L170.1 881.5L172.3 881.8L174.5 882.3L176.7 883L178.9 883.7L181.1 884.5L183.3 885.4L185.5 886.4L187.7 887.4L189.9 888.6L192.1 889.8L194.3 891L196.5 892.3L198.7 893.6L200.9 895L203.1 896.4L205.3 897.8L207.5 899.3L209.7 900.8L211.9 902.2L214.1 903.7L216.3 905.2L218.5 906.7L220.7 908.2L222.9 909.7L225.1 909.9L227.3 909.8L229.5 909.7L231.7 909.7L233.9 909.6L236.1 909.5L238.3 909.5L240.5 909.4L244.1 909.3L248.7 909.1L253.3 909.1L257.9 909.1L262.5 909.1L267.1 909.1L271.8 909.1L276.4 909.1L281 909.1L285.6 909.1L290.2 909.1L294.8 909.1L299.4 909.1L304 909.1L308.6 909.1L313.2 909.1L317.8 909.1L322.4 909.1L327 909.1L331.6 909.1L336.2 909.1L340.8 909.1L345.4 909.1L350 909.1L354.6 909.1L359.2 909.1L363.9 909.1L368.5 909.1L373.1 909.1L377.7 909.1L382.3 909.1L386.9 909.1L391.5 909.1L396.1 909.1L400.7 909.1L405.3 909.1L409.9 909.1L414.5 909.1L419.1 909.1L423.7 909.1"/>
<path d="M135.1 910.5L136 910.5L137.1 903L138.4 899.5L139.7 896.8L141.5 893.6L143.7 890.5L145.9 888L148.1 885.9L150.3 884.2L152.5 882.9L154.7 881.8L156.9 880.9L159.1 880.3L161.3 879.9L163.5 879.7L165.7 879.6L167.9 879.7L170.1 879.9L172.3 880.3L174.5 880.8L176.7 881.4L178.9 882.1L181.1 882.9L183.3 883.8L185.5 884.8L187.7 885.8L189.9 886.9L192.1 888L194.3 889.3L196.5 890.5L198.7 891.8L200.9 893.1L203.1 894.5L205.3 895.9L207.5 897.3L209.7 898.7L211.9 900.2L214.1 901.6L216.3 903.1L218.5 904.5L220.7 906L222.9 907.5L225.1 908.9L227.3 909.8L229.5 909.7L231.7 909.7L233.9 909.6L236.1 909.5L238.3 909.5L240.5 909.4L244.1 909.3L248.7 909.1L253.3 909.1L257.9 909.1L262.5 909.1L267.1 909.1L271.8 909.1L276.4 909.1L281 909.1L285.6 909.1L290.2 909.1L294.8 909.1L299.4 909.1L304 909.1L308.6 909.1L313.2 909.1L317.8 909.1L322.4 909.1L327 909.1L331.6 909.1L336.2 909.1L340.8 909.1L345.4 909.1L350 909.1L354.6 909.1L359.2 909.1L363.9 909.1L368.5 909.1L373.1 909.1L377.7 909.1L382.3 909.1L386.9 909.1L391.5 909.1L396.1 909.1L400.7 909.1L405.3 909.1L409.9 909.1L414.5 909.1L419.1 909.1L423.7 909.1"/>
<path d="M135.1 910.5L136 910.5L137.1 901.3L138.4 897.3L139.7 894.2L141.5 890.6L143.7 887.3L145.9 884.6L148.1 882.5L150.3 880.9L152.5 879.6L154.7 878.7L156.9 878L159.1 877.7L161.3 877.5L163.5 877.6L165.7 877.9L167.9 878.3L170.1 878.9L172.3 879.6L174.5 880.5L176.7 881.5L178.9 882.6L181.1 883.7L183.3 885L185.5 886.3L187.7 887.7L189.9 889.2L192.1 890.7L194.3 892.3L196.5 893.8L198.7 895.5L200.9 897.1L203.1 898.8L205.3 900.4L207.5 902.1L209.7 903.8L211.9 905.5L214.1 907.1L216.3 908.8L218.5 910.1L220.7 910L222.9 909.9L225.1 909.9L227.3 909.8L229.5 909.7L231.7 909.7L233.9 909.6L236.1 909.5L238.3 909.5L240.5 909.4L244.1 909.3L248.7 909.1L253.3 909.1L257.9 909.1L262.5 909.1L267.1 909.1L271.8 909.1L276.4 909.1L281 909.1L285.6 909.1L290.2 909.1L294.8 909.1L299.4 909.1L304 909.1L308.6 909.1L313.2 909.1L317.8 909.1L322.4 909.1L327 909.1L331.6 909.1L336.2 909.1L340.8 909.1L345.4 909.1L350 909.1L354.6 909.1L359.2 909.1L363.9 909.1L368.5 909.1L373.1 909.1L377.7 909.1L382.3 909.1L386.9 909.1L391.5 909.1L396.1 909.1L400.7 909.1L405.3 909.1L409.9 909.1L414.5 909.1L419.1 909.1L423.7 909.1"/>
<path d="M135.1 910.5L136 910.5L137.1 902.8L138.4 899.2L139.7 896.3L141.5 892.8L143.7 889.5L145.9 886.7L148.1 884.4L150.3 882.5L152.5 880.9L154.7 879.6L156.9 878.6L159.1 877.8L161.3 877.3L163.5 876.9L165.7 876.7L167.9 876.7L170.1 876.8L172.3 877.1L174.5 877.5L176.7 878L178.9 878.7L181.1 879.4L183.3 880.3L185.5 881.2L187.7 882.2L189.9 883.3L192.1 884.5L194.3 885.7L196.5 887L198.7 888.3L200.9 889.7L203.1 891.1L205.3 892.6L207.5 894L209.7 895.5L211.9 897.1L214.1 898.6L216.3 900.1L218.5 901.7L220.7 903.3L222.9 904.8L225.1 906.4L227.3 907.9L229.5 909.5L231.7 909.7L233.9 909.6L236.1 909.5L238.3 909.5L240.5 909.4L244.1 909.3L248.7 909.1L253.3 909.1L257.9 909.1L262.5 909.1L267.1 909.1L271.8 909.1L276.4 909.1L281 909.1L285.6 909.1L290.2 909.1L294.8 909.1L299.4 909.1L304 909.1L308.6 909.1L313.2 909.1L317.8 909.1L322.4 909.1L327 909.1L331.6 909.1L336.2 909.1L340.8 909.1L345.4 909.1L350 909.1L354.6 909.1L359.2 909.1L363.9 909.1L368.5 909.1L373.1 909.1L377.7 909.1L382.3 909.1L386.9 909.1L391.5 909.1L396.1 909.1L400.7 909.1L405.3 909.1L409.9 909.1L414.5 909.1L419.1 909.1L423.7 909.1"/>
<path d="M135.1 910.5L136 910.5L137.1 903.3L138.4 899.6L139.7 896.6L141.5 892.9L143.7 889.2L145.9 886.1L148.1 883.4L150.3 881.2L152.5 879.3L154.7 877.8L156.9 876.5L159.1 875.5L161.3 874.8L163.5 874.3L165.7 874.1L167.9 874L170.1 874.1L172.3 874.4L174.5 874.9L176.7 875.5L178.9 876.3L181.1 877.2L183.3 878.3L185.5 879.4L187.7 880.7L189.9 882L192.1 883.5L194.3 885L196.5 886.6L198.7 888.2L200.9 889.9L203.1 891.7L205.3 893.5L207.5 895.3L209.7 897.2L211.9 899.1L214.1 901L216.3 902.9L218.5 904.8L220.7 906.7L222.9 908.6L225.1 909.9L227.3 909.8L229.5 909.7L231.7 909.7L233.9 909.6L236.1 909.5L238.3 909.5L240.5 909.4L244.1 909.3L248.7 909.1L253.3 909.1L257.9 909.1L262.5 909.1L267.1 909.1L271.8 909.1L276.4 909.1L281 909.1L285.6 909.1L290.2 909.1L294.8 909.1L299.4 909.1L304 909.1L308.6 909.1L313.2 909.1L317.8 909.1L322.4 909.1L327 909.1L331.6 909.1L336.2 909.1L340.8 909.1L345.4 909.1L350 909.1L354.6 909.1L359.2 909.1L363.9 909.1L368.5 909.1L373.1 909.1L377.7 909.1L382.3 909.1L386.9 909.1L391.5 909.1L396.1 909.1L400.7 909.1L405.3 909.1L409.9 909.1L414.5 909.1L419.1 909.1L423.7 909.1"/>
<path d="M135.1 910.5L136 910.5L137.1 900.5L138.4 896.2L139.7 892.8L141.5 888.9L143.7 885.2L145.9 882.2L148.1 879.8L150.3 877.9L152.5 876.3L154.7 875.1L156.9 874.1L159.1 873.4L161.3 873L163.5 872.8L165.7 872.7L167.9 872.8L170.1 873.1L172.3 873.6L174.5 874.2L176.7 874.9L178.9 875.7L181.1 876.6L183.3 877.6L185.5 878.7L187.7 879.9L189.9 881.1L192.1 882.4L194.3 883.8L196.5 885.2L198.7 886.7L200.9 888.2L203.1 889.7L205.3 891.3L207.5 892.9L209.7 894.5L211.9 896.1L214.1 897.7L216.3 899.4L218.5 901L220.7 902.7L222.9 904.3L225.1 906L227.3 907.6L229.5 909.2L231.7 909.7L233.9 909.6L236.1 909.5L238.3 909.5L240.5 909.4L244.1 909.3L248.7 909.1L253.3 909.1L257.9 909.1L262.5 909.1L267.1 909.1L271.8 909.1L276.4 909.1L281 909.1L285.6 909.1L290.2 909.1L294.8 909.1L299.4 909.1L304 909.1L308.6 909.1L313.2 909.1L317.8 909.1L322.4 909.1L327 909.1L331.6 909.1L336.2 909.1L340.8 909.1L345.4 909.1L350 909.1L354.6 909.1L359.2 909.1L363.9 909.1L368.5 909.1L373.1 909.1L377.7 909.1L382.3 909.1L386.9 909.1L391.5 909.1L396.1 909.1L400.7 909.1L405.3 909.1L409.9 909.1L414.5 909.1L419.1 909.1L423.7 909.1"/>
<path d="M135.1 910.5L136 910.5L137.1 901.5L138.4 897.2L139.7 893.6L141.5 889.4L143.7 885.3L145.9 881.9L148.1 879.1L150.3 876.8L152.5 874.9L154.7 873.4L156.9 872.3L159.1 871.5L161.3 870.9L163.5 870.7L165.7 870.7L167.9 870.9L170.1 871.3L172.3 872L174.5 872.8L176.7 873.7L178.9 874.8L181.1 876.1L183.3 877.5L185.5 879L187.7 880.6L189.9 882.3L192.1 884.1L194.3 885.9L196.5 887.8L198.7 889.8L200.9 891.8L203.1 893.9L205.3 896L207.5 898.1L209.7 900.2L211.9 902.3L214.1 904.5L216.3 906.6L218.5 908.7L220.7 910L222.9 909.9L225.1 909.9L227.3 909.8L229.5 909.7L231.7 909.7L233.9 909.6L236.1 909.5L238.3 909.5L240.5 909.4L244.1 909.3L248.7 909.1L253.3 909.1L257.9 909.1L262.5 909.1L267.1 909.1L271.8 909.1L276.4 909.1L281 909.1L285.6 909.1L290.2 909.1L294.8 909.1L299.4 909.1L304 909.1L308.6 909.1L313.2 909.1L317.8 909.1L322.4 909.1L327 909.1L331.6 909.1L336.2 909.1L340.8 909.1L345.4 909.1L350 909.1L354.6 909.1L359.2 909.1L363.9 909.1L368.5 909.1L373.1 909.1L377.7 909.1L382.3 909.1L386.9 909.1L391.5 909.1L396.1 909.1L400.7 909.1L405.3 909.1L409.9 909.1L414.5 909.1L419.1 909.1L423.7 909.1"/>
<path d="M135.1 910.5L136 910.5L137.1 897.7L138.4 892.6L139.7 888.8L141.5 884.4L143.7 880.4L145.9 877.3L148.1 874.9L150.3 873L152.5 871.6L154.7 870.7L156.9 870L159.1 869.7L161.3 869.6L163.5 869.8L165.7 870.2L167.9 870.8L170.1 871.6L172.3 872.5L174.5 873.6L176.7 874.7L178.9 876L181.1 877.4L183.3 878.9L185.5 880.4L187.7 882.1L189.9 883.8L192.1 885.5L194.3 887.3L196.5 889.1L198.7 891L200.9 892.8L203.1 894.7L205.3 896.6L207.5 898.5L209.7 900.5L211.9 902.4L214.1 904.3L216.3 906.2L218.5 908.1L220.7 910L222.9 909.9L225.1 909.9L227.3 909.8L229.5 909.7L231.7 909.7L233.9 909.6L236.1 909.5L238.3 909.5L240.5 909.4L244.1 909.3L248.7 909.1L253.3 909.1L257.9 909.1L262.5 909.1L267.1 909.1L271.8 909.1L276.4 909.1L281 909.1L285.6 909.1L290.2 909.1L294.8 909.1L299.4 909.1L304 909.1L308.6 909.1L313.2 909.1L317.8 909.1L322.4 909.1L327 909.1L331.6 909.1L336.2 909.1L340.8 909.1L345.4 909.1L350 909.1L354.6 909.1L359.2 909.1L363.9 909.1L368.5 909.1L373.1 909.1L377.7 909.1L382.3 909.1L386.9 909.1L391.5 909.1L396.1 909.1L400.7 909.1L405.3 909.1L409.9 909.1L414.5 909.1L419.1 909.1L423.7 909.1"/>
<path d="M135.1 910.5L136 910.5L137.1 899.7L138.4 894.8L139.7 890.8L141.5 886.3L143.7 881.9L145.9 878.5L148.1 875.7L150.3 873.5L152.5 871.8L154.7 870.5L156.9 869.7L159.1 869.1L161.3 868.9L163.5 869L165.7 869.4L167.9 870L170.1 870.8L172.3 871.8L174.5 873L176.7 874.3L178.9 875.8L181.1 877.4L183.3 879.2L185.5 881L187.7 883L189.9 885L192.1 887L194.3 889.2L196.5 891.4L198.7 893.6L200.9 895.8L203.1 898.1L205.3 900.4L207.5 902.7L209.7 905L211.9 907.3L214.1 909.5L216.3 910.1L218.5 910.1L220.7 910L222.9 909.9L225.1 909.9L227.3 909.8L229.5 909.7L231.7 909.7L233.9 909.6L236.1 909.5L238.3 909.5L240.5 909.4L244.1 909.3L248.7 909.1L253.3 909.1L257.9 909.1L262.5 909.1L267.1 909.1L271.8 909.1L276.4 909.1L281 909.1L285.6 909.1L290.2 909.1L294.8 909.1L299.4 909.1L304 909.1L308.6 909.1L313.2 909.1L317.8 909.1L322.4 909.1L327 909.1L331.6 909.1L336.2 909.1L340.8 909.1L345.4 909.1L350 909.1L354.6 909.1L359.2 909.1L363.9 909.1L368.5 909.1L373.1 909.1L377.7 909.1L382.3 909.1L386.9 909.1L391.5 909.1L396.1 909.1L400.7 909.1L405.3 909.1L409.9 909.1L414.5 909.1L419.1 909.1L423.7 909.1"/>
<path d="M135.1 910.5L136 910.5L137.1 895.9L138.4 890.2L139.7 885.9L141.5 881.1L143.7 876.8L145.9 873.5L148.1 871.1L150.3 869.2L152.5 867.9L154.7 867.1L156.9 866.6L159.1 866.5L161.3 866.6L163.5 867.1L165.7 867.7L167.9 868.6L170.1 869.6L172.3 870.9L174.5 872.2L176.7 873.7L178.9 875.3L181.1 877L183.3 878.8L185.5 880.7L187.7 882.6L189.9 884.6L192.1 886.6L194.3 888.7L196.5 890.8L198.7 892.9L200.9 895.1L203.1 897.2L205.3 899.4L207.5 901.5L209.7 903.7L211.9 905.8L214.1 907.9L216.3 910L218.5 910.1L220.7 910L222.9 909.9L225.1 909.9L227.3 909.8L229.5 909.7L231.7 909.7L233.9 909.6L236.1 909.5L238.3 909.5L240.5 909.4L244.1 909.3L248.7 909.1L253.3 909.1L257.9 909.1L262.5 909.1L267.1 909.1L271.8 909.1L276.4 909.1L281 909.1L285.6 909.1L290.2 909.1L294.8 909.1L299.4 909.1L304 909.1L308.6 909.1L313.2 909.1L317.8 909.1L322.4 909.1L327 909.1L331.6 909.1L336.2 909.1L340.8 909.1L345.4 909.1L350 909.1L354.6 909.1L359.2 909.1L363.9 909.1L368.5 909.1L373.1 909.1L377.7 909.1L382.3 909.1L386.9 909.1L391.5 909.1L396.1 909.1L400.7 909.1L405.3 909.1L409.9 909.1L414.5 909.1L419.1 909.1L423.7 909.1"/>
<path d="M135.1 910.5L136 910.5L137.1 900.8L138.4 896.1L139.7 892.2L141.5 887.6L143.7 883.1L145.9 879.3L148.1 876.2L150.3 873.5L152.5 871.4L154.7 869.6L156.9 868.2L159.1 867.2L161.3 866.4L163.5 865.9L165.7 865.7L167.9 865.8L170.1 866L172.3 866.5L174.5 867.2L176.7 868L178.9 869L181.1 870.2L183.3 871.5L185.5 872.9L187.7 874.5L189.9 876.1L192.1 877.9L194.3 879.7L196.5 881.6L198.7 883.6L200.9 885.7L203.1 887.8L205.3 889.9L207.5 892.1L209.7 894.3L211.9 896.6L214.1 898.8L216.3 901.1L218.5 903.4L220.7 905.6L222.9 907.9L225.1 909.9L227.3 909.8L229.5 909.7L231.7 909.7L233.9 909.6L236.1 909.5L238.3 909.5L240.5 909.4L244.1 909.3L248.7 909.1L253.3 909.1L257.9 909.1L262.5 909.1L267.1 909.1L271.8 909.1L276.4 909.1L281 909.1L285.6 909.1L290.2 909.1L294.8 909.1L299.4 909.1L304 909.1L308.6 909.1L313.2 909.1L317.8 909.1L322.4 909.1L327 909.1L331.6 909.1L336.2 909.1L340.8 909.1L345.4 909.1L350 909.1L354.6 909.1L359.2 909.1L363.9 909.1L368.5 909.1L373.1 909.1L377.7 909.1L382.3 909.1L386.9 909.1L391.5 909.1L396.1 909.1L400.7 909.1L405.3 909.1L409.9 909.1L414.5 909.1L419.1 909.1L423.7 909.1"/>
<path d="M135.1 910.5L136 910.5L137.1 899.9L138.4 894.8L139.7 890.6L141.5 885.6L143.7 880.8L145.9 876.7L148.1 873.3L150.3 870.6L152.5 868.3L154.7 866.4L156.9 865L159.1 863.9L161.3 863.2L163.5 862.8L165.7 862.7L167.9 862.8L170.1 863.2L172.3 863.8L174.5 864.6L176.7 865.6L178.9 866.8L181.1 868.1L183.3 869.6L185.5 871.3L187.7 873L189.9 874.9L192.1 876.9L194.3 878.9L196.5 881.1L198.7 883.3L200.9 885.6L203.1 887.9L205.3 890.3L207.5 892.7L209.7 895.1L211.9 897.6L214.1 900.1L216.3 902.5L218.5 905L220.7 907.5L222.9 909.9L225.1 909.9L227.3 909.8L229.5 909.7L231.7 909.7L233.9 909.6L236.1 909.5L238.3 909.5L240.5 909.4L244.1 909.3L248.7 909.1L253.3 909.1L257.9 909.1L262.5 909.1L267.1 909.1L271.8 909.1L276.4 909.1L281 909.1L285.6 909.1L290.2 909.1L294.8 909.1L299.4 909.1L304 909.1L308.6 909.1L313.2 909.1L317.8 909.1L322.4 909.1L327 909.1L331.6 909.1L336.2 909.1L340.8 909.1L345.4 909.1L350 909.1L354.6 909.1L359.2 909.1L363.9 909.1L368.5 909.1L373.1 909.1L377.7 909.1L382.3 909.1L386.9 909.1L391.5 909.1L396.1 909.1L400.7 909.1L405.3 909.1L409.9 909.1L414.5 909.1L419.1 909.1L423.7 909.1"/>
<path d="M135.1 910.5L136 910.5L137.1 898.2L138.4 892.5L139.7 887.9L141.5 882.6L143.7 877.6L145.9 873.5L148.1 870.2L150.3 867.7L152.5 865.6L154.7 864.1L156.9 863.1L159.1 862.4L161.3 862.1L163.5 862.2L165.7 862.5L167.9 863.2L170.1 864.1L172.3 865.2L174.5 866.5L176.7 868L178.9 869.7L181.1 871.5L183.3 873.5L185.5 875.6L187.7 877.8L189.9 880.1L192.1 882.5L194.3 885L196.5 887.5L198.7 890.1L200.9 892.7L203.1 895.3L205.3 898L207.5 900.6L209.7 903.3L211.9 905.9L214.1 908.6L216.3 910.1L218.5 910.1L220.7 910L222.9 909.9L225.1 909.9L227.3 909.8L229.5 909.7L231.7 909.7L233.9 909.6L236.1 909.5L238.3 909.5L240.5 909.4L244.1 909.3L248.7 909.1L253.3 909.1L257.9 909.1L262.5 909.1L267.1 909.1L271.8 909.1L276.4 909.1L281 909.1L285.6 909.1L290.2 909.1L294.8 909.1L299.4 909.1L304 909.1L308.6 909.1L313.2 909.1L317.8 909.1L322.4 909.1L327 909.1L331.6 909.1L336.2 909.1L340.8 909.1L345.4 909.1L350 909.1L354.6 909.1L359.2 909.1L363.9 909.1L368.5 909.1L373.1 909.1L377.7 909.1L382.3 909.1L386.9 909.1L391.5 909.1L396.1 909.1L400.7 909.1L405.3 909.1L409.9 909.1L414.5 909.1L419.1 909.1L423.7 909.1"/>
<path d="M135.1 910.5L136 910.5L137.1 895L138.4 888.8L139.7 884L141.5 878.7L143.7 873.8L145.9 869.9L148.1 867L150.3 864.7L152.5 862.9L154.7 861.7L156.9 860.9L159.1 860.5L161.3 860.3L163.5 860.5L165.7 861L167.9 861.6L170.1 862.5L172.3 863.6L174.5 864.9L176.7 866.3L178.9 867.8L181.1 869.5L183.3 871.2L185.5 873.1L187.7 875.1L189.9 877.1L192.1 879.2L194.3 881.4L196.5 883.6L198.7 885.8L200.9 888.1L203.1 890.4L205.3 892.7L207.5 895L209.7 897.4L211.9 899.7L214.1 902L216.3 904.4L218.5 906.7L220.7 909L222.9 909.9L225.1 909.9L227.3 909.8L229.5 909.7L231.7 909.7L233.9 909.6L236.1 909.5L238.3 909.5L240.5 909.4L244.1 909.3L248.7 909.1L253.3 909.1L257.9 909.1L262.5 909.1L267.1 909.1L271.8 909.1L276.4 909.1L281 909.1L285.6 909.1L290.2 909.1L294.8 909.1L299.4 909.1L304 909.1L308.6 909.1L313.2 909.1L317.8 909.1L322.4 909.1L327 909.1L331.6 909.1L336.2 909.1L340.8 909.1L345.4 909.1L350 909.1L354.6 909.1L359.2 909.1L363.9 909.1L368.5 909.1L373.1 909.1L377.7 909.1L382.3 909.1L386.9 909.1L391.5 909.1L396.1 909.1L400.7 909.1L405.3 909.1L409.9 909.1L414.5 909.1L419.1 909.1L423.7 909.1"/>
<path d="M135.1 910.5L136 910.5L137.1 881.3L138.4 854.3L139.7 851.6L141.5 851.1L143.7 850.7L145.9 850.5L148.1 850.5L150.3 850.6L152.5 851L154.7 851.5L156.9 852.1L159.1 853L161.3 854.4L163.5 856.3L165.7 860.5L167.9 867.1L170.1 875.1L172.3 883.1L174.5 889.8L176.7 894.6L178.9 899.4L181.1 903.8L183.3 907.2L185.5 909.1L187.7 909.3L189.9 909.3L192.1 909.3L194.3 909.3L196.5 909.3L198.7 909.3L200.9 909.3L203.1 909.3L205.3 909.3L207.5 909.3L209.7 909.3L211.9 909.3L214.1 909.3L216.3 909.3L218.5 909.3L220.7 909.3L222.9 909.3L225.1 909.3L227.3 909.3L229.5 909.3L231.7 909.3L233.9 909.3L236.1 909.3L238.3 909.3L240.5 909.3L244.1 909.3L248.7 909.3L253.3 909.3L257.9 909.3L262.5 909.3L267.1 909.3L271.8 909.3L276.4 909.3L281 909.3L285.6 909.3L290.2 909.3L294.8 909.3L299.4 909.3L304 909.3L308.6 909.3L313.2 909.3L317.8 909.3L322.4 909.3L327 909.2L331.6 909.2L336.2 909.2L340.8 909.2L345.4 909.2L350 909.2L354.6 909.2L359.2 909.2L363.9 909.2L368.5 909.2L373.1 909.1L377.7 909.1L382.3 909.1L386.9 909.1L391.5 909.1L396.1 909.1L400.7 909.1L405.3 909L409.9 909L414.5 909L419.1 909L423.7 909"/>
<path d="M135.1 910.5L136 910.5L137.1 889.2L138.4 869.6L139.7 865.3L141.5 862.7L143.7 860.8L145.9 859L148.1 857L150.3 855.7L152.5 855.7L154.7 856.9L156.9 858.6L159.1 860.6L161.3 863.5L163.5 867.2L165.7 871.4L167.9 875.9L170.1 880.7L172.3 885.4L174.5 889.8L176.7 893.9L178.9 897.4L181.1 900.2L183.3 903L185.5 905.7L187.7 907.9L189.9 909.1L192.1 909.3L194.3 909.3L196.5 909.3L198.7 909.3L200.9 909.3L203.1 909.3L205.3 909.3L207.5 909.3L209.7 909.3L211.9 909.3L214.1 909.3L216.3 909.3L218.5 909.3L220.7 909.3L222.9 909.3L225.1 909.3L227.3 909.3L229.5 909.3L231.7 909.3L233.9 909.3L236.1 909.3L238.3 909.3L240.5 909.3L244.1 909.3L248.7 909.3L253.3 909.3L257.9 909.3L262.5 909.3L267.1 909.3L271.8 909.3L276.4 909.3L281 909.3L285.6 909.3L290.2 909.3L294.8 909.3L299.4 909.3L304 909.3L308.6 909.3L313.2 909.3L317.8 909.3L322.4 909.3L327 909.2L331.6 909.2L336.2 909.2L340.8 909.2L345.4 909.2L350 909.2L354.6 909.2L359.2 909.2L363.9 909.2L368.5 909.2L373.1 909.1L377.7 909.1L382.3 909.1L386.9 909.1L391.5 909.1L396.1 909.1L400.7 909.1L405.3 909L409.9 909L414.5 909L419.1 909L423.7 909"/>
<path d="M135.1 910.5L136 910.5L137.1 877.1L138.4 846.2L139.7 843.9L141.5 844.8L143.7 846.7L145.9 848.7L148.1 851.2L150.3 854L152.5 856.3L154.7 857.6L156.9 858.7L159.1 860.2L161.3 862.5L163.5 865.5L165.7 869.1L167.9 873.1L170.1 877.4L172.3 881.8L174.5 886.2L176.7 890.3L178.9 894.1L181.1 897.4L183.3 900.1L185.5 902.8L187.7 905.3L189.9 907.5L192.1 909L194.3 909.3L196.5 909.3L198.7 909.3L200.9 909.3L203.1 909.3L205.3 909.3L207.5 909.3L209.7 909.3L211.9 909.3L214.1 909.3L216.3 909.3L218.5 909.3L220.7 909.3L222.9 909.3L225.1 909.3L227.3 909.3L229.5 909.3L231.7 909.3L233.9 909.3L236.1 909.3L238.3 909.3L240.5 909.3L244.1 909.3L248.7 909.3L253.3 909.3L257.9 909.3L262.5 909.3L267.1 909.3L271.8 909.3L276.4 909.3L281 909.3L285.6 909.3L290.2 909.3L294.8 909.3L299.4 909.3L304 909.3L308.6 909.3L313.2 909.3L317.8 909.3L322.4 909.3L327 909.2L331.6 909.2L336.2 909.2L340.8 909.2L345.4 909.2L350 909.2L354.6 909.2L359.2 909.2L363.9 909.2L368.5 909.2L373.1 909.2L377.7 909.1L382.3 909.1L386.9 909.1L391.5 909.1L396.1 909.1L400.7 909.1L405.3 909L409.9 909L414.5 909L419.1 909L423.7 909"/>
<path d="M135.1 910.5L136 910.5L137.1 879.6L138.4 850.9L139.7 848.7L141.5 849.2L143.7 850.3L145.9 851.7L148.1 853.8L150.3 856L152.5 857.4L154.7 858.6L156.9 859.9L159.1 861.8L161.3 864L163.5 866.7L165.7 869.6L167.9 872.8L170.1 876.1L172.3 879.5L174.5 883L176.7 886.4L178.9 889.8L181.1 893L183.3 895.9L185.5 898.6L187.7 900.8L189.9 902.9L192.1 905L194.3 907L196.5 908.5L198.7 909.3L200.9 909.3L203.1 909.3L205.3 909.3L207.5 909.3L209.7 909.3L211.9 909.3L214.1 909.3L216.3 909.3L218.5 909.3L220.7 909.3L222.9 909.3L225.1 909.3L227.3 909.3L229.5 909.3L231.7 909.3L233.9 909.3L236.1 909.3L238.3 909.3L240.5 909.3L244.1 909.3L248.7 909.3L253.3 909.3L257.9 909.3L262.5 909.3L267.1 909.3L271.8 909.3L276.4 909.3L281 909.3L285.6 909.3L290.2 909.3L294.8 909.3L299.4 909.3L304 909.3L308.6 909.3L313.2 909.3L317.8 909.3L322.4 909.3L327 909.3L331.6 909.2L336.2 909.2L340.8 909.2L345.4 909.2L350 909.2L354.6 909.2L359.2 909.2L363.9 909.2L368.5 909.2L373.1 909.2L377.7 909.1L382.3 909.1L386.9 909.1L391.5 909.1L396.1 909.1L400.7 909.1L405.3 909L409.9 909L414.5 909L419.1 909L423.7 909"/>
<path d="M135.1 910.5L136 910.5L137.1 885.9L138.4 863.2L139.7 859L141.5 856.7L143.7 855.3L145.9 853.8L148.1 852.7L150.3 852.7L152.5 854L154.7 855.8L156.9 857.7L159.1 859.8L161.3 862.2L163.5 864.9L165.7 867.8L167.9 870.9L170.1 874L172.3 877.3L174.5 880.6L176.7 883.9L178.9 887.1L181.1 890.2L183.3 893.2L185.5 896L187.7 898.5L189.9 900.7L192.1 902.6L194.3 904.7L196.5 906.7L198.7 908.3L200.9 909.2L203.1 909.3L205.3 909.3L207.5 909.3L209.7 909.3L211.9 909.3L214.1 909.3L216.3 909.3L218.5 909.3L220.7 909.3L222.9 909.3L225.1 909.3L227.3 909.3L229.5 909.3L231.7 909.3L233.9 909.3L236.1 909.3L238.3 909.3L240.5 909.3L244.1 909.3L248.7 909.3L253.3 909.3L257.9 909.3L262.5 909.3L267.1 909.3L271.8 909.3L276.4 909.3L281 909.3L285.6 909.3L290.2 909.3L294.8 909.3L299.4 909.3L304 909.3L308.6 909.3L313.2 909.3L317.8 909.3L322.4 909.3L327 909.3L331.6 909.2L336.2 909.2L340.8 909.2L345.4 909.2L350 909.2L354.6 909.2L359.2 909.2L363.9 909.2L368.5 909.2L373.1 909.2L377.7 909.1L382.3 909.1L386.9 909.1L391.5 909.1L396.1 909.1L400.7 909.1L405.3 909L409.9 909L414.5 909L419.1 909L423.7 909"/>
<path d="M135.1 910.5L136 910.5L137.1 885L138.4 861.4L139.7 857.7L141.5 855.9L143.7 854.7L145.9 853.9L148.1 853.1L150.3 852.5L152.5 852.5L154.7 853.7L156.9 855.5L159.1 857.3L161.3 859.2L163.5 861.5L165.7 863.9L167.9 866.6L170.1 869.4L172.3 872.3L174.5 875.3L176.7 878.3L178.9 881.4L181.1 884.4L183.3 887.4L185.5 890.3L187.7 893.1L189.9 895.7L192.1 898.1L194.3 900.3L196.5 902.2L198.7 904L200.9 905.9L203.1 907.6L205.3 908.9L207.5 909.3L209.7 909.3L211.9 909.3L214.1 909.3L216.3 909.3L218.5 909.3L220.7 909.3L222.9 909.3L225.1 909.3L227.3 909.3L229.5 909.3L231.7 909.3L233.9 909.3L236.1 909.3L238.3 909.3L240.5 909.3L244.1 909.3L248.7 909.3L253.3 909.3L257.9 909.3L262.5 909.3L267.1 909.3L271.8 909.3L276.4 909.3L281 909.3L285.6 909.3L290.2 909.3L294.8 909.3L299.4 909.3L304 909.3L308.6 909.3L313.2 909.3L317.8 909.3L322.4 909.3L327 909.3L331.6 909.3L336.2 909.2L340.8 909.2L345.4 909.2L350 909.2L354.6 909.2L359.2 909.2L363.9 909.2L368.5 909.2L373.1 909.2L377.7 909.1L382.3 909.1L386.9 909.1L391.5 909.1L396.1 909.1L400.7 909.1L405.3 909.1L409.9 909L414.5 909L419.1 909L423.7 909"/>
<path d="M135.1 910.5L136 910.5L137.1 879.9L138.4 851.6L139.7 849.4L141.5 849.6L143.7 850.1L145.9 850.8L148.1 852.1L150.3 853.8L152.5 855.3L154.7 856.6L156.9 857.9L159.1 859.4L161.3 861.2L163.5 863.3L165.7 865.5L167.9 867.9L170.1 870.4L172.3 873.1L174.5 875.8L176.7 878.6L178.9 881.4L181.1 884.2L183.3 887L185.5 889.7L187.7 892.3L189.9 894.8L192.1 897.1L194.3 899.3L196.5 901.2L198.7 903L200.9 904.7L203.1 906.5L205.3 908L207.5 909L209.7 909.3L211.9 909.3L214.1 909.3L216.3 909.3L218.5 909.3L220.7 909.3L222.9 909.3L225.1 909.3L227.3 909.3L229.5 909.3L231.7 909.3L233.9 909.3L236.1 909.3L238.3 909.3L240.5 909.3L244.1 909.3L248.7 909.3L253.3 909.3L257.9 909.3L262.5 909.3L267.1 909.3L271.8 909.3L276.4 909.3L281 909.3L285.6 909.3L290.2 909.3L294.8 909.3L299.4 909.3L304 909.3L308.6 909.3L313.2 909.3L317.8 909.3L322.4 909.3L327 909.3L331.6 909.3L336.2 909.2L340.8 909.2L345.4 909.2L350 909.2L354.6 909.2L359.2 909.2L363.9 909.2L368.5 909.2L373.1 909.2L377.7 909.1L382.3 909.1L386.9 909.1L391.5 909.1L396.1 909.1L400.7 909.1L405.3 909.1L409.9 909L414.5 909L419.1 909L423.7 909"/>
<path d="M135.1 910.5L136 910.5L137.1 882.1L138.4 855.7L139.7 853.3L141.5 853L143.7 852.8L145.9 852.8L148.1 853.2L150.3 854.1L152.5 855.2L154.7 856.3L156.9 857.6L159.1 859.1L161.3 860.8L163.5 862.6L165.7 864.6L167.9 866.7L170.1 868.9L172.3 871.2L174.5 873.6L176.7 876L178.9 878.5L181.1 881L183.3 883.5L185.5 886L187.7 888.4L189.9 890.8L192.1 893.1L194.3 895.3L196.5 897.4L198.7 899.4L200.9 901.2L203.1 902.8L205.3 904.3L207.5 905.9L209.7 907.5L211.9 908.6L214.1 909.3L216.3 909.3L218.5 909.3L220.7 909.3L222.9 909.3L225.1 909.3L227.3 909.3L229.5 909.3L231.7 909.3L233.9 909.3L236.1 909.3L238.3 909.3L240.5 909.3L244.1 909.3L248.7 909.3L253.3 909.3L257.9 909.3L262.5 909.3L267.1 909.3L271.8 909.3L276.4 909.3L281 909.3L285.6 909.3L290.2 909.3L294.8 909.3L299.4 909.3L304 909.3L308.6 909.3L313.2 909.3L317.8 909.3L322.4 909.3L327 909.3L331.6 909.3L336.2 909.2L340.8 909.2L345.4 909.2L350 909.2L354.6 909.2L359.2 909.2L363.9 909.2L368.5 909.2L373.1 909.2L377.7 909.2L382.3 909.1L386.9 909.1L391.5 909.1L396.1 909.1L400.7 909.1L405.3 909.1L409.9 909L414.5 909L419.1 909L423.7 909"/>
<path d="M135.1 910.5L136 910.5L137.1 877.8L138.4 847.4L139.7 845.1L141.5 845.7L143.7 847L145.9 848.6L148.1 850.9L150.3 853.2L152.5 854.7L154.7 856L156.9 857.3L159.1 858.9L161.3 860.6L163.5 862.4L165.7 864.3L167.9 866.3L170.1 868.3L172.3 870.4L174.5 872.6L176.7 874.8L178.9 877L181.1 879.2L183.3 881.4L185.5 883.6L187.7 885.8L189.9 888L192.1 890.1L194.3 892.1L196.5 894.1L198.7 896L200.9 897.9L203.1 899.6L205.3 901.2L207.5 902.7L209.7 904.1L211.9 905.5L214.1 907L216.3 908.2L218.5 909.1L220.7 909.3L222.9 909.3L225.1 909.3L227.3 909.3L229.5 909.3L231.7 909.3L233.9 909.3L236.1 909.3L238.3 909.3L240.5 909.3L244.1 909.3L248.7 909.3L253.3 909.3L257.9 909.3L262.5 909.3L267.1 909.3L271.8 909.3L276.4 909.3L281 909.3L285.6 909.3L290.2 909.3L294.8 909.3L299.4 909.3L304 909.3L308.6 909.3L313.2 909.3L317.8 909.3L322.4 909.3L327 909.3L331.6 909.3L336.2 909.3L340.8 909.2L345.4 909.2L350 909.2L354.6 909.2L359.2 909.2L363.9 909.2L368.5 909.2L373.1 909.2L377.7 909.2L382.3 909.1L386.9 909.1L391.5 909.1L396.1 909.1L400.7 909.1L405.3 909.1L409.9 909L414.5 909L419.1 909L423.7 909"/>
<path d="M135.1 910.5L136 910.5L137.1 909.3L138.4 908.8L139.7 908.4L141.5 908L143.7 907.7L145.9 907.4L148.1 907.3L150.3 907.2L152.5 907.1L154.7 907.2L156.9 907.2L159.1 907.3L161.3 907.4L163.5 907.6L165.7 907.7L167.9 907.9L170.1 908.1L172.3 908.3L174.5 908.5L176.7 908.8L178.9 909L181.1 909.2L183.3 909.5L185.5 909.7L187.7 909.9L189.9 910.2L192.1 910.4L194.3 910.5L196.5 910.5L198.7 910.5L200.9 910.5L203.1 910.5L205.3 910.5L207.5 910.4L209.7 910.3L211.9 910.3L214.1 910.2L216.3 910.1L218.5 910.1L220.7 910L222.9 909.9L225.1 909.9L227.3 909.8L229.5 909.7L231.7 909.7L233.9 909.6L236.1 909.5L238.3 909.5L240.5 909.4L244.1 909.3L248.7 909.1L253.3 909.1L257.9 909.1L262.5 909.1L267.1 909.1L271.8 909.1L276.4 909.1L281 909.1L285.6 909.1L290.2 909.1L294.8 909.1L299.4 909.1L304 909.1L308.6 909.1L313.2 909.1L317.8 909.1L322.4 909.1L327 909.1L331.6 909.1L336.2 909.1L340.8 909.1L345.4 909.1L350 909.1L354.6 909.1L359.2 909.1L363.9 909.1L368.5 909.1L373.1 909.1L377.7 909.1L382.3 909.1L386.9 909.1L391.5 909.1L396.1 909.1L400.7 909.1L405.3 909.1L409.9 909.1L414.5 909.1L419.1 909.1L423.7 909.1"/>
<path d="M135.1 910.5L136 910.5L137.1 908.1L138.4 907.1L139.7 906.3L141.5 905.4L143.7 904.6L145.9 904.1L148.1 903.6L150.3 903.3L152.5 903.1L154.7 902.9L156.9 902.9L159.1 902.9L161.3 902.9L163.5 903L165.7 903.2L167.9 903.4L170.1 903.6L172.3 903.9L174.5 904.2L176.7 904.5L178.9 904.8L181.1 905.2L183.3 905.6L185.5 906L187.7 906.4L189.9 906.8L192.1 907.2L194.3 907.6L196.5 908L198.7 908.4L200.9 908.9L203.1 909.3L205.3 909.7L207.5 910.2L209.7 910.3L211.9 910.3L214.1 910.2L216.3 910.1L218.5 910.1L220.7 910L222.9 909.9L225.1 909.9L227.3 909.8L229.5 909.7L231.7 909.7L233.9 909.6L236.1 909.5L238.3 909.5L240.5 909.4L244.1 909.3L248.7 909.1L253.3 909.1L257.9 909.1L262.5 909.1L267.1 909.1L271.8 909.1L276.4 909.1L281 909.1L285.6 909.1L290.2 909.1L294.8 909.1L299.4 909.1L304 909.1L308.6 909.1L313.2 909.1L317.8 909.1L322.4 909.1L327 909.1L331.6 909.1L336.2 909.1L340.8 909.1L345.4 909.1L350 909.1L354.6 909.1L359.2 909.1L363.9 909.1L368.5 909.1L373.1 909.1L377.7 909.1L382.3 909.1L386.9 909.1L391.5 909.1L396.1 909.1L400.7 909.1L405.3 909.1L409.9 909.1L414.5 909.1L419.1 909.1L423.7 909.1"/>
<path d="M135.1 910.5L136 910.5L137.1 906.3L138.4 904.5L139.7 903.1L141.5 901.6L143.7 900.2L145.9 899.1L148.1 898.2L150.3 897.6L152.5 897.1L154.7 896.8L156.9 896.6L159.1 896.5L161.3 896.5L163.5 896.6L165.7 896.7L167.9 897L170.1 897.3L172.3 897.6L174.5 898.1L176.7 898.5L178.9 899L181.1 899.6L183.3 900.1L185.5 900.7L187.7 901.3L189.9 902L192.1 902.6L194.3 903.3L196.5 904L198.7 904.7L200.9 905.4L203.1 906.1L205.3 906.8L207.5 907.6L209.7 908.3L211.9 909L214.1 909.7L216.3 910.1L218.5 910.1L220.7 910L222.9 909.9L225.1 909.9L227.3 909.8L229.5 909.7L231.7 909.7L233.9 909.6L236.1 909.5L238.3 909.5L240.5 909.4L244.1 909.3L248.7 909.1L253.3 909.1L257.9 909.1L262.5 909.1L267.1 909.1L271.8 909.1L276.4 909.1L281 909.1L285.6 909.1L290.2 909.1L294.8 909.1L299.4 909.1L304 909.1L308.6 909.1L313.2 909.1L317.8 909.1L322.4 909.1L327 909.1L331.6 909.1L336.2 909.1L340.8 909.1L345.4 909.1L350 909.1L354.6 909.1L359.2 909.1L363.9 909.1L368.5 909.1L373.1 909.1L377.7 909.1L382.3 909.1L386.9 909.1L391.5 909.1L396.1 909.1L400.7 909.1L405.3 909.1L409.9 909.1L414.5 909.1L419.1 909.1L423.7 909.1"/>
<path d="M135.1 910.5L136 910.5L137.1 904.6L138.4 902.2L139.7 900.3L141.5 898.2L143.7 896.2L145.9 894.6L148.1 893.4L150.3 892.4L152.5 891.7L154.7 891.2L156.9 890.8L159.1 890.6L161.3 890.6L163.5 890.6L165.7 890.8L167.9 891.1L170.1 891.4L172.3 891.9L174.5 892.4L176.7 893L178.9 893.6L181.1 894.3L183.3 895L185.5 895.8L187.7 896.6L189.9 897.4L192.1 898.3L194.3 899.2L196.5 900.1L198.7 901.1L200.9 902L203.1 903L205.3 903.9L207.5 904.9L209.7 905.9L211.9 906.8L214.1 907.8L216.3 908.8L218.5 909.7L220.7 910L222.9 909.9L225.1 909.9L227.3 909.8L229.5 909.7L231.7 909.7L233.9 909.6L236.1 909.5L238.3 909.5L240.5 909.4L244.1 909.3L248.7 909.1L253.3 909.1L257.9 909.1L262.5 909.1L267.1 909.1L271.8 909.1L276.4 909.1L281 909.1L285.6 909.1L290.2 909.1L294.8 909.1L299.4 909.1L304 909.1L308.6 909.1L313.2 909.1L317.8 909.1L322.4 909.1L327 909.1L331.6 909.1L336.2 909.1L340.8 909.1L345.4 909.1L350 909.1L354.6 909.1L359.2 909.1L363.9 909.1L368.5 909.1L373.1 909.1L377.7 909.1L382.3 909.1L386.9 909.1L391.5 909.1L396.1 909.1L400.7 909.1L405.3 909.1L409.9 909.1L414.5 909.1L419.1 909.1L423.7 909.1"/>
<path d="M135.1 910.5L136 910.5L137.1 902.9L138.4 899.8L139.7 897.3L141.5 894.6L143.7 892L145.9 889.9L148.1 888.3L150.3 887.1L152.5 886.1L154.7 885.4L156.9 884.9L159.1 884.6L161.3 884.5L163.5 884.5L165.7 884.7L167.9 885L170.1 885.4L172.3 886L174.5 886.6L176.7 887.3L178.9 888.1L181.1 888.9L183.3 889.8L185.5 890.8L187.7 891.8L189.9 892.9L192.1 894L194.3 895.1L196.5 896.2L198.7 897.4L200.9 898.6L203.1 899.8L205.3 901.1L207.5 902.3L209.7 903.5L211.9 904.8L214.1 906L216.3 907.2L218.5 908.5L220.7 909.7L222.9 909.9L225.1 909.9L227.3 909.8L229.5 909.7L231.7 909.7L233.9 909.6L236.1 909.5L238.3 909.5L240.5 909.4L244.1 909.3L248.7 909.1L253.3 909.1L257.9 909.1L262.5 909.1L267.1 909.1L271.8 909.1L276.4 909.1L281 909.1L285.6 909.1L290.2 909.1L294.8 909.1L299.4 909.1L304 909.1L308.6 909.1L313.2 909.1L317.8 909.1L322.4 909.1L327 909.1L331.6 909.1L336.2 909.1L340.8 909.1L345.4 909.1L350 909.1L354.6 909.1L359.2 909.1L363.9 909.1L368.5 909.1L373.1 909.1L377.7 909.1L382.3 909.1L386.9 909.1L391.5 909.1L396.1 909.1L400.7 909.1L405.3 909.1L409.9 909.1L414.5 909.1L419.1 909.1L423.7 909.1"/>
<path d="M135.1 910.5L136 906.6L136.9 861.8L137.1 856.1L137.8 846.5L138.7 839.4L139.7 832.1L140.6 821.5L141.5 811.2L141.9 808.3L142.4 804.6L143.3 799.2L144.2 796.9L145.2 797.4L146.1 798.5L147 800L147.5 800.9L147.9 801.5L148.8 803.1L175.4 893.4L180 908.1L191 909.3L423.7 908.9"/>
<path d="M135.1 910.5L136 906.6L136.9 857.5L137.1 851.3L137.8 840.4L138.7 832L139.7 825.2L140.6 818.2L141.5 812.2L141.9 810.1L142.4 806.7L143.3 801.4L144.2 798.9L145.2 799.4L146.1 800.5L147 801.9L147.5 802.8L147.9 803.4L148.8 805L176.9 894.4L181.4 908.1L192.4 909.3L423.7 908.9"/>
<path d="M135.1 910.5L136 906.6L136.9 862.7L137.1 857.2L137.8 847.5L138.7 840.1L139.7 833.7L140.6 826.3L141.5 819.7L141.9 817.5L142.4 814.3L143.3 809.4L144.2 807.2L145.2 807.6L146.1 808.7L147 810L147.5 810.8L147.9 811.3L148.8 812.7L179.1 896.3L183.6 908.1L194.6 909.3L423.7 908.9"/>
<path d="M135.1 910.5L136 906.6L136.9 863.7L137.1 858.2L137.8 848.6L138.7 841L139.7 835.3L140.6 829.8L141.5 825.3L141.9 823.6L142.4 820.8L143.3 816.1L144.2 813.9L145.2 814.3L146.1 815.3L147 816.5L147.5 817.3L147.9 817.8L148.8 819L182.2 898L186.8 908.1L197.8 909.3L423.7 908.9"/>
<path d="M135.1 910.5L136 902.6L137.1 733.1L137.8 658.9L138.6 673.9L140 725.2L141.9 778.4L143.7 796.2L147 803.3L177.2 902.6L181.8 908.1L192.8 909.3L423.7 908.9"/>
<path d="M135.6 910.5L136.5 902.6L137.6 733.1L138.3 705.5L139.1 673.9L140.5 725.2L142.4 778.4L144.2 796.2L147.5 803.3L177.7 902.6L182.3 908.1L193.3 909.3L424.2 908.9"/>
<path d="M420.1 908.6L422 907.8L423.9 908.2L425.9 908.9L427.8 908.7L429.7 908.2L431.7 908.7L433.6 908.5L435.6 908.4L437.5 908.6L439.4 908.8L441.4 909.1L443.3 909.1L445.2 909.1L447.2 908.6L449.1 908.9L451.1 909.3L453 908.8L454.9 908.9L456.9 908.4L458.8 908.7L460.7 908.6L462.7 908.3L464.6 908.8L466.6 908.1L468.5 908.2L470.4 909.2L472.4 909.5L474.3 909L476.2 908.7L478.2 908.4L480.1 908.2L482.1 908.1L484 908.7L485.9 908.9L487.9 909.1L489.8 909.4L491.7 909.2L493.7 909.8L495.6 909.1L497.6 908.5L499.5 908.3L501.4 908.5L503.4 908.9L505.3 908.2L507.2 907.9L509.2 908L511.1 908.3L513.1 908.7L515 909.1L516.9 908.7L518.9 908.5L520.8 909.3L522.7 909L524.7 908.5L526.6 908.6L528.6 908.7L530.5 908.9L532.4 909L534.4 909.6L536.3 910.1L538.2 909.7L540.2 909.1L542.1 908.3L544.1 908.5L546 909L547.9 908.6L549.9 908.6L551.8 908.7L553.7 908.5L555.7 909.1L557.6 909.1L559.6 908.6L561.5 909.1L563.4 909.5L565.4 909.6L567.3 908.8L569.2 907.7L571.2 907.9L573.1 908.1L575.1 908.7L577 908.8L578.9 907.7L580.9 907.6L582.8 908.6L584.7 908.7L586.7 908.5L588.6 908.5L590.6 908.6L592.5 909L594.4 909L596.4 908.8L598.3 908.7L600.2 908.4L602.2 908.1L604.1 908.4L606.1 908.6L608 908.9L609.9 908.9L611.9 908.5L613.8 908.5L615.7 908.6L617.7 908.7L619.6 908.8L621.6 909L623.5 909.6L625.4 909.2L627.4 908.4L629.3 908.9L631.2 908.4L633.2 908.5L635.1 908.8L637.1 908.3L639 908.6L640.9 908.3L642.9 908.1L644.8 908.4L646.7 909.1L648.7 909.5L650.6 909.1L652.6 908.1L654.5 907.9L656.4 908.4L658.4 908.6L660.3 908.4L662.2 907.9L664.2 908.4L666.1 908.7L668.1 908.4L670 908.9L671.9 909.3L673.9 908.6L675.8 908.2L677.7 908.7L679.7 908.7L681.6 908.3L683.6 908.3L685.5 908.1L687.4 908.2L689.4 909L691.3 909L693.2 909L695.2 909.1L697.1 908.4L699.1 907.7L701 907.9L702.9 908.4L704.9 908.9L706.8 909.3L708.7 908.9L710.7 908.5L712.6 908.8L714.6 909L716.5 908.3L718.4 907.8L720.4 908.3L722.3 908.6L724.2 908.2L726.2 908.1L728.1 908.4L730.1 909.1L732 909.7L733.9 909.8L735.9 910L737.8 909.4L739.7 908.5L741.7 908.8L743.6 908.8L745.6 908.3L747.5 908.5L749.4 909.1L751.4 908.6L753.3 907.7L755.3 908.4L757.2 908.2L759.1 908L761.1 908.9L763 909L764.9 909.3L766.9 909.3L768.8 909.2L770.8 908.8L772.7 908.1L774.6 908.9L776.6 908.9L778.5 909L780.4 909.1L782.4 908.4L784.3 908.4L786.3 908.9L788.2 909L790.1 908.7L792.1 908.6L794 908.1L795.9 907.5L797.9 907.5L799.8 908.3L801.8 909L803.7 908.8L805.6 908.4L807.6 909.1L809.5 909.4L811.4 908.2L813.4 908.4L815.3 909.2L817.3 909L819.2 908.6L821.1 908.4L823.1 908.7L825 909.1L826.9 908.8L828.9 908.3L830.8 908.8L832.8 908.7L834.7 908.3L836.6 908.8L838.6 909.5L840.5 909.4L842.4 909.1L844.4 909.8L846.3 909.7L848.3 908.4L850.2 908.3L852.1 908.3L854.1 909.1L856 909.5L857.9 908.1L859.9 907.5L861.8 908.1L863.8 908.7L865.7 908.2L867.6 908.1L869.6 908L871.5 908L873.4 907.9L875.4 907.5L877.3 907.3L879.3 907.5L881.2 908.4L883.1 908.7L885.1 908.9L887 908.9L888.9 908.5L890.9 908.4L892.8 908L894.8 908.8L896.7 909L898.6 908.1L900.6 908.6L902.5 908.2L904.4 908.1L906.4 907.9L908.3 907.4L910.3 907.9L912.2 908.1L914.1 908L916.1 908.5L918 909.1L919.9 909.4L921.9 908.9L923.8 908.5L925.8 908.4L927.7 908L929.6 908.7L931.6 908.6L933.5 908.1L935.4 908.3L937.4 908.2L939.3 908.3L941.3 908.4L943.2 908.1L945.1 908.4L947.1 909.1L949 909.1L950.9 908.3L952.9 908.2L954.8 907.9L956.8 908.8L958.7 909.7L960.6 908.8L962.6 908.5L964.5 907.9L966.4 908L968.4 908.8L970.3 908.5L972.3 907.6L974.2 908.7L976.1 909L978.1 908.1L980 908.6L981.9 908.8L983.9 908.4L985.8 908.3L987.8 908.5L989.7 908.8L991.6 908.7L993.6 908.5L995.5 908.6L997.4 908.5L999.4 908.5L1001.3 908.1L1003.3 908L1005.2 908.1L1007.1 908.6L1009.1 908.7L1011 908.1L1012.9 908.5L1014.9 908.6L1016.8 909.3L1018.8 909.2L1020.7 908.5L1022.6 909.2L1024.6 908.9L1026.5 908.4L1028.4 908.5L1030.4 908.3L1032.3 908.3L1034.3 908.2L1036.2 908.4L1038.1 908.3L1040.1 907.9L1042 908.8L1043.9 909.1L1045.9 908.5L1047.8 908.9L1049.8 908.3L1051.7 907.6L1053.6 908.3L1055.6 909L1057.5 908.4L1059.4 908.3L1061.4 908.6L1063.3 909.1L1065.3 909L1067.2 908L1069.1 908.1L1071.1 908.4L1073 907.6L1074.9 907L1076.9 906.9L1078.8 906.7L1080.8 906.5L1082.7 907.3L1084.6 908.1L1086.6 908.4L1088.5 907.7L1090.4 907.3L1092.4 908.2L1094.3 908.5L1096.3 908.8L1098.2 909.5L1100.1 908.5L1102.1 907.6L1104 908.3L1106 908.7L1107.9 908.7L1109.8 908.2L1111.8 908.2L1113.7 908.1L1115.6 908.3L1117.6 908.4L1119.5 907.9L1121.5 907.8L1123.4 907.9L1125.3 908.2L1127.3 908.6L1129.2 908.4L1131.1 908.2L1133.1 908.7L1135 908.3L1137 908.5L1138.9 908.9L1140.8 908.2L1142.8 907.7L1144.7 908L1146.6 908.3L1148.6 908L1150.5 908.1L1152.5 908.5L1154.4 908.3L1156.3 908L1158.3 908.1L1160.2 907.8L1162.1 907.7L1164.1 908.3L1166 908.3L1168 907.5L1169.9 907.8L1171.8 908.5L1173.8 908.5L1175.7 908.3L1177.6 908.5L1179.6 908.5L1181.5 907.8L1183.5 908.2L1185.4 908.7L1187.3 908.9L1189.3 908.7L1191.2 908.5L1193.1 908.8L1195.1 908.5L1197 908.5L1199 908.1L1200.9 907.4L1202.8 908.3L1204.8 909.1L1206.7 908.3L1208.6 908.4L1210.6 908.7L1212.5 908.3L1214.5 907.6L1216.4 907.3L1218.3 907.9L1220.3 908.2L1222.2 908.2L1224.1 908.3L1226.1 908.6L1228 909.1L1230 908.8L1231.9 907.9"/>
<path d="M420.1 908.7L422 908.6L423.9 908.8L425.9 908.6L427.8 909.2L429.7 909.2L431.7 908.7L433.6 908.3L435.6 908.2L437.5 909L439.4 909.2L441.4 909.3L443.3 909.6L445.2 909.2L447.2 909L449.1 908.8L451.1 908.6L453 908.9L454.9 909L456.9 908.7L458.8 909L460.7 909.5L462.7 909.3L464.6 908.8L466.6 908.7L468.5 908.8L470.4 909.1L472.4 908.9L474.3 908.4L476.2 908.1L478.2 907.3L480.1 907.5L482.1 907.4L484 908.4L485.9 909.1L487.9 908.6L489.8 908.5L491.7 908.6L493.7 909L495.6 909L497.6 909.8L499.5 909.2L501.4 908.5L503.4 909L505.3 908.5L507.2 908.3L509.2 908.6L511.1 908.9L513.1 909.7L515 909.4L516.9 909.4L518.9 909.2L520.8 909.6L522.7 909.7L524.7 909.2L526.6 909.6L528.6 909.3L530.5 909L532.4 909.3L534.4 908.9L536.3 908.6L538.2 908.8L540.2 908.4L542.1 908.6L544.1 908.8L546 908.9L547.9 909L549.9 908.6L551.8 909L553.7 909.7L555.7 910L557.6 909.8L559.6 909.1L561.5 908.9L563.4 909.2L565.4 908.9L567.3 908.6L569.2 908.3L571.2 908.7L573.1 909L575.1 908.6L577 909.1L578.9 909.3L580.9 909.3L582.8 909.4L584.7 908.9L586.7 909.4L588.6 909.9L590.6 909.6L592.5 909.2L594.4 909.2L596.4 909.1L598.3 909.1L600.2 909.5L602.2 908.9L604.1 908.7L606.1 908.8L608 908.9L609.9 908.6L611.9 908.1L613.8 908.6L615.7 909.3L617.7 909.6L619.6 908.7L621.6 908.7L623.5 909.7L625.4 909.3L627.4 908.5L629.3 909L631.2 909.4L633.2 909.5L635.1 909.7L637.1 908.6L639 908.3L640.9 909L642.9 909L644.8 908.8L646.7 908.9L648.7 909.4L650.6 909.8L652.6 908.6L654.5 908.5L656.4 908.8L658.4 908.8L660.3 908.7L662.2 908.2L664.2 908.8L666.1 908.3L668.1 908.5L670 909.3L671.9 909.3L673.9 909.5L675.8 909.3L677.7 909.4L679.7 909.4L681.6 908.5L683.6 909L685.5 909.9L687.4 909.7L689.4 909.4L691.3 908.7L693.2 908.3L695.2 908.5L697.1 908.7L699.1 908L701 908.4L702.9 909.7L704.9 909.3L706.8 908.8L708.7 908.9L710.7 909.3L712.6 909.6L714.6 909.4L716.5 909.2L718.4 909.3L720.4 909.4L722.3 908.8L724.2 908.2L726.2 908.1L728.1 908.4L730.1 909L732 908.9L733.9 908.9L735.9 908.9L737.8 909L739.7 909.6L741.7 909.6L743.6 908.7L745.6 909.3L747.5 909.6L749.4 908.8L751.4 908.2L753.3 908.4L755.3 908.7L757.2 908.1L759.1 907.8L761.1 908.5L763 909.2L764.9 908.7L766.9 908.4L768.8 908.9L770.8 909.1L772.7 908.8L774.6 908.8L776.6 909L778.5 909L780.4 909.4L782.4 908.7L784.3 907.7L786.3 907.7L788.2 908L790.1 908.3L792.1 907.7L794 907.2L795.9 908L797.9 908.3L799.8 908.2L801.8 908.7L803.7 908.8L805.6 908.3L807.6 908L809.5 908.6L811.4 908.3L813.4 908.3L815.3 909.1L817.3 909.1L819.2 909L821.1 908.9L823.1 908.5L825 908.5L826.9 908.8L828.9 908.4L830.8 908.3L832.8 908.3L834.7 908.4L836.6 909.2L838.6 909.6L840.5 909.7L842.4 908.9L844.4 908.2L846.3 908.8L848.3 909.3L850.2 909L852.1 908.7L854.1 908.7L856 908.9L857.9 909.4L859.9 908.6L861.8 908.5L863.8 909.1L865.7 908.3L867.6 908.9L869.6 909.1L871.5 908.5L873.4 908.8L875.4 908.7L877.3 909L879.3 909.9L881.2 908.8L883.1 908.2L885.1 908.5L887 908L888.9 908.2L890.9 908.5L892.8 908.3L894.8 907.9L896.7 908L898.6 908.1L900.6 908.4L902.5 909L904.4 908.8L906.4 908.5L908.3 908.4L910.3 907.8L912.2 907.7L914.1 908.4L916.1 908L918 907.9L919.9 908.4L921.9 908.4L923.8 908.6L925.8 909.2L927.7 909L929.6 908.7L931.6 909.1L933.5 908.9L935.4 908.7L937.4 908.9L939.3 909.5L941.3 909.3L943.2 908.1L945.1 907.7L947.1 908L949 908.3L950.9 908.3L952.9 908.5L954.8 909L956.8 908.6L958.7 909L960.6 909.1L962.6 908.5L964.5 908L966.4 908.3L968.4 908.7L970.3 908.7L972.3 909L974.2 909.7L976.1 909.8L978.1 908.3L980 907.6L981.9 907.7L983.9 906.7L985.8 906.4L987.8 907.7L989.7 908.2L991.6 908.1L993.6 907.7L995.5 908.2L997.4 908.7L999.4 908.1L1001.3 908.5L1003.3 908.9L1005.2 909.3L1007.1 909.3L1009.1 909.3L1011 909.5L1012.9 908.1L1014.9 907.9L1016.8 908.4L1018.8 908.5L1020.7 907.8L1022.6 907.7L1024.6 908L1026.5 908.4L1028.4 908.9L1030.4 909.1L1032.3 909L1034.3 908.9L1036.2 908.5L1038.1 908L1040.1 908.4L1042 908.8L1043.9 909.8L1045.9 909.8L1047.8 908.7L1049.8 908.2L1051.7 909.4L1053.6 910.5L1055.6 909.3L1057.5 908.9L1059.4 909L1061.4 908.8L1063.3 908.5L1065.3 909L1067.2 909.4L1069.1 908.4L1071.1 908.2L1073 908.8L1074.9 908.7L1076.9 908.3L1078.8 908.8L1080.8 908.6L1082.7 908.1L1084.6 908.3L1086.6 908.3L1088.5 908.6L1090.4 908.7L1092.4 908.3L1094.3 908.9L1096.3 909.1L1098.2 908.3L1100.1 908.3L1102.1 908.8L1104 908.9L1106 909L1107.9 908.5L1109.8 907.4L1111.8 907.3L1113.7 907.9L1115.6 908.1L1117.6 908.4L1119.5 908.8L1121.5 909.1L1123.4 908.4L1125.3 908.1L1127.3 908.9L1129.2 909L1131.1 908.6L1133.1 908.6L1135 908.7L1137 908.4L1138.9 908L1140.8 908.5L1142.8 908.8L1144.7 908.6L1146.6 908.9L1148.6 908.1L1150.5 907.7L1152.5 908.4L1154.4 908.4L1156.3 908.3L1158.3 908.1L1160.2 908.3L1162.1 908.5L1164.1 908.4L1166 908.5L1168 908.5L1169.9 908.7L1171.8 908.6L1173.8 908.1L1175.7 908.3L1177.6 908.8L1179.6 908.5L1181.5 908.6L1183.5 908.4L1185.4 907.9L1187.3 909L1189.3 909.5L1191.2 909L1193.1 908.5L1195.1 907.8L1197 908.5L1199 909.1L1200.9 908.7L1202.8 908.6L1204.8 908.3L1206.7 907.8L1208.6 907.9L1210.6 907.8L1212.5 907.7L1214.5 908.1L1216.4 908.6L1218.3 908.8L1220.3 908.4L1222.2 907.8L1224.1 907.7L1226.1 908.2L1228 908.7L1230 908.4L1231.9 907.9"/>
<path d="M420.1 908.9L422 908.4L423.9 908.3L425.9 908.6L427.8 908.2L429.7 907.9L431.7 908.1L433.6 908.3L435.6 907.8L437.5 907.9L439.4 908.3L441.4 908.1L443.3 908.7L445.2 909.5L447.2 909L449.1 908.1L451.1 908L453 908.5L454.9 908.8L456.9 908.3L458.8 908.2L460.7 909L462.7 908.7L464.6 908.1L466.6 908.2L468.5 907.9L470.4 907.6L472.4 907.7L474.3 908.2L476.2 909.1L478.2 909L480.1 908.3L482.1 908L484 907.5L485.9 907.8L487.9 907.7L489.8 907.9L491.7 908.4L493.7 908.6L495.6 908.7L497.6 908.4L499.5 907.9L501.4 908.2L503.4 908.3L505.3 907.3L507.2 908L509.2 908.8L511.1 908.4L513.1 908L515 907.3L516.9 907.2L518.9 907.9L520.8 908.6L522.7 908.6L524.7 908.3L526.6 908.2L528.6 908.5L530.5 908.1L532.4 908L534.4 908.3L536.3 908L538.2 908.6L540.2 908.6L542.1 908.2L544.1 908.3L546 908.1L547.9 908.1L549.9 907.6L551.8 907L553.7 908.2L555.7 909.4L557.6 908.7L559.6 907.7L561.5 908.1L563.4 908.5L565.4 909L567.3 909.3L569.2 908L571.2 906.8L573.1 907.9L575.1 907.8L577 908.2L578.9 908.6L580.9 907.8L582.8 908.3L584.7 908.6L586.7 908.7L588.6 908.5L590.6 907.8L592.5 907.4L594.4 907.7L596.4 907.7L598.3 908.4L600.2 908.1L602.2 907.4L604.1 908.4L606.1 908.3L608 907.8L609.9 907.4L611.9 906.9L613.8 907.7L615.7 907.6L617.7 906.6L619.6 907.6L621.6 907.9L623.5 907.2L625.4 907.4L627.4 907.3L629.3 908.1L631.2 908.4L633.2 908.2L635.1 907.7L637.1 907.7L639 908.9L640.9 908.2L642.9 907.6L644.8 907.9L646.7 908.1L648.7 907.9L650.6 907.3L652.6 907.8L654.5 908.5L656.4 908.5L658.4 908.3L660.3 908.1L662.2 908.5L664.2 908.4L666.1 908.4L668.1 908.6L670 908.3L671.9 908.3L673.9 907.7L675.8 907L677.7 907.2L679.7 907.2L681.6 907.6L683.6 907.7L685.5 907.6L687.4 908L689.4 907.9L691.3 908.4L693.2 908.7L695.2 908.3L697.1 908L699.1 908L701 908.4L702.9 908.7L704.9 908.4L706.8 908.4L708.7 908.8L710.7 908.5L712.6 908L714.6 908.3L716.5 908.9L718.4 908.5L720.4 907.7L722.3 907.9L724.2 908.3L726.2 908.9L728.1 908.5L730.1 908.1L732 908.1L733.9 908L735.9 908.3L737.8 908.1L739.7 908.7L741.7 907.7L743.6 907.6L745.6 908.5L747.5 908.2L749.4 908.3L751.4 907.6L753.3 908.2L755.3 908.7L757.2 907.9L759.1 907.8L761.1 907.8L763 908.1L764.9 908.8L766.9 909L768.8 908.5L770.8 907.9L772.7 907.7L774.6 907.4L776.6 907.4L778.5 907.9L780.4 907.8L782.4 908.5L784.3 908.3L786.3 908.1L788.2 908.4L790.1 907.3L792.1 907.6L794 908.3L795.9 907.8L797.9 907.8L799.8 907.9L801.8 908.1L803.7 907.4L805.6 907.9L807.6 908.9L809.5 907.8L811.4 907.2L813.4 908L815.3 908.5L817.3 908.3L819.2 907.1L821.1 906.8L823.1 908.1L825 908.2L826.9 908L828.9 907.6L830.8 907.3L832.8 907.4L834.7 907.4L836.6 907.1L838.6 907L840.5 907.6L842.4 908.1L844.4 908.3L846.3 907.9L848.3 907.9L850.2 907.2L852.1 907L854.1 908.1L856 907.8L857.9 907.7L859.9 907.9L861.8 907.7L863.8 908.1L865.7 907.6L867.6 907.3L869.6 907.4L871.5 907.6L873.4 908.4L875.4 908.7L877.3 908.3L879.3 907.8L881.2 907.4L883.1 906.8L885.1 907L887 907L888.9 907L890.9 907.6L892.8 906.6L894.8 906.2L896.7 907.4L898.6 907.3L900.6 906.7L902.5 907L904.4 907L906.4 907.4L908.3 907.9L910.3 908.1L912.2 907.9L914.1 908L916.1 908.4L918 907.8L919.9 907.8L921.9 907.8L923.8 907L925.8 907.5L927.7 907.6L929.6 907.5L931.6 908.3L933.5 908L935.4 907.3L937.4 907.6L939.3 908.2L941.3 908.1L943.2 908.1L945.1 907.9L947.1 907.9L949 908L950.9 907.7L952.9 907.7L954.8 907.5L956.8 907.6L958.7 908.2L960.6 907.3L962.6 906.5L964.5 907.2L966.4 907.4L968.4 907.3L970.3 907.7L972.3 907.6L974.2 907.4L976.1 907.2L978.1 907.9L980 908L981.9 907.3L983.9 907.8L985.8 908L987.8 907.9L989.7 908.2L991.6 908.3L993.6 907.6L995.5 907.9L997.4 908.3L999.4 908.6L1001.3 908.6L1003.3 907.7L1005.2 907.5L1007.1 907.6L1009.1 908L1011 907.8L1012.9 907.7L1014.9 907.6L1016.8 907.3L1018.8 907.7L1020.7 907.3L1022.6 907.3L1024.6 907.4L1026.5 907.2L1028.4 907.6L1030.4 907.3L1032.3 907.1L1034.3 907.5L1036.2 907.6L1038.1 907.6L1040.1 907.5L1042 907.7L1043.9 908L1045.9 908.8L1047.8 908.5L1049.8 907.7L1051.7 907.3L1053.6 907L1055.6 907L1057.5 906.6L1059.4 907L1061.4 907.9L1063.3 907.6L1065.3 907.5L1067.2 907.8L1069.1 907.2L1071.1 906.9L1073 907L1074.9 907.6L1076.9 908L1078.8 907.2L1080.8 907.6L1082.7 907.9L1084.6 907.3L1086.6 908.2L1088.5 907.8L1090.4 907.2L1092.4 907.8L1094.3 907L1096.3 907.6L1098.2 908L1100.1 907.5L1102.1 907.6L1104 907.8L1106 907.3L1107.9 907.4L1109.8 907.7L1111.8 907.1L1113.7 907.2L1115.6 907.2L1117.6 907L1119.5 906.3L1121.5 905.8L1123.4 906.2L1125.3 906.9L1127.3 907.1L1129.2 906.9L1131.1 907.1L1133.1 906.9L1135 907.6L1137 907.3L1138.9 906.7L1140.8 907.9L1142.8 908.4L1144.7 907.7L1146.6 907L1148.6 907.3L1150.5 907.5L1152.5 907.4L1154.4 907.5L1156.3 907.2L1158.3 906.8L1160.2 907.3L1162.1 908L1164.1 907.5L1166 907.1L1168 907.9L1169.9 907.3L1171.8 906.8L1173.8 907.9L1175.7 908.6L1177.6 908.1L1179.6 908L1181.5 907.9L1183.5 906.6L1185.4 905.5L1187.3 906.4L1189.3 907.1L1191.2 906.8L1193.1 907.1L1195.1 907.9L1197 907.5L1199 907.1L1200.9 907.3L1202.8 907L1204.8 907.4L1206.7 907.1L1208.6 906.8L1210.6 907.3L1212.5 907.4L1214.5 907.3L1216.4 906.8L1218.3 907.2L1220.3 907.3L1222.2 907.3L1224.1 907.9L1226.1 907.9L1228 907.2L1230 906.9L1231.9 906.8"/>
<path d="M420.1 908.5L422 908L423.9 908.3L425.9 909L427.8 909.5L429.7 909.1L431.7 908.3L433.6 908.1L435.6 908.1L437.5 908.4L439.4 908.2L441.4 908.5L443.3 908.8L445.2 908.3L447.2 908.4L449.1 908L451.1 907.8L453 908L454.9 907.8L456.9 908.3L458.8 908L460.7 907.5L462.7 908.2L464.6 908.6L466.6 909L468.5 909L470.4 908.7L472.4 908.6L474.3 908.6L476.2 908.5L478.2 908.4L480.1 909.1L482.1 909.3L484 909L485.9 909.3L487.9 909.1L489.8 908.3L491.7 908.6L493.7 909.6L495.6 909.3L497.6 907.5L499.5 907.7L501.4 908.6L503.4 908.6L505.3 908.4L507.2 907.7L509.2 908.1L511.1 908.1L513.1 908.5L515 908.8L516.9 908.9L518.9 908.9L520.8 908.6L522.7 908.6L524.7 908.8L526.6 908.8L528.6 908.4L530.5 908.6L532.4 908.9L534.4 909.1L536.3 908.9L538.2 908.3L540.2 908L542.1 907.8L544.1 907L546 907L547.9 907.3L549.9 907.1L551.8 907.3L553.7 907.8L555.7 908.1L557.6 907.7L559.6 907.8L561.5 908.6L563.4 908.4L565.4 907.7L567.3 907.4L569.2 907.9L571.2 908.1L573.1 908L575.1 908.2L577 908.2L578.9 907.9L580.9 908L582.8 907.5L584.7 907.4L586.7 907.2L588.6 906.1L590.6 905.8L592.5 906.5L594.4 907.5L596.4 908.5L598.3 908.7L600.2 907.4L602.2 908L604.1 909.4L606.1 908.6L608 907.9L609.9 908.8L611.9 909L613.8 908.3L615.7 908.8L617.7 908.6L619.6 908.5L621.6 908.4L623.5 907.9L625.4 908.5L627.4 909.1L629.3 909L631.2 908.5L633.2 908.4L635.1 908.6L637.1 908.6L639 908.1L640.9 908.3L642.9 908.7L644.8 908.2L646.7 908.2L648.7 908L650.6 907.5L652.6 907.9L654.5 908.4L656.4 909.3L658.4 909.4L660.3 908.2L662.2 908.5L664.2 908.2L666.1 908.5L668.1 908.5L670 908L671.9 908.8L673.9 908.8L675.8 908.6L677.7 908.7L679.7 909.1L681.6 908.9L683.6 908.1L685.5 907.8L687.4 907.7L689.4 908L691.3 908.6L693.2 908.5L695.2 908.3L697.1 908.1L699.1 907.5L701 907.4L702.9 908L704.9 907.7L706.8 908.1L708.7 909L710.7 908.5L712.6 908L714.6 908.2L716.5 907.9L718.4 908L720.4 908.4L722.3 908.1L724.2 907.9L726.2 907.7L728.1 907.9L730.1 908.1L732 909L733.9 908.6L735.9 908.3L737.8 908.8L739.7 907.4L741.7 907.5L743.6 908.9L745.6 908.2L747.5 907.8L749.4 908.5L751.4 908.3L753.3 908L755.3 907.7L757.2 908L759.1 907.9L761.1 908.1L763 908.3L764.9 908.2L766.9 908.2L768.8 908.2L770.8 908.6L772.7 907.8L774.6 908.1L776.6 909L778.5 908.4L780.4 908.1L782.4 908.4L784.3 908.4L786.3 907.5L788.2 907.8L790.1 908.6L792.1 908.2L794 908.4L795.9 908.5L797.9 908L799.8 908.3L801.8 908.1L803.7 908.2L805.6 908.6L807.6 908.1L809.5 906.9L811.4 907.6L813.4 908.6L815.3 907.2L817.3 907.5L819.2 908L821.1 907.7L823.1 908.5L825 908.5L826.9 908.3L828.9 908.4L830.8 908.6L832.8 908.4L834.7 908.7L836.6 909L838.6 907.7L840.5 907.5L842.4 908L844.4 908.3L846.3 908.3L848.3 907.3L850.2 907.2L852.1 908.1L854.1 908.3L856 908.5L857.9 908L859.9 908.1L861.8 908.6L863.8 908.5L865.7 908.4L867.6 908.1L869.6 908.2L871.5 908.3L873.4 908.4L875.4 907.9L877.3 907.6L879.3 908.1L881.2 908.1L883.1 908L885.1 908.6L887 908.6L888.9 907.5L890.9 907.3L892.8 907.5L894.8 907.9L896.7 908.8L898.6 908.8L900.6 907.8L902.5 907.9L904.4 908.6L906.4 907.9L908.3 907.7L910.3 908.2L912.2 908L914.1 907.9L916.1 908.1L918 908L919.9 908.2L921.9 908.3L923.8 907.8L925.8 908.1L927.7 908.4L929.6 908.5L931.6 908.1L933.5 907.5L935.4 907.5L937.4 907.3L939.3 907.3L941.3 907.4L943.2 908L945.1 907.9L947.1 908L949 907.5L950.9 907.1L952.9 907.7L954.8 908.2L956.8 908L958.7 907.2L960.6 908.1L962.6 908.7L964.5 908.2L966.4 908.2L968.4 907.4L970.3 906.1L972.3 906.7L974.2 906.8L976.1 906.5L978.1 906.5L980 907.6L981.9 908.5L983.9 907.4L985.8 907.7L987.8 907.7L989.7 907.7L991.6 907.7L993.6 907.3L995.5 907.9L997.4 908.3L999.4 908.2L1001.3 907.6L1003.3 907.5L1005.2 908.1L1007.1 907L1009.1 907.3L1011 908.5L1012.9 907.8L1014.9 908.1L1016.8 908.3L1018.8 908L1020.7 908.5L1022.6 908.2L1024.6 908.1L1026.5 908.5L1028.4 907.7L1030.4 907.8L1032.3 908L1034.3 907.3L1036.2 907.1L1038.1 907.4L1040.1 907.8L1042 908.4L1043.9 908.3L1045.9 907.7L1047.8 907.9L1049.8 908.4L1051.7 907.9L1053.6 907.9L1055.6 908.1L1057.5 907.9L1059.4 908.6L1061.4 907.9L1063.3 907.1L1065.3 907.4L1067.2 908.1L1069.1 908.4L1071.1 907.8L1073 908L1074.9 907.5L1076.9 907.9L1078.8 908.3L1080.8 908.2L1082.7 909L1084.6 908.8L1086.6 908.1L1088.5 907.9L1090.4 908.3L1092.4 908.4L1094.3 908.6L1096.3 908.6L1098.2 908.5L1100.1 908.3L1102.1 908L1104 908.8L1106 908.8L1107.9 907.6L1109.8 907.5L1111.8 908L1113.7 908.1L1115.6 908.3L1117.6 908.1L1119.5 908.3L1121.5 908.3L1123.4 908.4L1125.3 908.3L1127.3 908.2L1129.2 908.1L1131.1 907.2L1133.1 908L1135 908.1L1137 907.7L1138.9 907.5L1140.8 907.6L1142.8 908.1L1144.7 908L1146.6 907.5L1148.6 908L1150.5 908.2L1152.5 907.5L1154.4 907.9L1156.3 908L1158.3 907.5L1160.2 907.2L1162.1 906.9L1164.1 907.4L1166 908.6L1168 908.6L1169.9 908L1171.8 908L1173.8 907.5L1175.7 906.6L1177.6 906.8L1179.6 908.2L1181.5 908L1183.5 907.6L1185.4 908L1187.3 907.4L1189.3 907.3L1191.2 907.6L1193.1 907.7L1195.1 907.4L1197 907.3L1199 906.8L1200.9 908L1202.8 909L1204.8 908.2L1206.7 907.6L1208.6 907.4L1210.6 907.4L1212.5 907.9L1214.5 908.3L1216.4 907.6L1218.3 907.5L1220.3 907.9L1222.2 907.7L1224.1 907L1226.1 907.9L1228 907.9L1230 907.1L1231.9 907.9"/>
</g>
<g font-size="33.3" stroke="#000" stroke-width="0.45">
<text transform="translate(131 952.4) scale(1 1.055)" text-anchor="middle">0</text>
<text transform="translate(222.45 952.51) scale(1 1.055)" text-anchor="middle">5</text>
<text transform="translate(313.9 952.62) scale(1 1.055)" text-anchor="middle">10</text>
<text transform="translate(405.35 952.73) scale(1 1.055)" text-anchor="middle">15</text>
<text transform="translate(496.8 952.84) scale(1 1.055)" text-anchor="middle">20</text>
<text transform="translate(588.25 952.95) scale(1 1.055)" text-anchor="middle">25</text>
<text transform="translate(679.7 953.06) scale(1 1.055)" text-anchor="middle">30</text>
<text transform="translate(771.15 953.17) scale(1 1.055)" text-anchor="middle">35</text>
<text transform="translate(862.6 953.28) scale(1 1.055)" text-anchor="middle">40</text>
<text transform="translate(954.05 953.39) scale(1 1.055)" text-anchor="middle">45</text>
<text transform="translate(1045.5 953.5) scale(1 1.055)" text-anchor="middle">50</text>
<text transform="translate(1136.95 953.61) scale(1 1.055)" text-anchor="middle">55</text>
<text transform="translate(1228.4 953.72) scale(1 1.055)" text-anchor="middle">60</text>
<text transform="translate(680.2 991.9) scale(1.018 1.06)" text-anchor="middle">time (min)</text>
<text transform="translate(120.4 925.3) scale(1 1.055)" text-anchor="end">0</text>
<text transform="translate(120.4 846.48) scale(1 1.055)" text-anchor="end">0.2</text>
<text transform="translate(120.4 767.66) scale(1 1.055)" text-anchor="end">0.4</text>
<text transform="translate(120.4 688.84) scale(1 1.055)" text-anchor="end">0.6</text>
<text transform="translate(120.4 610.02) scale(1 1.055)" text-anchor="end">0.8</text>
<text transform="translate(36.0 733.0) rotate(-90) scale(1 1.06)" text-anchor="middle">Q<tspan font-size="26.7" dy="15.5">fog</tspan><tspan dy="-15.5">(g[H2O]/s)</tspan></text>
</g>
</svg></body></html>
